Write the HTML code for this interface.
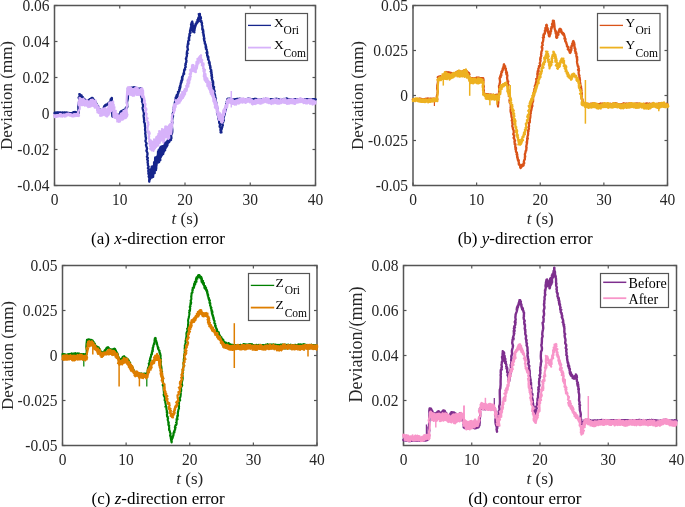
<!DOCTYPE html>
<html><head><meta charset="utf-8"><style>
html,body{margin:0;padding:0;background:#fff;overflow:hidden;}
svg{display:block;will-change:transform;}
</style></head><body>
<svg width="685" height="507" viewBox="0 0 685 507" font-family='"Liberation Serif", serif' fill="#262626"><rect width="685" height="507" fill="#fff"/><rect x="54.5" y="5.5" width="261.0" height="180.0" fill="none" stroke="#555555" stroke-width="1.5"/><line x1="54.5" y1="185.5" x2="57.5" y2="185.5" stroke="#555555" stroke-width="1.2"/><line x1="315.5" y1="185.5" x2="312.5" y2="185.5" stroke="#555555" stroke-width="1.2"/><line x1="54.5" y1="149.5" x2="57.5" y2="149.5" stroke="#555555" stroke-width="1.2"/><line x1="315.5" y1="149.5" x2="312.5" y2="149.5" stroke="#555555" stroke-width="1.2"/><line x1="54.5" y1="113.5" x2="57.5" y2="113.5" stroke="#555555" stroke-width="1.2"/><line x1="315.5" y1="113.5" x2="312.5" y2="113.5" stroke="#555555" stroke-width="1.2"/><line x1="54.5" y1="77.5" x2="57.5" y2="77.5" stroke="#555555" stroke-width="1.2"/><line x1="315.5" y1="77.5" x2="312.5" y2="77.5" stroke="#555555" stroke-width="1.2"/><line x1="54.5" y1="41.5" x2="57.5" y2="41.5" stroke="#555555" stroke-width="1.2"/><line x1="315.5" y1="41.5" x2="312.5" y2="41.5" stroke="#555555" stroke-width="1.2"/><line x1="54.5" y1="5.5" x2="57.5" y2="5.5" stroke="#555555" stroke-width="1.2"/><line x1="315.5" y1="5.5" x2="312.5" y2="5.5" stroke="#555555" stroke-width="1.2"/><line x1="54.5" y1="185.5" x2="54.5" y2="182.5" stroke="#555555" stroke-width="1.2"/><line x1="54.5" y1="5.5" x2="54.5" y2="8.5" stroke="#555555" stroke-width="1.2"/><line x1="119.75" y1="185.5" x2="119.75" y2="182.5" stroke="#555555" stroke-width="1.2"/><line x1="119.75" y1="5.5" x2="119.75" y2="8.5" stroke="#555555" stroke-width="1.2"/><line x1="185.0" y1="185.5" x2="185.0" y2="182.5" stroke="#555555" stroke-width="1.2"/><line x1="185.0" y1="5.5" x2="185.0" y2="8.5" stroke="#555555" stroke-width="1.2"/><line x1="250.25" y1="185.5" x2="250.25" y2="182.5" stroke="#555555" stroke-width="1.2"/><line x1="250.25" y1="5.5" x2="250.25" y2="8.5" stroke="#555555" stroke-width="1.2"/><line x1="315.5" y1="185.5" x2="315.5" y2="182.5" stroke="#555555" stroke-width="1.2"/><line x1="315.5" y1="5.5" x2="315.5" y2="8.5" stroke="#555555" stroke-width="1.2"/><rect x="413.0" y="5.5" width="254.5" height="180.0" fill="none" stroke="#555555" stroke-width="1.5"/><line x1="413.0" y1="185.5" x2="416.0" y2="185.5" stroke="#555555" stroke-width="1.2"/><line x1="667.5" y1="185.5" x2="664.5" y2="185.5" stroke="#555555" stroke-width="1.2"/><line x1="413.0" y1="140.5" x2="416.0" y2="140.5" stroke="#555555" stroke-width="1.2"/><line x1="667.5" y1="140.5" x2="664.5" y2="140.5" stroke="#555555" stroke-width="1.2"/><line x1="413.0" y1="95.5" x2="416.0" y2="95.5" stroke="#555555" stroke-width="1.2"/><line x1="667.5" y1="95.5" x2="664.5" y2="95.5" stroke="#555555" stroke-width="1.2"/><line x1="413.0" y1="50.49999999999997" x2="416.0" y2="50.49999999999997" stroke="#555555" stroke-width="1.2"/><line x1="667.5" y1="50.49999999999997" x2="664.5" y2="50.49999999999997" stroke="#555555" stroke-width="1.2"/><line x1="413.0" y1="5.5" x2="416.0" y2="5.5" stroke="#555555" stroke-width="1.2"/><line x1="667.5" y1="5.5" x2="664.5" y2="5.5" stroke="#555555" stroke-width="1.2"/><line x1="413.0" y1="185.5" x2="413.0" y2="182.5" stroke="#555555" stroke-width="1.2"/><line x1="413.0" y1="5.5" x2="413.0" y2="8.5" stroke="#555555" stroke-width="1.2"/><line x1="476.625" y1="185.5" x2="476.625" y2="182.5" stroke="#555555" stroke-width="1.2"/><line x1="476.625" y1="5.5" x2="476.625" y2="8.5" stroke="#555555" stroke-width="1.2"/><line x1="540.25" y1="185.5" x2="540.25" y2="182.5" stroke="#555555" stroke-width="1.2"/><line x1="540.25" y1="5.5" x2="540.25" y2="8.5" stroke="#555555" stroke-width="1.2"/><line x1="603.875" y1="185.5" x2="603.875" y2="182.5" stroke="#555555" stroke-width="1.2"/><line x1="603.875" y1="5.5" x2="603.875" y2="8.5" stroke="#555555" stroke-width="1.2"/><line x1="667.5" y1="185.5" x2="667.5" y2="182.5" stroke="#555555" stroke-width="1.2"/><line x1="667.5" y1="5.5" x2="667.5" y2="8.5" stroke="#555555" stroke-width="1.2"/><rect x="62.5" y="265.5" width="254.5" height="180.0" fill="none" stroke="#555555" stroke-width="1.5"/><line x1="62.5" y1="445.5" x2="65.5" y2="445.5" stroke="#555555" stroke-width="1.2"/><line x1="317.0" y1="445.5" x2="314.0" y2="445.5" stroke="#555555" stroke-width="1.2"/><line x1="62.5" y1="400.5" x2="65.5" y2="400.5" stroke="#555555" stroke-width="1.2"/><line x1="317.0" y1="400.5" x2="314.0" y2="400.5" stroke="#555555" stroke-width="1.2"/><line x1="62.5" y1="355.5" x2="65.5" y2="355.5" stroke="#555555" stroke-width="1.2"/><line x1="317.0" y1="355.5" x2="314.0" y2="355.5" stroke="#555555" stroke-width="1.2"/><line x1="62.5" y1="310.5" x2="65.5" y2="310.5" stroke="#555555" stroke-width="1.2"/><line x1="317.0" y1="310.5" x2="314.0" y2="310.5" stroke="#555555" stroke-width="1.2"/><line x1="62.5" y1="265.5" x2="65.5" y2="265.5" stroke="#555555" stroke-width="1.2"/><line x1="317.0" y1="265.5" x2="314.0" y2="265.5" stroke="#555555" stroke-width="1.2"/><line x1="62.5" y1="445.5" x2="62.5" y2="442.5" stroke="#555555" stroke-width="1.2"/><line x1="62.5" y1="265.5" x2="62.5" y2="268.5" stroke="#555555" stroke-width="1.2"/><line x1="126.125" y1="445.5" x2="126.125" y2="442.5" stroke="#555555" stroke-width="1.2"/><line x1="126.125" y1="265.5" x2="126.125" y2="268.5" stroke="#555555" stroke-width="1.2"/><line x1="189.75" y1="445.5" x2="189.75" y2="442.5" stroke="#555555" stroke-width="1.2"/><line x1="189.75" y1="265.5" x2="189.75" y2="268.5" stroke="#555555" stroke-width="1.2"/><line x1="253.375" y1="445.5" x2="253.375" y2="442.5" stroke="#555555" stroke-width="1.2"/><line x1="253.375" y1="265.5" x2="253.375" y2="268.5" stroke="#555555" stroke-width="1.2"/><line x1="317.0" y1="445.5" x2="317.0" y2="442.5" stroke="#555555" stroke-width="1.2"/><line x1="317.0" y1="265.5" x2="317.0" y2="268.5" stroke="#555555" stroke-width="1.2"/><rect x="403.5" y="265.5" width="273.0" height="180.0" fill="none" stroke="#555555" stroke-width="1.5"/><line x1="403.5" y1="400.5" x2="406.5" y2="400.5" stroke="#555555" stroke-width="1.2"/><line x1="676.5" y1="400.5" x2="673.5" y2="400.5" stroke="#555555" stroke-width="1.2"/><line x1="403.5" y1="355.5" x2="406.5" y2="355.5" stroke="#555555" stroke-width="1.2"/><line x1="676.5" y1="355.5" x2="673.5" y2="355.5" stroke="#555555" stroke-width="1.2"/><line x1="403.5" y1="310.5" x2="406.5" y2="310.5" stroke="#555555" stroke-width="1.2"/><line x1="676.5" y1="310.5" x2="673.5" y2="310.5" stroke="#555555" stroke-width="1.2"/><line x1="403.5" y1="265.5" x2="406.5" y2="265.5" stroke="#555555" stroke-width="1.2"/><line x1="676.5" y1="265.5" x2="673.5" y2="265.5" stroke="#555555" stroke-width="1.2"/><line x1="403.5" y1="445.5" x2="403.5" y2="442.5" stroke="#555555" stroke-width="1.2"/><line x1="403.5" y1="265.5" x2="403.5" y2="268.5" stroke="#555555" stroke-width="1.2"/><line x1="471.75" y1="445.5" x2="471.75" y2="442.5" stroke="#555555" stroke-width="1.2"/><line x1="471.75" y1="265.5" x2="471.75" y2="268.5" stroke="#555555" stroke-width="1.2"/><line x1="540.0" y1="445.5" x2="540.0" y2="442.5" stroke="#555555" stroke-width="1.2"/><line x1="540.0" y1="265.5" x2="540.0" y2="268.5" stroke="#555555" stroke-width="1.2"/><line x1="608.25" y1="445.5" x2="608.25" y2="442.5" stroke="#555555" stroke-width="1.2"/><line x1="608.25" y1="265.5" x2="608.25" y2="268.5" stroke="#555555" stroke-width="1.2"/><line x1="676.5" y1="445.5" x2="676.5" y2="442.5" stroke="#555555" stroke-width="1.2"/><line x1="676.5" y1="265.5" x2="676.5" y2="268.5" stroke="#555555" stroke-width="1.2"/><polyline points="54.00,112.98 54.85,112.80 55.20,112.67 54.41,113.08 55.04,112.56 55.01,113.11 55.17,112.68 55.10,112.57 55.50,112.81 55.36,112.69 55.71,112.68 55.40,112.71 56.06,113.04 55.81,112.91 56.61,113.12 56.21,112.58 56.72,112.93 56.55,113.05 56.93,112.98 56.97,112.65 57.35,112.98 57.22,112.74 57.00,112.45 57.30,112.89 57.56,112.50 57.81,112.81 57.70,112.60 58.16,112.67 57.90,112.66 57.66,112.63 58.46,112.36 58.48,112.91 58.18,112.55 59.12,112.61 58.80,112.77 58.62,112.82 59.46,112.61 59.09,112.65 59.31,112.47 58.89,112.88 59.83,112.79 59.88,112.86 59.78,112.82 59.81,112.68 60.38,112.39 59.84,112.71 60.25,112.69 60.23,112.62 60.64,112.74 60.60,112.80 60.49,112.47 60.97,112.58 61.31,113.01 61.46,112.99 61.61,112.69 60.97,112.96 61.03,112.58 61.39,113.04 61.89,112.67 61.46,112.83 62.04,112.73 61.91,112.75 62.22,113.09 62.37,112.86 62.40,112.69 62.33,112.94 63.17,112.76 62.60,113.00 63.33,113.06 62.66,112.71 63.49,112.78 63.60,112.79 63.56,113.09 64.12,112.81 63.79,113.15 64.04,112.79 64.10,112.88 64.28,112.83 64.07,112.66 64.77,113.19 64.88,112.78 65.09,112.76 64.69,113.01 64.41,112.70 64.56,113.06 65.61,113.01 64.94,112.85 65.87,113.02 65.53,112.91 65.50,112.71 65.95,112.60 65.59,112.73 66.19,112.53 66.15,112.65 66.65,112.67 65.92,113.02 66.35,112.60 66.93,113.09 66.49,112.71 67.24,112.93 66.87,113.10 67.34,113.09 67.76,112.87 67.63,112.75 67.20,112.69 67.37,113.21 67.88,113.15 67.77,113.23 67.82,112.96 68.26,113.31 68.67,113.40 68.46,112.94 68.07,112.96 69.02,112.97 69.11,113.44 69.02,113.20 68.91,113.50 68.88,113.40 69.05,113.13 69.47,113.64 69.49,113.69 69.94,113.32 69.29,113.67 69.50,113.58 70.42,113.26 69.90,113.22 70.20,113.79 70.08,113.27 70.78,113.34 71.07,113.25 71.25,113.40 70.70,113.70 71.01,113.29 71.31,113.17 70.80,113.10 71.21,113.63 71.49,113.37 71.22,113.16 72.26,113.47 71.52,113.46 72.15,112.96 72.21,113.37 72.45,113.15 72.45,112.84 72.28,112.81 72.44,112.62 72.74,113.11 73.06,112.86 72.93,112.98 72.99,112.54 73.64,112.50 73.22,112.80 73.58,112.41 73.76,112.52 73.31,112.28 73.49,112.24 73.61,112.39 74.30,112.07 74.58,112.18 74.78,112.28 74.54,112.05 74.24,112.43 74.47,112.51 75.40,112.40 74.86,112.43 75.18,112.01 75.09,112.51 75.06,112.51 75.08,112.53 76.07,112.20 76.20,112.52 76.17,112.58 75.72,112.52 75.83,112.40 76.46,112.62 75.99,112.38 76.85,112.85 76.71,112.65 76.75,112.88 76.76,112.66 76.57,112.63 77.09,112.92 76.86,112.92 77.06,112.85 77.31,112.76 77.57,113.23 77.91,113.02 77.43,112.97 78.05,113.19 78.11,113.30 78.53,113.36 78.42,109.88 78.28,106.81 78.74,103.55 79.22,100.62 79.09,98.96 78.65,97.55 79.60,96.54 79.63,95.04 79.31,94.18 79.98,94.23 79.95,94.20 79.97,94.58 80.40,94.81 80.20,95.02 80.01,94.70 80.45,94.88 80.06,95.35 80.85,95.44 80.78,95.38 81.12,95.41 81.50,95.48 81.27,96.07 81.68,95.89 81.03,96.44 81.86,96.46 81.85,96.53 82.20,96.53 81.78,96.98 81.96,97.02 81.98,96.77 82.69,96.89 82.02,97.53 82.44,97.46 82.45,97.31 83.03,97.53 82.60,97.54 82.56,97.95 83.27,98.21 83.00,98.49 83.46,98.31 83.63,98.47 83.85,98.61 84.10,99.10 83.97,99.37 84.40,99.25 84.24,99.58 84.08,99.52 84.73,99.41 84.80,99.46 85.14,99.77 85.27,99.95 84.93,99.63 84.86,99.95 85.03,99.96 84.80,100.03 85.37,100.04 85.45,100.01 85.86,100.35 85.95,100.24 85.63,100.22 85.83,100.06 86.56,100.47 86.31,100.67 86.39,100.82 86.46,100.78 87.16,100.78 86.47,100.57 86.96,100.82 86.55,100.71 87.10,100.78 87.66,100.85 87.66,101.00 87.80,101.24 87.92,101.05 87.95,101.19 87.83,101.09 88.19,100.99 88.46,101.08 88.57,100.93 88.53,100.82 88.32,100.44 89.05,100.56 88.46,100.36 88.92,100.44 88.60,100.12 89.43,100.05 89.16,99.90 88.95,99.95 90.01,99.76 89.59,99.78 89.92,99.68 89.64,99.29 89.83,99.60 90.52,99.02 90.18,99.19 90.68,99.09 90.72,98.79 91.01,99.01 90.93,98.65 91.00,98.53 91.36,98.39 91.02,98.71 91.78,98.22 91.79,98.41 91.97,97.90 91.51,98.15 92.08,97.93 91.64,98.03 91.74,97.82 92.14,97.92 92.55,98.09 92.21,98.11 92.22,98.27 92.92,98.23 93.08,98.57 93.17,98.69 92.89,99.17 93.10,99.00 92.93,99.42 93.01,99.43 93.97,99.86 93.24,99.82 94.15,100.30 94.07,100.64 94.42,100.46 94.41,100.51 94.24,100.68 94.34,101.10 94.32,101.09 94.68,101.66 94.55,101.70 94.80,101.97 95.50,102.08 94.77,102.51 95.70,102.58 95.35,102.49 96.02,102.84 96.10,102.93 95.50,103.34 95.49,103.63 96.26,103.37 96.11,103.53 96.31,103.78 96.88,104.42 96.16,104.15 96.27,104.85 96.47,104.73 96.51,104.85 97.35,105.40 97.58,105.66 97.25,105.88 97.95,106.10 97.35,106.34 98.17,106.24 97.71,106.80 98.05,107.05 97.67,107.25 98.15,107.40 98.74,107.56 98.65,107.95 98.86,108.38 98.99,108.64 99.34,108.61 99.41,108.80 99.47,109.48 98.84,109.25 99.34,109.96 99.98,109.95 99.65,110.00 99.38,110.49 100.08,110.71 99.52,111.25 99.72,111.11 99.84,111.35 100.26,110.96 100.31,111.44 100.92,111.15 101.11,111.61 100.80,111.37 101.06,111.39 100.96,111.49 101.71,111.82 100.98,111.74 101.45,111.83 101.84,112.07 101.95,112.02 102.27,111.87 101.79,112.08 102.00,111.35 101.85,111.23 102.45,110.79 102.82,110.27 102.45,110.30 102.61,109.75 103.14,109.43 103.04,109.19 103.55,108.65 103.09,108.41 103.87,107.92 103.93,107.83 104.12,107.77 104.20,107.37 104.20,107.10 104.05,106.50 104.64,106.65 104.48,106.65 104.26,106.52 104.67,106.52 104.62,106.08 104.81,106.32 104.55,105.73 105.09,105.94 104.84,105.97 105.51,105.58 105.01,105.26 105.30,105.47 105.42,105.11 105.81,105.34 105.48,104.92 106.18,105.30 106.52,104.81 106.15,104.63 106.62,105.05 106.93,104.63 107.03,104.73 106.71,104.83 106.96,104.62 107.34,104.69 107.48,104.48 107.04,104.56 107.66,103.99 107.55,104.24 107.57,103.98 108.09,104.13 107.46,103.85 108.00,103.91 107.97,103.41 107.80,103.61 108.22,103.16 108.79,103.51 108.71,103.44 108.85,103.09 108.96,102.94 109.50,102.99 109.30,102.62 109.10,102.43 109.51,102.41 110.02,102.30 109.81,101.94 110.03,102.29 109.79,101.90 110.49,101.65 110.34,101.81 110.73,101.66 110.31,101.33 110.85,100.79 110.92,100.43 110.64,100.19 110.54,99.87 110.97,99.51 110.85,99.01 111.66,98.85 111.21,98.75 111.31,98.70 111.91,98.11 111.73,97.93 111.92,101.09 112.06,104.17 112.42,107.44 111.96,110.03 112.20,113.68 112.35,116.25 113.18,116.51 113.08,116.45 112.57,116.70 113.60,116.57 113.26,116.53 113.80,116.42 113.09,116.80 113.53,116.56 113.35,116.64 113.64,116.41 114.28,116.56 114.40,116.81 113.83,116.72 114.53,116.57 114.50,116.54 114.23,116.93 114.35,116.92 115.27,116.67 115.01,116.58 115.51,116.73 115.03,117.10 115.77,116.82 115.21,116.87 115.46,117.02 115.26,116.87 116.03,117.19 116.47,117.16 116.17,116.77 116.51,116.88 116.11,117.13 116.71,116.78 116.26,116.86 116.82,116.73 117.34,116.96 117.12,116.90 117.05,116.66 117.46,116.72 117.10,116.69 117.48,116.72 117.75,116.68 118.15,116.55 117.93,116.83 117.84,116.41 118.29,116.76 118.66,116.79 118.39,116.45 118.15,116.42 118.40,116.27 118.81,116.20 118.96,116.52 118.75,116.23 119.22,115.66 119.20,115.79 118.93,114.98 119.65,114.88 119.38,114.47 120.27,114.55 120.01,114.07 119.56,113.90 119.80,113.52 120.56,113.20 119.96,113.19 120.77,112.57 120.49,112.32 120.34,112.16 120.56,111.76 121.48,111.73 120.92,111.62 121.07,111.39 121.25,111.23 121.40,111.42 121.82,111.27 121.91,111.24 121.83,111.19 122.17,111.02 122.24,110.87 122.19,110.83 122.56,110.99 122.10,110.73 122.35,110.65 122.73,110.43 122.68,110.57 123.08,110.36 123.08,110.43 123.17,110.16 123.47,110.44 123.89,110.33 123.86,110.38 123.61,109.92 123.58,110.26 123.69,110.35 123.89,110.27 124.65,110.20 124.81,109.84 124.90,109.68 124.61,109.76 124.90,109.54 125.09,109.58 125.15,109.84 125.63,109.30 125.44,109.79 125.49,109.26 125.51,109.36 125.78,109.10 126.24,108.68 126.04,108.47 126.03,108.05 126.39,107.83 125.86,107.60 126.08,107.46 126.42,107.49 127.18,107.14 126.97,107.31 127.27,107.04 127.38,106.50 127.26,106.28 126.99,102.32 127.88,98.54 127.98,94.24 127.89,92.26 128.14,90.65 127.93,88.08 127.92,88.28 128.19,88.55 128.51,88.48 128.06,88.37 129.02,88.47 128.90,88.16 128.72,88.35 129.48,88.48 129.53,88.07 129.59,88.28 129.60,88.14 129.34,88.09 129.79,88.60 129.72,88.48 129.88,88.28 130.23,88.44 130.08,88.08 130.33,88.27 130.73,88.48 130.39,87.99 130.17,87.95 130.45,87.90 131.06,88.29 130.81,88.28 131.61,87.87 131.72,88.24 131.29,87.72 131.76,88.06 131.68,88.20 131.28,87.85 132.38,88.07 132.19,88.10 131.89,87.73 132.71,87.96 132.08,88.04 132.54,87.79 132.95,87.67 133.00,87.95 133.09,87.79 133.07,87.74 133.43,87.48 133.42,87.38 133.47,87.53 133.51,87.68 133.40,87.87 134.24,87.29 133.69,87.47 134.13,87.54 134.37,87.89 134.32,87.50 134.41,87.60 134.20,87.60 134.55,87.61 135.11,87.52 134.57,87.65 135.38,87.80 135.29,87.97 135.13,87.98 135.17,87.67 135.32,87.84 135.32,87.96 135.55,87.81 136.22,87.90 135.74,88.15 136.54,88.14 136.35,88.28 136.12,88.23 136.13,88.42 136.23,88.57 136.68,88.60 137.02,88.61 137.09,88.33 136.92,88.35 137.09,88.58 137.92,88.79 137.89,88.65 137.89,88.60 137.84,88.71 138.26,88.59 138.02,88.68 138.49,88.76 138.42,88.95 138.19,89.07 138.89,88.66 139.00,88.82 138.94,89.20 139.29,88.69 138.81,89.00 139.20,88.73 139.72,88.67 139.76,89.00 139.99,88.79 139.91,88.61 139.32,88.66 139.64,88.55 139.95,88.90 140.31,88.70 140.46,88.53 140.87,88.74 140.93,88.60 140.97,88.84 140.59,88.48 141.28,88.25 141.13,88.23 140.74,88.39 141.67,91.25 141.92,94.45 141.22,95.88 141.30,96.96 141.82,98.02 142.10,99.56 142.15,100.33 141.96,101.75 142.77,102.89 142.80,104.49 143.05,105.18 143.11,106.66 142.55,107.74 142.81,109.43 143.16,110.16 143.62,111.99 143.90,112.90 143.88,114.40 143.56,115.58 143.76,117.01 143.97,118.30 144.02,119.56 144.26,120.55 143.95,121.76 144.78,123.39 144.92,124.67 144.95,126.44 145.30,127.68 145.01,129.37 145.13,130.43 145.59,131.84 145.18,133.49 145.57,135.08 145.55,136.56 146.04,138.05 145.81,139.40 145.44,141.07 145.89,142.13 146.59,143.61 145.93,145.02 146.45,146.56 147.07,148.31 146.81,149.76 146.39,150.70 147.27,152.49 147.55,153.70 147.28,155.29 146.90,156.75 147.89,157.90 147.16,159.37 147.93,160.79 147.54,162.19 147.94,163.61 147.89,165.29 148.69,166.77 147.91,168.14 148.89,169.24 148.22,170.96 148.58,172.11 148.37,173.69 149.22,174.83 148.64,176.57 149.39,177.79 149.27,179.36 149.17,180.82 149.23,181.71 149.35,181.08 149.55,179.15 150.45,176.89 150.58,176.90 149.96,178.40 149.88,179.41 150.03,179.43 150.68,172.18 151.02,169.49 151.20,169.96 151.04,169.17 150.93,170.70 151.15,173.43 151.56,172.16 151.21,169.79 151.46,174.96 151.72,177.60 151.44,172.22 151.65,166.76 152.34,173.61 152.24,177.33 152.28,174.25 152.49,166.32 153.00,173.86 153.16,176.85 153.00,171.78 153.06,170.78 153.29,172.94 153.29,175.12 153.80,169.79 153.62,172.37 154.04,170.46 153.62,170.67 154.09,166.19 154.08,162.14 153.98,173.44 154.58,166.83 154.71,173.14 154.52,168.56 154.91,165.52 155.18,163.96 155.28,158.62 154.97,168.61 155.13,157.85 155.71,165.62 155.26,169.25 155.30,157.50 155.96,170.17 156.13,157.30 156.18,168.96 156.66,157.95 156.01,164.51 156.45,165.18 156.44,162.13 156.62,157.84 156.79,160.91 156.52,165.49 157.51,155.75 157.32,161.28 157.07,161.32 157.16,157.77 158.06,154.15 158.08,162.11 158.03,151.61 157.95,155.59 157.61,160.38 158.25,155.99 158.34,162.57 158.55,154.80 158.37,158.14 158.48,157.42 158.64,150.05 158.94,150.84 159.45,156.09 159.45,159.09 159.09,162.00 159.18,153.73 159.59,150.02 159.33,155.07 160.30,160.10 159.45,148.97 160.31,148.69 159.77,158.45 160.36,147.70 159.97,151.57 160.29,147.45 160.50,149.64 160.58,153.67 160.67,149.73 160.82,157.21 161.16,153.13 161.24,150.37 161.14,146.63 161.85,153.47 161.39,148.60 161.43,155.94 162.34,154.49 162.42,147.33 161.76,147.22 162.18,148.47 162.41,151.41 162.76,153.26 162.42,146.26 162.46,152.30 163.28,154.07 162.88,146.75 163.14,146.88 162.88,146.66 163.17,146.51 163.55,147.22 163.88,151.74 164.21,149.19 163.90,146.96 164.43,145.54 164.64,150.74 163.96,148.23 164.77,143.70 164.63,150.07 165.16,150.10 164.72,148.58 164.83,146.11 165.07,145.49 164.85,142.60 165.42,143.55 165.69,148.26 165.56,143.17 165.36,146.18 165.96,142.46 166.12,143.32 166.46,142.79 166.15,143.48 166.74,144.72 166.82,146.59 166.17,145.07 166.76,142.21 167.08,146.20 166.83,141.96 167.11,145.56 167.58,144.87 167.48,144.22 167.32,143.48 168.05,140.96 167.50,140.47 168.31,142.62 167.72,140.89 167.93,143.04 168.09,141.32 168.80,139.95 167.99,142.11 168.24,139.90 169.12,140.72 168.59,139.83 169.00,140.28 169.15,142.10 169.28,141.96 169.74,140.30 169.47,140.64 169.48,140.29 169.32,139.91 170.14,139.09 169.71,138.75 169.99,138.72 170.12,138.27 170.56,139.79 170.10,140.40 170.33,139.63 170.84,138.66 171.06,139.91 170.54,140.17 171.13,138.25 170.83,137.40 171.46,138.17 171.10,135.37 171.91,133.61 172.30,131.97 172.32,129.82 172.05,127.52 171.77,124.98 172.49,122.10 171.99,121.37 172.43,117.97 173.07,116.01 172.67,113.73 173.45,111.89 173.26,110.98 173.19,110.00 173.10,110.59 173.67,109.16 173.72,108.81 173.95,108.24 173.75,107.21 174.05,106.68 174.53,106.29 174.23,105.41 174.89,105.39 174.77,103.93 174.91,103.30 174.81,102.37 175.13,102.47 175.35,102.31 175.18,101.17 175.37,99.75 175.68,99.87 175.66,98.65 175.93,97.83 175.76,98.67 176.11,98.23 175.66,97.44 176.06,97.82 176.27,96.73 176.90,97.40 177.04,96.76 176.69,95.94 176.56,95.43 176.51,96.37 177.08,95.77 177.69,95.95 177.09,94.45 177.28,95.38 177.99,93.95 177.51,94.26 177.75,93.87 178.00,93.44 178.19,92.74 178.29,93.53 178.11,93.00 177.96,91.81 178.19,92.67 178.85,91.53 178.94,91.73 179.26,91.02 179.41,90.73 179.42,89.89 179.22,89.41 179.14,89.35 179.94,88.82 179.41,87.71 179.79,88.49 180.38,87.14 179.77,87.16 179.91,86.40 180.41,86.13 180.05,85.66 180.34,85.34 180.68,84.73 180.47,84.29 180.97,82.63 181.09,83.38 180.92,82.30 181.31,81.87 181.76,81.89 181.29,80.84 182.24,79.91 181.62,80.10 181.74,79.92 182.53,78.96 181.89,78.01 182.07,77.48 182.36,77.47 182.19,76.88 182.75,76.71 182.73,76.59 182.87,75.89 182.86,75.65 183.27,74.80 183.49,74.27 183.40,73.89 184.16,73.81 183.98,72.94 183.79,72.67 184.06,71.99 184.12,71.33 184.08,70.90 184.19,69.97 184.37,69.94 185.16,69.68 184.71,69.13 184.85,68.85 185.24,67.50 185.18,67.38 185.75,67.01 185.25,65.26 185.85,64.36 185.45,63.73 186.31,62.22 186.14,62.13 186.50,60.77 185.85,58.70 186.30,58.36 186.33,57.49 186.97,55.87 186.70,54.08 186.95,53.12 187.53,53.31 186.81,52.30 187.34,50.50 187.62,49.91 187.99,49.68 187.33,46.70 187.46,47.60 187.55,46.81 187.69,45.02 188.02,43.07 188.52,44.00 188.08,41.98 188.25,41.31 188.70,40.22 189.26,40.10 189.00,38.29 188.74,38.76 188.86,37.46 189.20,38.09 189.46,35.17 190.00,35.62 189.45,35.36 189.38,35.09 189.54,33.79 189.82,33.40 190.58,32.63 190.00,31.85 190.13,30.18 191.15,30.30 190.94,29.09 190.56,28.75 190.90,27.28 191.09,27.56 191.36,25.86 191.01,24.74 191.10,24.11 191.66,24.53 191.91,23.69 192.28,21.52 191.61,22.80 192.51,22.77 192.71,23.70 192.64,25.55 192.89,27.27 192.28,27.20 193.05,27.72 193.08,28.97 193.46,29.25 193.38,29.77 193.02,31.55 193.13,30.60 193.60,31.34 193.32,29.72 194.36,32.41 193.97,30.39 193.72,30.51 194.42,29.72 194.52,30.57 194.41,28.66 194.65,29.25 194.98,27.38 194.44,26.74 195.37,26.61 194.72,25.79 195.66,24.85 195.54,24.62 195.52,24.31 195.37,26.21 195.87,24.39 195.95,24.84 195.56,24.12 195.92,24.41 196.21,24.23 196.90,23.07 197.00,22.97 196.69,23.13 196.46,22.35 196.86,23.24 196.72,22.69 197.32,22.25 197.46,22.65 197.60,21.51 197.52,21.74 197.48,21.58 197.45,19.86 198.32,21.57 197.81,20.53 198.47,19.91 198.11,18.48 198.93,16.69 198.91,18.35 198.92,16.24 198.86,16.79 199.42,14.08 199.34,14.48 198.76,14.03 198.84,14.02 199.92,13.91 199.65,15.41 199.89,14.30 199.97,15.98 200.39,16.59 200.20,16.36 200.31,16.97 200.03,17.75 200.09,16.52 200.66,16.88 201.01,18.30 200.50,18.67 200.57,21.13 201.29,20.61 201.00,21.83 201.43,21.58 201.84,22.58 202.04,23.36 201.85,23.58 201.84,24.88 202.30,25.93 202.38,26.18 202.38,26.64 202.29,28.88 202.35,29.65 203.03,29.50 203.03,31.34 203.31,30.79 203.36,31.77 202.84,32.46 203.44,33.12 203.39,34.94 203.68,34.44 203.91,36.21 203.57,35.62 204.08,37.36 204.41,38.33 204.33,38.72 203.80,38.80 204.35,40.00 204.15,40.80 204.79,41.45 204.97,42.16 204.92,42.19 204.77,42.37 204.83,43.70 205.42,44.05 205.80,45.04 205.59,45.47 205.92,46.10 206.24,47.03 205.55,47.00 206.16,47.86 205.87,48.99 206.40,49.11 206.76,49.67 206.84,50.02 206.90,50.66 207.25,52.11 206.46,52.84 207.47,53.06 207.15,53.78 207.10,54.31 207.35,54.94 207.10,55.73 207.33,55.75 208.30,56.56 208.30,56.73 207.61,56.92 208.12,58.27 208.51,57.82 208.05,59.52 208.44,59.67 208.29,59.43 208.65,60.00 209.01,60.93 209.45,61.93 208.90,62.82 209.74,63.06 209.59,63.10 209.75,64.71 209.56,64.88 210.21,65.86 209.81,65.50 210.12,65.64 210.55,67.44 210.14,67.01 210.28,67.78 210.31,68.59 211.19,69.83 211.02,71.01 211.43,71.02 210.69,71.63 211.57,72.40 211.21,73.84 211.66,73.93 211.94,75.11 211.36,75.78 211.63,76.03 212.24,77.43 211.66,78.24 212.23,79.56 212.09,79.75 212.24,80.10 213.06,81.37 212.62,81.65 212.43,82.45 213.31,82.82 212.69,84.92 213.23,84.42 213.15,85.48 213.22,87.02 214.06,86.82 213.96,88.16 213.43,88.96 213.55,90.13 214.13,89.81 214.72,91.39 214.04,90.96 214.16,91.69 214.23,93.66 214.47,93.86 214.68,93.83 215.07,95.04 215.19,96.76 215.07,97.14 215.40,97.50 215.95,98.65 215.21,99.24 215.63,99.88 215.84,100.96 216.30,102.74 216.53,103.19 215.89,104.45 216.09,105.03 216.48,105.50 216.26,106.17 217.06,106.92 217.39,108.85 217.18,108.41 217.26,109.52 217.03,110.87 217.48,111.13 217.97,111.79 217.27,113.67 218.22,114.27 218.10,113.93 217.82,115.27 218.34,116.48 218.84,117.21 218.69,118.17 218.22,118.78 218.76,118.77 218.78,119.77 219.13,120.95 219.11,121.75 219.16,122.65 219.49,123.48 219.68,123.39 219.87,123.77 220.12,125.23 219.86,125.27 219.63,126.76 220.60,127.77 220.59,128.35 220.41,129.57 220.97,129.73 220.49,130.73 221.11,131.37 220.60,132.49 221.29,132.31 221.46,132.40 221.24,131.42 221.24,131.36 221.14,129.83 221.87,128.91 221.59,128.92 221.67,128.31 222.27,127.21 222.21,126.95 222.36,126.27 222.85,125.41 222.71,124.60 222.31,124.22 222.44,122.69 223.07,122.23 223.34,121.75 223.66,120.56 223.88,120.01 223.89,119.35 223.19,118.86 223.69,117.99 223.66,117.67 223.72,116.70 224.21,115.86 223.96,115.61 224.15,115.13 224.72,114.58 224.61,113.99 224.91,113.29 224.84,112.61 224.82,111.87 225.60,111.16 225.63,110.39 225.09,110.18 225.89,109.39 225.68,108.83 225.47,108.22 226.17,107.91 225.90,106.89 226.55,106.55 226.09,105.86 226.47,105.15 226.75,104.88 226.20,103.90 226.56,103.57 226.59,103.12 227.35,102.62 226.69,101.59 226.91,101.36 227.31,100.39 227.14,99.83 227.83,99.49 227.36,99.07 227.90,98.63 227.76,99.05 227.79,98.97 228.67,99.17 228.31,99.20 228.87,98.70 228.53,98.93 229.01,98.94 228.86,99.13 228.70,98.87 229.64,98.76 228.87,99.32 229.90,99.11 230.02,99.12 229.90,98.87 229.42,99.31 230.37,98.94 230.17,98.97 230.39,99.39 230.10,99.32 230.07,99.38 230.54,99.12 230.21,99.32 230.67,98.95 231.34,99.01 231.14,99.20 231.54,99.20 231.70,99.51 231.54,99.01 231.97,99.44 231.65,99.32 231.31,99.10 231.71,99.02 231.96,99.45 231.95,99.35 232.72,99.62 232.31,99.21 232.45,99.12 232.91,99.21 232.99,99.27 233.14,99.10 232.84,99.48 233.54,99.57 233.50,99.66 233.51,99.39 233.37,99.60 233.97,99.68 234.06,99.58 234.24,99.20 234.24,99.44 234.10,99.57 234.66,99.63 233.95,99.79 234.83,99.75 234.94,99.56 234.71,99.42 235.36,99.24 235.07,99.70 235.51,99.58 235.38,99.31 235.51,99.64 235.31,99.79 235.96,99.60 236.25,99.42 235.58,99.43 235.95,99.27 236.60,99.75 236.47,99.68 236.57,99.43 237.01,99.47 236.57,99.33 237.11,99.51 236.59,99.50 236.83,99.41 236.94,99.17 236.93,98.99 237.73,99.37 238.01,99.00 237.97,99.20 237.39,98.92 237.53,99.36 238.22,98.87 238.10,98.86 237.92,99.30 238.84,99.30 238.67,99.36 238.34,99.26 239.18,99.09 238.61,99.26 238.96,99.23 239.48,99.03 239.14,99.12 239.87,99.23 239.11,99.21 239.76,98.74 239.40,98.79 239.48,99.27 239.87,98.93 240.63,99.34 240.27,99.27 240.90,98.89 240.70,98.98 240.70,99.34 241.25,99.43 241.15,99.15 240.99,99.02 240.96,99.40 241.57,99.26 241.86,99.20 241.28,99.20 241.42,99.52 241.67,99.69 242.11,99.31 242.19,99.53 241.74,99.37 242.33,99.52 242.15,99.50 242.30,99.92 243.06,99.66 243.09,100.08 243.20,99.59 243.36,99.59 242.91,99.72 242.96,99.83 243.76,99.99 243.86,100.00 243.46,99.71 243.64,100.12 244.01,100.07 243.79,99.71 244.59,100.17 243.83,99.96 244.88,99.60 244.76,100.05 245.10,99.71 245.00,99.57 244.81,99.91 244.75,99.96 245.62,100.02 245.14,99.61 245.28,99.84 245.76,99.68 245.94,99.85 245.67,99.41 246.24,99.25 245.79,99.66 246.04,99.40 245.85,99.24 246.89,99.38 246.82,99.09 246.73,99.41 246.74,99.41 246.51,99.24 247.15,98.92 247.17,99.30 247.31,99.33 247.73,98.98 247.97,99.26 247.41,99.09 247.87,98.86 247.74,98.68 247.82,99.12 248.00,99.02 248.15,98.71 248.22,98.82 248.99,98.82 248.69,98.98 248.61,98.80 248.78,99.13 248.96,98.76 249.63,99.09 249.31,99.20 249.83,98.83 249.65,98.77 249.51,99.36 249.62,99.11 249.55,99.08 250.27,99.23 249.70,98.96 250.17,99.06 250.66,99.20 250.10,99.28 250.64,99.01 251.13,99.12 251.25,99.50 250.78,99.44 250.98,99.57 250.86,99.21 251.90,99.36 251.73,99.55 251.63,99.39 252.32,99.71 252.03,99.37 251.77,99.47 251.78,99.49 252.23,99.66 252.73,99.57 253.02,99.31 252.68,99.76 252.96,99.20 252.66,99.55 252.85,99.59 252.78,99.26 253.58,99.46 253.25,99.49 253.13,99.23 253.45,99.14 253.36,99.13 253.46,99.23 253.58,99.27 253.79,99.17 254.52,99.02 254.73,98.95 254.71,99.30 254.92,99.19 254.73,98.99 254.45,98.85 255.19,99.08 255.54,99.40 255.74,98.85 255.36,99.05 255.17,98.91 255.74,99.09 255.99,99.33 256.04,98.94 255.82,99.33 255.96,99.03 255.97,99.45 256.31,99.27 256.57,99.34 257.06,99.06 256.35,99.28 256.62,99.12 256.74,99.21 257.31,99.44 257.08,99.31 257.33,99.50 257.94,99.61 258.14,99.62 258.18,99.40 258.31,99.50 257.86,99.66 258.56,99.49 257.98,99.65 258.09,99.74 258.34,99.46 258.41,99.92 258.37,100.00 258.46,99.71 259.19,99.94 259.52,100.02 259.25,100.11 259.56,99.80 259.27,99.88 259.59,99.85 259.41,100.13 260.16,100.04 260.15,100.15 259.83,100.02 259.88,100.11 260.07,99.94 260.77,99.70 260.89,99.78 260.42,99.66 260.96,99.72 261.44,99.97 261.65,99.69 261.01,99.77 261.63,99.71 261.20,99.83 261.76,99.93 261.61,99.31 261.51,99.78 262.26,99.43 262.42,99.29 262.10,99.54 262.03,99.64 262.84,99.23 262.42,99.45 263.18,99.30 262.52,99.14 262.78,99.31 262.95,99.39 263.44,99.07 263.50,99.52 264.07,99.50 263.78,99.36 263.41,99.11 263.64,99.20 264.01,99.21 264.28,99.20 264.76,99.19 264.07,99.19 264.82,99.39 264.65,99.08 264.72,99.20 265.45,99.27 265.50,98.90 265.57,99.48 265.50,99.17 265.33,99.18 265.28,99.01 265.49,99.21 265.94,99.07 266.29,99.13 265.81,99.02 265.92,99.24 266.33,99.50 266.16,99.05 266.39,99.45 266.42,99.23 267.09,99.07 266.70,99.27 267.09,99.15 267.66,99.54 266.85,99.67 267.44,99.42 267.51,99.46 267.80,99.70 268.30,99.41 267.47,99.47 268.55,99.54 267.91,99.56 267.87,99.68 268.09,99.69 268.26,99.69 268.46,99.27 269.03,99.49 268.53,99.49 269.42,99.76 268.75,99.41 269.80,99.43 269.13,99.76 270.06,99.31 269.91,99.39 270.16,99.74 270.07,99.67 269.82,99.67 269.92,99.73 270.61,99.26 270.72,99.78 270.18,99.56 270.39,99.50 270.75,99.51 271.01,99.27 271.30,99.66 271.65,99.27 271.20,99.75 271.15,99.78 271.93,99.43 271.61,99.24 271.55,99.20 272.30,99.41 271.68,99.57 272.47,99.67 272.01,99.37 272.90,99.63 272.42,99.32 273.18,99.38 272.36,99.21 272.93,99.28 272.63,99.74 273.24,99.64 273.80,99.68 273.21,99.57 273.10,99.67 273.63,99.71 274.22,99.26 273.85,99.39 274.01,99.26 274.23,99.21 274.10,99.30 274.12,99.03 274.80,99.48 274.36,99.54 275.23,99.53 275.42,99.16 275.44,99.52 275.59,99.25 274.97,98.99 275.66,98.96 275.29,99.44 276.10,98.93 275.47,99.36 275.74,98.84 275.60,98.98 276.55,98.89 276.30,98.83 276.68,99.22 276.23,98.98 276.58,99.05 276.63,99.06 277.44,99.09 276.82,98.81 277.22,99.33 276.92,99.31 276.97,99.45 277.34,99.35 278.02,99.33 278.30,99.37 278.32,99.09 277.78,99.36 277.81,99.15 278.17,99.60 278.09,99.31 278.65,99.62 279.01,99.31 279.14,99.55 278.90,99.70 279.49,99.54 278.82,99.48 279.53,99.93 279.58,100.02 279.53,100.11 279.89,99.59 279.74,99.75 279.80,99.87 280.19,100.00 280.61,99.77 280.58,99.97 280.09,100.00 280.32,100.02 280.89,100.03 280.54,100.28 281.09,100.32 281.18,100.01 281.38,99.96 281.44,100.09 281.68,100.49 281.67,100.26 281.69,100.07 281.84,99.94 281.97,100.47 282.50,100.32 281.85,100.19 282.36,100.41 282.03,100.04 282.94,100.18 282.41,100.03 282.54,100.09 282.71,99.83 283.25,99.88 282.89,99.85 283.07,99.60 283.94,99.71 283.96,99.74 283.25,99.35 283.58,99.56 284.20,99.38 284.48,99.18 284.32,99.31 283.91,99.03 284.01,99.36 284.41,99.29 285.18,99.04 284.66,99.33 284.77,99.00 285.55,98.80 285.44,99.08 285.06,98.92 285.22,99.01 286.04,99.16 285.44,99.17 286.21,98.75 286.03,98.85 285.81,98.99 285.81,98.84 286.82,98.58 286.60,99.00 286.40,98.71 287.22,99.15 287.27,99.00 287.32,98.88 286.82,99.11 286.74,99.25 287.34,98.89 287.33,99.33 287.82,98.87 287.35,99.24 287.74,99.30 288.42,99.18 288.58,99.47 288.11,99.43 287.99,99.27 288.49,99.13 288.68,99.23 288.73,99.30 288.82,99.75 288.78,99.80 289.31,99.36 289.40,99.58 289.29,99.69 289.20,99.59 289.31,99.99 290.12,99.69 290.34,99.93 289.76,99.82 289.67,99.98 290.18,100.04 290.75,99.88 290.80,99.79 290.61,99.98 290.48,100.02 291.06,99.56 290.89,99.95 291.03,99.46 290.80,99.56 291.46,99.51 291.78,99.62 291.71,99.51 291.51,99.51 292.10,99.42 292.15,99.47 292.16,99.70 292.41,99.66 292.63,99.29 292.79,99.52 292.16,99.25 292.54,99.55 292.66,99.73 292.82,99.39 292.82,99.44 293.00,99.67 293.84,99.63 293.80,99.26 293.14,99.59 293.62,99.62 294.16,99.24 293.51,99.13 293.62,99.61 294.30,99.41 294.68,99.28 294.01,99.53 294.97,99.41 294.36,99.28 294.37,99.41 294.98,99.30 295.19,99.22 295.20,99.60 295.05,99.45 295.45,99.14 295.74,99.31 295.69,99.24 296.14,99.50 296.37,99.25 296.53,99.33 296.62,99.74 295.94,99.83 296.58,99.51 296.77,99.51 296.44,99.85 297.23,99.53 296.57,99.55 296.90,99.82 296.80,99.73 297.67,99.73 297.35,99.67 297.63,99.87 297.41,99.70 298.19,99.83 297.79,99.42 297.76,99.81 297.87,99.94 298.32,99.57 298.89,99.50 298.50,99.71 298.98,99.77 299.01,99.73 298.92,99.80 298.74,99.55 299.11,99.77 299.14,99.94 299.43,99.82 299.50,99.44 299.91,99.71 299.59,99.53 300.08,99.41 300.51,99.72 300.07,99.59 300.50,99.77 300.05,99.72 300.51,99.77 300.31,99.68 300.39,99.27 300.57,99.31 301.16,99.78 301.74,99.30 301.54,99.53 301.34,99.67 302.08,99.77 301.59,99.52 302.20,99.53 301.59,99.59 302.27,99.30 302.51,99.39 302.07,99.67 302.66,99.36 303.09,99.42 302.57,99.64 302.98,99.83 303.28,99.75 302.66,99.63 303.73,99.47 302.89,99.75 303.10,99.48 303.77,99.55 303.81,99.96 304.29,99.70 304.39,99.49 303.85,99.80 303.92,99.87 304.33,99.77 304.93,99.47 304.48,99.52 304.51,99.79 304.67,99.45 305.30,99.62 305.54,99.71 305.57,99.46 305.85,99.95 305.09,99.53 305.56,99.80 305.34,99.71 305.76,99.89 305.50,99.88 306.09,99.46 305.95,99.49 306.42,99.84 306.51,99.80 306.76,99.69 306.94,99.29 307.08,99.64 306.54,99.47 307.59,99.66 306.79,99.18 307.61,99.39 307.81,99.39 307.71,99.64 307.89,99.47 307.57,99.32 307.75,99.63 308.14,99.58 308.53,99.52 308.71,99.60 308.83,99.27 308.76,99.60 309.23,99.19 308.75,99.56 309.31,99.26 308.99,99.48 309.73,99.64 309.70,99.51 309.30,99.46 309.82,99.59 309.59,99.65 310.07,99.69 310.34,99.59 310.46,99.42 310.72,99.69 309.93,99.53 310.19,99.32 310.50,99.27 311.24,99.54 311.33,99.24 311.30,99.53 310.97,99.70 311.49,99.63 311.80,99.41 311.01,99.74 311.51,99.72 311.31,99.78 311.88,99.71 311.99,99.37 312.05,99.69 312.63,99.46 312.09,99.68 312.40,99.48 312.32,99.28 312.41,99.22 312.63,99.40 312.59,99.57 313.58,99.27 312.93,99.45 312.89,99.60 313.14,99.28 313.59,99.33 313.74,99.63 314.33,99.61 313.60,99.09 313.92,99.54 314.40,99.33 314.74,99.31 314.26,99.07 314.38,99.10 314.28,99.66 314.59,99.40 314.66,99.53 315.14,99.54 314.83,99.69 315.79,99.44 315.50,99.60" fill="none" stroke="#16258c" stroke-width="2.3" stroke-linejoin="round" /><polyline points="54.29,115.85 55.61,116.52 54.84,117.04 54.41,115.95 54.05,115.07 54.76,116.03 56.03,115.85 55.50,116.17 54.55,115.54 54.90,115.73 56.75,116.13 55.24,116.48 56.59,116.94 56.94,116.57 56.83,116.61 57.34,115.69 55.82,117.00 57.06,116.51 56.81,115.83 57.72,115.86 57.66,115.84 57.89,115.48 57.17,116.64 58.22,115.87 57.47,116.17 57.27,115.02 57.08,116.03 57.41,116.45 57.62,116.41 58.54,116.47 58.29,115.44 58.55,115.73 57.92,114.95 59.49,115.35 57.90,115.57 59.33,115.98 58.38,116.14 58.24,115.77 58.80,115.55 60.13,114.59 59.54,114.32 59.11,115.96 60.51,114.54 60.31,115.00 59.72,114.15 60.47,114.46 61.16,114.27 60.83,114.16 60.01,114.17 59.94,115.93 61.13,114.56 59.96,115.03 60.30,116.38 60.81,114.31 61.73,115.61 61.05,114.54 61.40,114.38 62.10,116.03 62.26,116.36 62.29,116.30 61.45,115.47 61.76,115.91 62.15,114.71 61.63,116.44 62.29,115.82 61.91,115.69 62.27,116.69 62.71,115.93 63.12,114.65 62.24,114.93 62.57,114.70 63.65,114.84 64.47,115.75 64.61,116.68 63.64,115.13 64.06,115.16 64.60,115.97 63.64,116.14 64.30,115.48 63.45,114.54 63.72,115.40 64.11,116.06 64.11,114.65 64.31,114.91 64.93,115.50 65.41,115.00 66.06,114.74 65.83,116.34 65.52,115.13 64.73,115.41 65.80,115.00 65.06,114.43 65.73,115.74 66.97,115.07 65.83,115.22 66.12,115.99 66.87,113.83 66.24,113.96 67.10,115.54 66.78,113.69 66.97,114.52 67.30,114.03 66.82,113.71 68.25,114.33 68.01,113.65 67.77,113.89 67.68,114.31 67.67,115.09 67.24,113.68 68.83,113.59 69.17,114.82 67.42,114.93 69.05,114.86 68.62,115.01 68.66,114.22 68.41,115.21 68.96,114.63 69.73,115.59 69.92,115.57 68.84,114.20 69.02,114.66 69.98,114.56 69.92,115.67 69.07,115.49 71.00,114.51 69.96,114.10 69.42,113.96 71.35,115.83 69.76,115.33 70.09,114.60 71.11,115.46 70.92,114.99 71.08,114.32 71.64,116.20 71.28,114.36 70.89,115.76 71.42,116.18 71.43,115.79 72.32,116.46 71.16,115.56 71.06,115.29 72.89,115.65 72.27,114.75 72.18,115.43 73.37,115.94 72.57,115.93 72.41,116.50 73.19,116.02 73.70,116.05 73.37,114.87 73.58,115.25 73.64,116.49 73.43,114.35 74.39,115.87 74.38,115.72 74.76,114.30 74.21,115.84 74.89,116.20 74.88,114.40 73.77,115.84 74.67,115.76 75.23,114.52 74.97,114.37 74.38,114.99 74.93,115.25 76.06,114.43 74.26,114.12 76.05,115.00 76.01,115.36 75.97,114.96 75.28,114.61 74.93,114.96 76.51,114.02 76.63,114.22 76.06,115.56 76.95,115.31 75.77,115.73 76.39,114.19 76.34,114.87 76.99,113.88 76.73,116.00 76.89,115.08 77.99,114.89 77.67,114.62 77.58,115.04 76.78,116.02 77.36,115.86 78.47,115.50 77.79,115.56 77.31,116.01 78.03,115.60 79.08,115.42 78.76,116.06 78.09,112.99 78.21,111.53 79.79,108.87 79.64,106.05 78.85,105.41 78.40,103.09 78.71,102.06 79.08,100.05 80.47,103.58 80.03,100.24 79.53,104.04 79.48,97.82 80.49,98.59 79.97,100.07 79.85,103.35 80.78,103.53 81.28,100.50 81.52,100.12 80.89,104.62 81.91,102.89 81.64,103.34 82.14,104.35 82.35,103.52 81.77,100.05 81.38,102.97 81.12,100.91 81.61,105.22 82.81,101.59 83.07,99.41 81.34,98.98 82.12,100.69 83.30,105.02 82.53,103.84 82.26,102.19 82.69,104.41 83.31,100.25 82.80,99.23 82.48,105.13 82.82,99.18 83.38,100.01 83.35,100.01 83.27,99.99 83.59,102.77 84.58,100.97 83.46,98.62 84.16,104.63 83.69,104.09 85.24,102.20 85.21,100.90 84.59,102.91 84.71,105.68 85.29,102.03 85.85,101.01 85.48,102.98 86.39,102.64 86.23,105.64 85.50,102.22 84.89,102.74 86.92,100.23 86.92,100.47 87.01,103.89 85.91,100.41 85.44,104.71 86.25,100.84 85.97,101.35 85.98,104.18 87.22,105.88 87.85,101.09 87.14,102.22 86.58,103.94 86.55,103.76 88.39,102.40 87.72,105.46 88.55,104.88 87.91,102.37 87.29,102.32 87.62,102.17 87.75,101.84 88.70,103.67 89.39,106.57 88.73,105.84 88.17,107.22 89.61,101.95 88.53,105.51 88.83,103.80 89.22,104.21 90.10,103.98 89.75,107.00 89.33,104.29 90.86,106.38 90.42,102.17 90.46,105.60 90.37,100.38 89.79,101.54 90.82,104.26 91.14,104.45 90.74,104.89 91.46,99.75 91.71,105.49 90.25,103.61 90.52,100.40 91.52,103.58 92.47,100.00 92.48,105.85 91.40,101.78 92.59,99.67 91.63,103.25 92.34,104.62 92.16,100.99 92.36,103.42 91.82,103.05 92.25,103.48 92.26,105.16 93.04,100.88 93.14,101.43 92.62,105.58 93.73,104.54 93.36,104.77 93.29,102.37 93.23,102.64 93.80,100.62 93.91,100.76 93.72,103.80 94.44,100.88 93.80,106.27 94.80,104.56 94.97,106.76 94.15,102.54 94.46,106.72 95.73,100.62 94.74,102.20 94.75,103.29 95.05,106.55 95.33,104.57 94.66,107.73 95.01,105.99 96.09,102.91 95.13,104.80 96.95,106.68 96.24,107.38 97.21,108.81 96.10,104.22 97.48,110.55 97.16,105.16 97.06,110.39 97.05,109.37 96.55,106.21 97.58,105.21 97.62,106.04 97.37,108.13 97.41,112.55 97.51,109.24 97.32,107.63 98.63,110.13 99.02,107.24 97.36,111.60 98.18,112.05 97.70,110.93 98.66,111.12 98.91,113.22 99.34,112.89 98.05,109.78 98.38,111.75 98.89,109.67 99.61,112.56 100.39,113.48 99.74,110.03 100.09,110.13 99.16,112.66 100.32,112.02 101.01,113.01 99.93,112.16 100.59,115.82 101.07,110.36 101.52,111.97 101.36,113.69 100.90,115.33 100.06,115.72 101.81,111.51 101.60,109.24 101.81,115.71 100.66,114.73 101.85,112.54 101.60,111.78 101.21,114.06 102.20,109.08 102.79,115.10 101.85,113.11 101.47,114.58 103.09,110.20 102.45,114.43 101.99,114.48 102.03,112.38 102.40,109.95 102.96,108.42 102.83,111.65 102.50,112.62 103.58,111.72 104.48,110.94 103.63,109.10 103.65,111.28 104.17,114.75 104.03,111.68 105.18,111.13 104.70,113.74 104.71,109.10 104.35,108.80 105.19,107.95 105.18,115.38 104.53,112.20 105.08,111.18 104.81,111.02 105.90,109.29 106.17,115.58 104.71,112.74 106.45,109.91 106.00,115.97 106.40,112.31 106.57,109.28 106.97,110.36 106.73,111.26 106.59,112.17 107.55,111.20 106.61,114.17 107.70,111.59 107.33,114.10 106.38,116.36 107.52,112.49 108.33,110.89 107.31,116.54 108.18,112.60 107.50,113.47 107.60,114.63 108.36,106.89 107.97,112.50 109.25,110.56 108.22,113.91 108.67,114.89 108.95,108.86 109.58,112.99 109.25,111.48 108.12,108.19 108.39,108.60 109.01,113.93 109.88,109.88 110.21,104.84 108.83,106.31 109.60,109.20 109.81,112.59 109.08,103.11 110.16,102.21 109.40,109.68 110.38,105.15 111.50,111.24 110.96,110.76 110.26,107.20 110.27,107.39 111.73,103.77 111.65,106.47 110.88,105.14 111.60,105.36 112.27,102.32 111.07,110.14 112.46,101.95 111.41,106.94 111.57,105.29 112.39,108.08 111.67,104.13 112.42,102.84 111.96,102.21 113.13,101.39 113.54,109.74 113.56,107.41 112.53,103.50 112.24,109.95 113.92,104.88 112.86,106.88 114.29,109.61 114.50,107.04 114.01,110.58 113.24,112.92 113.48,117.28 115.01,116.16 115.30,113.38 113.80,110.30 113.78,114.03 114.81,116.92 114.45,117.02 115.79,110.87 114.96,112.56 115.43,112.09 114.78,115.00 115.18,111.79 114.94,117.89 116.00,113.66 116.49,117.03 116.71,117.26 116.98,113.62 115.50,112.82 116.94,113.56 117.36,116.77 117.54,120.45 116.47,117.87 117.35,120.54 117.12,115.05 116.18,113.91 117.71,118.56 117.90,120.29 117.99,115.21 118.00,121.37 117.36,117.93 118.15,115.14 117.25,121.54 118.94,120.67 118.96,117.57 118.00,116.38 119.28,119.30 117.83,119.23 118.92,121.98 118.36,121.10 118.21,118.01 119.03,116.86 119.60,118.21 119.08,120.95 119.85,121.46 119.04,117.32 120.11,121.45 120.29,114.91 119.89,117.14 119.63,119.78 120.39,116.09 119.61,120.59 121.01,119.98 121.02,115.04 121.24,118.22 120.58,117.49 120.55,117.13 121.02,116.67 120.80,113.90 121.25,115.61 122.08,117.21 121.83,114.74 121.30,115.25 122.89,113.57 122.76,119.80 121.53,113.63 121.96,113.00 121.50,115.52 122.99,115.40 122.12,118.68 123.46,111.79 122.62,114.80 122.66,112.85 122.77,113.68 123.41,113.30 123.13,118.04 123.60,114.62 124.30,118.10 123.24,119.21 123.61,117.59 124.20,115.53 123.92,115.40 123.42,110.97 125.30,118.19 123.84,114.04 124.79,117.18 125.19,113.85 124.48,110.98 125.64,116.58 125.17,117.93 126.20,117.68 126.34,113.45 124.82,110.27 125.09,115.83 126.41,113.06 125.50,114.33 125.27,115.12 127.11,113.00 126.05,112.71 127.02,116.47 127.49,114.53 126.97,115.61 126.95,114.50 126.63,109.45 126.25,109.37 127.13,105.54 126.57,100.99 126.99,93.02 127.31,89.42 128.14,94.34 127.34,90.50 127.84,87.21 128.12,94.42 129.11,92.09 128.12,87.19 128.06,90.08 129.09,89.82 129.24,87.89 129.29,89.17 129.68,88.23 129.90,90.17 129.52,94.47 129.21,87.12 129.91,94.60 129.68,92.95 130.67,94.41 130.16,91.89 129.12,87.96 130.68,88.81 130.90,93.86 129.55,94.22 130.12,87.57 130.91,87.54 131.66,94.70 131.31,88.33 131.43,92.79 130.71,90.81 132.17,94.56 131.58,93.28 131.17,88.00 131.22,89.65 132.20,89.51 131.34,93.16 131.12,94.93 132.41,95.38 131.93,92.98 133.24,93.37 131.88,89.60 132.24,94.16 132.85,88.85 132.42,89.49 132.29,90.26 133.37,94.43 132.95,93.14 134.42,94.09 132.71,95.83 132.92,90.44 134.19,91.71 133.71,92.74 134.37,95.49 134.10,95.72 133.57,92.96 134.79,92.08 134.87,89.69 134.67,88.88 134.83,92.56 134.38,88.97 135.43,90.69 134.65,91.11 134.99,90.34 135.68,88.75 135.28,91.33 136.58,87.64 135.11,87.96 136.58,89.87 136.65,94.87 136.93,89.16 135.60,87.79 136.63,88.39 136.88,92.14 137.26,94.90 136.23,93.30 137.84,94.60 136.29,93.96 137.30,93.08 136.92,91.71 138.12,93.56 137.24,93.55 136.93,93.30 136.95,92.89 137.22,87.65 139.10,92.72 138.55,91.30 139.07,92.25 139.15,95.27 137.78,90.32 138.32,94.73 139.62,93.71 138.40,89.14 139.83,91.15 140.25,94.53 139.64,90.05 139.27,94.75 139.09,92.55 139.65,94.68 140.20,91.81 140.64,90.52 140.00,91.63 140.60,93.72 141.14,93.61 140.33,94.39 141.37,93.10 141.09,88.52 140.70,92.19 140.60,88.99 141.91,93.90 141.78,95.73 142.05,94.88 141.90,89.27 142.15,94.73 142.17,90.08 141.76,90.92 142.38,93.54 142.43,88.85 141.69,88.21 143.23,94.12 143.06,90.38 142.65,90.57 141.95,92.45 143.02,93.69 142.24,96.99 142.17,94.10 142.83,94.33 144.30,98.40 143.51,95.79 143.66,98.01 144.71,100.65 143.75,97.15 144.36,99.90 144.83,100.53 144.24,99.66 143.79,102.73 144.81,101.38 144.79,102.04 144.20,102.77 145.52,104.10 145.30,105.61 145.00,106.45 145.52,108.16 144.59,108.06 145.76,107.88 146.12,110.53 146.45,109.00 146.15,110.23 145.21,111.00 146.19,113.34 146.75,113.74 146.30,114.55 146.65,114.68 146.25,115.33 146.53,117.65 147.33,118.27 147.67,118.47 146.23,119.20 147.85,121.75 148.32,122.58 147.46,122.72 148.48,124.47 148.37,124.52 147.49,127.88 147.43,125.81 147.67,129.10 147.55,131.34 148.20,132.31 148.29,133.57 149.09,131.52 149.75,133.36 148.51,136.64 149.22,136.36 148.78,138.72 149.41,138.92 149.61,140.14 149.40,139.92 150.74,140.21 149.09,141.43 150.53,141.15 149.29,143.55 150.15,142.22 149.91,145.94 151.13,147.16 150.62,140.35 151.01,145.14 150.28,148.91 150.02,149.00 150.65,149.11 151.88,141.41 151.69,150.54 151.29,148.74 151.95,143.70 151.29,149.13 151.42,145.02 152.73,144.01 151.17,141.58 152.82,143.33 152.89,147.09 153.28,148.35 151.67,147.36 152.57,142.76 152.50,142.97 153.97,144.53 153.47,150.96 153.08,145.51 153.28,141.89 153.56,142.39 153.43,148.77 154.38,147.51 153.73,149.38 154.78,142.48 153.67,144.90 154.98,146.56 154.13,149.41 154.00,142.00 154.06,142.16 155.02,148.31 154.06,139.27 155.94,140.47 155.74,141.92 154.64,140.54 154.53,147.83 155.56,143.09 156.14,141.23 155.21,146.50 155.85,140.54 156.26,142.27 155.81,145.33 156.17,147.07 156.23,136.95 155.88,142.39 156.83,146.26 156.33,142.07 156.44,137.45 157.38,143.29 156.21,143.69 157.66,144.75 157.45,143.49 158.45,145.52 157.52,142.05 158.38,141.39 158.46,143.01 158.24,138.10 158.32,136.96 158.36,133.82 159.24,143.19 159.29,139.76 157.70,135.66 158.49,140.36 159.13,137.97 159.78,142.90 159.35,136.53 159.68,140.76 159.37,139.91 158.60,143.07 159.03,142.56 160.16,133.24 159.63,137.15 159.18,131.11 159.39,133.78 159.73,140.34 160.29,135.31 161.21,140.21 160.14,138.95 160.95,131.19 161.40,134.60 161.46,132.16 160.77,134.23 161.84,131.38 161.55,136.21 160.64,141.09 161.37,136.58 162.49,131.88 161.78,131.76 161.36,134.54 161.22,132.55 162.59,135.31 163.38,142.70 163.52,132.57 162.01,129.07 163.21,135.34 162.04,136.19 163.08,133.33 163.74,132.93 162.52,138.14 163.86,133.93 163.92,138.61 164.20,141.30 164.52,132.65 164.17,135.79 164.61,135.45 164.14,137.07 164.19,138.16 165.31,137.43 163.90,134.29 164.16,139.74 163.95,129.54 164.79,132.54 164.45,138.31 165.78,131.83 165.19,126.62 166.03,128.40 164.90,130.55 165.16,127.77 165.10,136.35 165.47,126.61 166.58,126.59 166.31,137.00 165.45,130.75 165.98,136.25 167.60,133.77 167.13,129.20 166.94,132.02 167.41,131.47 166.19,133.09 166.73,137.39 167.34,130.46 168.02,133.94 167.40,126.92 167.70,134.17 168.48,128.57 168.30,138.99 167.45,132.65 168.83,131.74 168.27,129.27 168.14,131.10 168.24,133.46 169.45,137.83 168.03,128.77 169.65,124.52 168.39,130.26 169.84,124.68 170.24,126.90 169.78,128.99 169.96,128.72 169.31,125.75 169.03,125.44 171.01,131.26 170.91,123.81 169.60,127.40 170.10,124.09 170.52,124.74 169.98,129.22 170.94,134.14 170.38,132.48 171.42,131.86 170.52,132.27 171.19,133.99 172.24,124.56 172.32,125.75 170.81,123.64 171.90,125.21 172.22,125.24 172.59,121.45 171.49,121.33 172.04,120.49 171.78,118.93 172.13,116.07 171.78,116.90 172.67,114.50 172.25,114.94 173.75,113.12 174.17,112.19 173.38,111.06 173.08,110.72 174.20,109.22 174.44,111.09 173.26,109.82 174.90,110.10 173.68,109.13 174.99,108.45 174.67,109.30 173.61,108.43 173.69,105.00 174.78,105.97 175.57,103.25 175.52,105.38 175.71,107.02 175.59,105.35 175.98,103.61 175.17,104.47 175.00,104.06 176.67,102.49 176.73,100.69 176.53,102.13 175.30,100.22 176.52,100.72 176.58,104.24 176.33,102.11 177.13,101.92 176.52,103.89 176.64,102.73 176.18,100.29 177.42,101.06 177.22,101.55 177.36,102.92 177.69,102.39 177.37,103.74 178.36,100.80 178.54,99.88 177.38,99.94 178.32,101.08 177.87,99.63 178.46,103.41 178.41,101.70 178.27,100.70 179.49,98.46 178.56,101.24 179.19,99.60 179.43,97.59 179.70,102.58 178.70,99.40 179.75,99.60 180.48,100.28 179.05,97.67 180.04,101.39 180.31,100.73 180.43,100.61 180.63,99.43 180.99,100.51 180.45,100.44 180.15,95.95 180.98,97.17 180.93,98.29 180.94,99.66 181.31,94.13 180.87,97.59 180.91,97.89 181.53,98.62 182.00,98.72 181.31,97.28 183.01,97.99 182.32,93.73 183.05,93.62 183.24,97.39 182.32,96.68 181.79,95.75 182.91,92.63 182.51,96.01 182.14,91.75 182.92,93.33 183.68,96.37 183.94,96.04 184.08,94.83 184.19,91.95 184.09,93.76 183.82,93.08 184.65,94.82 184.89,90.97 183.42,92.69 185.19,93.88 184.41,91.66 184.06,90.52 184.67,91.78 185.24,92.21 185.59,89.41 184.99,90.61 185.52,88.88 185.99,91.41 185.25,91.96 185.90,90.18 184.82,89.05 186.72,90.70 186.89,89.03 186.34,86.41 186.58,88.10 186.87,87.39 186.13,86.01 186.52,86.69 187.70,86.22 187.07,86.27 187.13,83.61 187.61,86.69 187.52,87.31 188.20,83.52 188.53,86.48 188.07,81.10 187.38,80.87 188.72,83.92 187.74,82.41 187.84,81.34 187.77,79.63 189.35,83.09 189.31,78.27 189.19,81.06 188.93,77.79 189.40,80.58 188.24,80.84 189.00,76.95 190.36,77.02 190.18,79.80 190.19,77.59 189.20,78.30 190.87,76.62 189.92,73.55 190.86,74.30 189.55,74.44 190.70,73.54 189.59,74.08 190.22,75.16 191.03,70.50 191.12,73.54 190.08,70.05 191.18,73.00 191.41,68.86 191.36,68.86 190.99,71.69 192.10,69.73 192.03,68.68 192.33,67.19 191.91,67.68 192.73,70.97 192.89,66.63 192.41,67.24 191.90,66.27 192.45,69.14 193.40,65.10 192.76,64.92 192.13,65.26 193.17,69.54 192.61,68.29 192.57,67.24 192.59,69.71 194.63,70.42 193.41,67.28 193.02,67.44 194.15,69.06 194.19,71.19 194.21,68.18 193.55,68.36 195.28,69.65 195.69,68.48 195.86,72.21 194.62,71.32 194.42,71.67 195.91,70.08 195.91,69.69 196.22,67.59 195.29,67.00 196.58,68.58 195.43,65.95 195.49,68.50 195.49,66.31 196.82,68.60 197.36,65.34 196.14,67.23 197.06,63.05 196.28,65.19 196.45,61.86 197.36,65.68 197.52,64.03 198.01,61.76 198.23,62.26 197.86,62.48 198.59,63.33 198.64,62.26 197.51,60.53 197.74,59.49 197.78,62.07 197.43,58.75 199.24,60.59 197.81,58.90 199.32,60.13 198.70,58.17 198.95,57.69 199.85,58.68 200.05,56.85 199.17,57.81 198.85,58.55 200.32,56.86 200.35,57.86 200.04,56.13 199.37,56.96 200.60,57.48 200.32,55.76 199.28,58.34 201.14,55.71 200.91,55.14 200.13,56.76 200.33,56.08 201.20,57.99 201.22,60.50 201.19,57.92 200.74,61.92 200.84,61.31 201.61,59.93 201.73,62.81 201.93,60.29 202.37,60.08 201.70,62.83 201.88,63.57 202.46,63.37 201.80,65.20 203.24,66.36 203.49,63.21 203.49,63.98 203.65,64.32 203.17,68.13 203.69,67.89 202.98,68.33 204.25,69.72 204.29,69.09 203.59,68.73 203.46,71.23 204.54,72.57 203.88,69.60 204.24,74.54 204.95,69.67 204.40,71.23 205.12,76.82 203.75,76.41 204.07,73.50 204.40,79.56 205.53,74.07 205.66,79.01 206.13,77.31 204.55,78.05 204.62,80.11 205.89,81.57 205.33,78.95 205.71,81.03 205.23,79.02 206.92,80.05 206.98,79.83 206.60,79.72 205.98,82.10 207.35,78.81 207.69,81.90 207.34,82.09 206.57,81.61 207.88,83.03 207.12,78.82 207.97,80.76 206.87,78.06 208.29,85.46 207.21,81.42 207.31,78.28 207.30,86.08 207.61,86.06 207.83,85.96 209.05,85.41 208.12,84.10 208.25,84.20 208.81,88.64 208.65,85.45 209.94,84.53 209.92,88.82 210.37,89.65 209.10,81.61 210.32,82.56 210.35,83.30 209.30,83.99 210.81,85.44 209.53,85.02 209.79,90.15 210.35,88.55 210.51,90.15 209.91,86.21 210.23,92.21 211.06,87.34 210.75,93.99 210.83,88.83 212.11,90.43 211.50,91.92 211.21,90.02 212.26,91.64 212.40,95.94 212.77,90.43 211.68,91.58 211.35,93.44 213.17,94.21 213.34,91.26 212.03,94.11 211.84,95.61 213.30,94.30 213.38,94.42 213.53,94.69 213.30,98.64 212.73,96.95 213.42,94.50 214.21,96.83 212.82,95.42 213.87,97.58 214.16,101.15 213.18,97.81 213.38,101.39 214.52,102.71 214.28,104.01 214.80,101.07 215.35,98.84 215.15,102.92 214.46,99.46 214.68,100.44 216.01,102.56 215.40,103.60 215.23,103.64 215.88,101.34 215.06,104.94 214.82,107.42 215.99,108.85 216.03,108.90 216.12,103.76 216.38,104.82 216.78,103.55 216.66,110.27 217.01,107.08 217.72,107.83 216.78,112.43 216.53,112.03 217.50,113.48 217.57,106.13 217.71,109.70 217.23,107.85 217.81,115.24 218.14,111.95 217.19,108.96 217.75,111.82 218.27,112.76 217.87,109.73 218.92,116.55 217.65,115.30 217.86,115.94 218.30,112.23 218.62,119.63 218.25,113.84 219.75,115.15 219.14,114.79 218.75,112.97 220.22,113.19 219.63,119.88 219.60,117.66 219.39,118.81 220.52,116.19 221.19,116.37 219.33,117.53 221.19,117.86 220.47,115.75 221.48,118.75 221.28,115.05 221.39,115.78 221.37,121.86 220.78,115.89 222.15,119.05 220.98,119.00 222.08,121.11 221.98,122.66 222.63,121.52 221.07,118.45 222.38,121.45 222.95,121.22 221.93,116.54 222.63,120.12 223.46,119.27 222.28,114.46 222.36,114.31 223.87,115.60 223.15,114.17 224.21,114.87 223.26,115.81 223.09,112.06 224.67,111.81 223.18,112.32 223.26,110.40 224.08,113.13 224.65,112.62 224.54,110.01 225.43,111.80 224.04,110.41 225.15,108.97 224.45,111.78 225.85,111.49 224.30,108.67 224.75,111.22 225.16,111.17 225.40,108.16 225.34,105.52 225.72,105.24 226.10,105.00 226.85,106.82 226.37,107.88 226.06,107.36 226.63,107.05 227.27,106.74 227.45,105.55 227.64,101.92 226.91,103.86 226.67,102.23 226.88,103.40 226.97,100.38 228.40,100.72 227.98,100.01 228.67,102.73 228.26,102.18 228.72,101.66 228.06,102.71 228.33,103.29 227.88,100.74 228.53,101.73 228.50,100.30 229.42,100.79 227.95,99.44 229.02,101.19 228.94,99.02 228.56,99.46 228.34,102.42 229.40,99.81 230.12,102.63 229.70,101.22 229.88,102.57 229.81,102.45 230.89,99.41 230.32,99.82 230.29,101.94 229.55,100.51 229.71,100.86 230.57,101.32 230.52,99.17 230.47,100.91 230.65,103.25 230.25,99.23 231.17,99.20 231.33,99.05 231.07,103.19 231.75,102.21 231.68,99.80 231.80,99.11 231.29,99.54 231.92,101.21 231.61,100.00 233.35,100.49 232.17,103.67 232.65,99.40 232.29,103.41 232.77,103.94 232.21,100.68 233.25,100.80 233.07,100.88 233.42,102.92 232.73,100.03 233.03,103.67 234.18,101.57 233.97,104.31 234.29,103.31 234.13,103.60 234.39,100.97 233.74,102.89 234.47,102.78 234.66,101.85 234.54,101.83 234.57,104.71 234.06,102.39 235.80,101.58 235.67,102.57 235.81,104.48 236.28,104.65 235.94,101.24 236.08,100.40 236.38,104.44 236.20,104.36 235.65,103.84 235.48,101.55 236.99,100.83 237.10,100.68 237.37,101.39 235.89,104.58 237.26,102.74 236.10,102.17 237.59,102.29 236.63,102.34 236.48,102.38 237.23,100.63 237.43,101.97 238.68,100.88 237.26,100.09 237.70,102.99 238.88,103.44 238.58,101.73 238.93,101.08 238.81,103.73 239.52,100.89 239.32,99.14 238.39,103.42 238.27,101.90 240.07,100.72 238.69,99.24 238.75,99.49 240.47,99.74 239.71,101.45 240.13,102.30 239.61,103.02 240.87,100.93 241.03,99.87 240.22,100.15 239.67,100.20 240.97,99.95 240.81,102.20 240.98,98.54 241.18,101.24 240.18,99.42 240.69,100.64 242.03,102.00 241.96,98.50 241.42,100.27 242.41,100.30 242.70,98.62 241.80,102.42 242.66,102.69 242.26,101.36 242.47,101.52 241.91,101.87 242.10,100.20 243.10,98.27 242.29,101.07 243.39,102.04 243.23,101.83 243.50,99.73 243.38,99.53 243.46,102.11 244.21,102.35 243.47,100.52 243.75,99.68 244.60,98.81 243.22,99.55 243.89,99.06 244.55,99.96 243.87,99.99 244.58,100.62 244.45,100.79 245.78,100.94 245.35,100.07 245.49,100.39 245.79,100.22 245.73,102.94 244.54,101.80 245.95,101.50 246.23,99.06 246.65,102.09 245.30,100.19 245.09,99.20 247.15,100.55 246.36,99.92 246.98,98.79 246.14,99.80 247.08,101.89 247.25,100.76 247.36,98.72 247.31,100.71 247.09,99.55 247.23,98.47 247.57,100.21 247.79,100.27 248.68,100.52 248.11,98.73 248.51,101.41 247.58,98.78 248.44,101.23 248.95,99.48 247.96,100.05 248.00,100.18 249.63,101.47 248.97,101.39 249.84,98.54 249.73,102.14 248.35,101.50 249.29,99.66 248.87,101.01 249.55,102.36 250.46,101.68 249.21,99.57 249.19,101.13 249.14,98.65 250.88,102.18 250.26,100.42 250.06,101.34 250.34,100.34 251.09,100.06 250.04,101.48 251.44,99.46 251.79,101.30 251.37,102.46 251.54,100.40 251.94,101.45 252.54,100.54 252.66,103.80 251.21,101.27 252.48,101.62 251.10,102.63 253.12,100.72 251.46,102.20 253.00,102.42 251.80,104.02 251.92,103.16 252.91,102.87 252.30,100.06 253.49,101.92 252.75,104.56 253.70,101.31 253.64,102.15 254.08,103.98 253.42,102.05 254.02,103.26 253.92,103.13 253.54,103.43 254.00,103.78 253.42,101.98 254.58,103.83 254.23,102.91 254.77,100.25 254.21,102.29 254.01,103.66 255.90,103.80 256.10,100.30 255.03,104.11 256.08,101.74 256.21,99.98 255.95,99.71 255.73,99.82 256.02,102.82 255.60,101.18 255.77,99.90 255.80,100.41 255.84,99.91 255.78,101.21 256.29,102.63 256.95,102.84 257.42,102.53 257.44,100.84 257.90,99.33 258.17,102.44 256.77,100.70 256.94,102.45 257.36,103.09 256.97,103.00 258.56,100.36 258.53,99.36 258.33,100.81 257.81,99.81 258.90,103.03 257.74,99.52 258.09,99.49 258.88,100.30 259.84,100.44 259.07,99.38 259.78,101.91 259.59,101.23 259.02,99.75 258.62,103.00 260.54,101.57 259.21,103.33 259.89,103.68 260.70,99.71 261.17,101.57 261.01,99.71 259.53,100.59 261.13,99.89 261.16,103.36 260.68,102.19 260.71,100.57 260.36,99.50 262.03,100.29 260.89,103.35 260.74,103.53 260.80,102.18 262.67,101.77 262.20,102.50 262.62,102.13 262.86,101.34 262.63,102.37 262.91,100.10 261.58,103.36 262.96,100.99 263.32,102.62 262.77,100.33 263.90,102.25 262.11,99.33 262.28,102.68 263.06,99.08 264.29,98.69 262.73,98.72 263.49,100.84 264.56,101.94 264.84,98.54 263.82,98.71 263.55,99.47 264.94,98.67 264.14,99.75 264.36,102.31 263.98,98.86 263.95,99.79 264.69,101.15 264.96,101.20 266.19,98.31 265.50,101.46 265.75,98.63 266.00,100.43 266.04,98.24 266.44,102.33 265.35,100.99 266.45,100.85 267.02,99.09 265.46,99.28 267.27,100.16 266.10,101.23 267.49,99.86 266.73,102.37 266.51,100.33 267.86,101.22 267.85,99.72 267.72,100.50 267.73,101.61 268.52,99.10 267.13,98.57 268.18,98.92 268.91,100.57 267.26,99.30 267.83,98.63 268.05,102.38 268.05,101.09 269.05,100.07 268.82,98.83 268.46,103.22 269.25,101.19 268.47,100.33 268.22,102.96 269.29,100.17 268.55,99.46 270.19,103.22 270.62,101.68 270.31,103.09 270.42,101.02 269.78,100.96 269.21,100.28 270.89,103.10 270.29,103.33 270.79,102.71 270.61,100.74 271.48,100.01 270.05,102.77 271.50,102.76 272.18,99.78 271.31,104.07 270.47,101.21 272.04,103.02 270.85,100.47 272.43,101.32 272.15,100.93 271.45,102.58 271.51,102.06 272.29,103.06 272.33,103.47 272.47,101.16 273.28,101.31 271.87,100.63 272.27,102.20 272.77,99.89 272.68,101.33 272.95,103.32 273.02,103.30 274.27,99.12 272.78,100.87 274.41,101.85 274.33,100.83 273.64,103.52 275.19,101.79 275.01,100.26 274.82,99.34 275.09,101.34 275.13,101.27 275.57,99.36 275.34,101.30 275.10,102.37 275.66,102.85 274.52,100.05 276.27,102.22 275.23,100.44 276.62,102.02 275.00,101.76 275.93,101.24 276.38,99.89 276.05,101.59 275.58,101.81 276.17,103.22 277.36,100.61 277.70,101.76 277.33,102.73 277.36,103.58 277.21,99.46 277.28,101.41 278.31,103.73 278.12,102.56 277.49,99.29 277.19,101.44 276.90,103.55 278.95,103.19 277.15,100.90 277.42,101.34 278.39,103.74 278.90,100.24 278.70,101.74 279.65,100.35 279.62,103.40 279.85,103.16 279.64,100.42 278.63,101.18 279.36,102.60 279.52,100.45 279.76,101.12 280.25,102.75 279.56,100.51 280.87,100.22 279.55,103.65 280.26,100.79 280.63,99.58 279.89,102.02 280.94,100.31 279.97,103.26 281.58,102.19 281.95,102.23 280.48,99.94 281.14,103.18 281.41,101.83 280.52,101.29 280.77,98.89 280.87,102.51 281.11,100.20 282.31,101.37 282.58,102.09 281.60,101.90 283.28,100.40 283.12,100.30 282.22,100.79 281.84,102.49 283.37,101.19 282.09,102.03 282.72,101.03 282.32,101.25 283.33,100.36 283.03,99.45 283.74,101.59 283.63,99.99 284.05,101.10 284.84,101.38 283.37,102.76 284.37,100.51 283.88,98.91 284.27,99.18 283.76,99.94 285.23,101.67 284.17,99.53 285.43,100.02 285.51,99.12 284.75,102.99 285.53,99.74 284.87,102.62 285.45,99.07 284.98,100.70 284.98,102.60 285.51,102.00 285.86,99.53 285.93,100.90 286.28,102.04 285.87,100.62 287.30,101.98 286.22,103.16 286.54,102.43 286.11,102.31 286.94,102.92 288.00,102.88 288.03,100.06 286.93,103.89 288.34,102.53 288.05,99.73 287.81,100.97 287.78,100.37 287.65,103.69 287.50,101.47 287.76,101.28 288.31,101.22 288.84,102.00 287.76,102.41 289.84,101.80 289.27,103.51 288.76,102.69 288.70,99.65 289.14,103.78 289.07,101.66 289.70,99.52 290.34,99.76 289.09,102.00 289.08,100.34 289.69,100.05 290.03,101.03 291.24,99.48 291.47,101.07 290.95,100.03 290.52,103.11 290.38,102.55 290.32,102.34 291.95,102.97 290.75,100.35 291.01,102.30 291.28,101.76 291.85,103.27 291.78,102.98 292.46,101.61 292.47,102.88 292.37,100.96 291.63,102.34 292.59,99.51 292.94,100.15 292.98,99.04 291.77,99.18 292.55,99.77 293.18,99.59 293.33,103.00 294.02,99.96 293.17,103.55 293.70,103.52 292.67,99.13 294.68,99.88 294.64,100.05 294.84,102.56 293.59,102.18 293.29,102.85 294.05,100.84 294.32,102.88 293.87,99.96 294.53,100.20 293.86,101.78 295.18,103.85 295.33,100.61 294.52,104.00 294.87,99.75 296.31,102.09 294.82,101.92 296.62,102.62 295.26,102.50 296.22,102.12 295.75,102.38 296.10,101.94 295.65,102.78 297.34,102.63 296.13,101.28 296.38,100.47 296.90,102.13 296.91,100.05 296.55,100.26 297.62,100.83 296.84,101.16 296.87,99.19 297.88,101.77 297.36,100.02 297.06,102.00 298.02,101.66 298.24,100.10 298.18,99.35 297.73,100.35 299.30,100.55 298.64,102.42 299.16,102.22 298.31,100.68 298.79,99.73 299.28,98.85 299.58,100.58 300.18,98.39 299.59,101.23 300.04,99.54 300.61,99.08 299.85,98.95 300.93,99.41 300.30,99.11 301.06,98.37 300.76,102.27 300.05,98.39 300.43,98.58 299.88,101.92 300.60,98.38 300.42,100.24 301.72,100.04 301.03,100.12 301.75,101.32 302.20,100.06 302.06,101.51 301.11,100.66 302.36,101.49 302.18,100.96 302.51,100.69 302.17,99.40 303.19,102.47 301.51,101.44 301.73,100.44 303.05,102.53 303.06,101.89 303.06,99.10 302.52,102.31 302.49,102.10 303.27,99.92 303.23,98.99 303.67,101.17 304.32,102.96 304.66,100.03 304.60,101.55 303.94,99.43 304.25,100.60 303.50,103.18 303.72,100.46 304.62,102.60 304.90,101.55 305.01,100.09 305.63,102.02 305.09,100.25 304.40,101.47 304.77,102.90 305.00,102.63 306.52,102.79 305.25,99.64 305.38,102.69 305.78,100.42 306.82,102.50 305.61,102.22 305.47,101.48 306.96,102.25 305.68,100.15 307.32,102.31 305.91,103.50 307.49,103.30 306.22,100.12 306.33,103.06 307.07,101.17 306.78,101.75 308.08,101.64 306.88,100.91 307.51,101.87 307.59,103.35 308.12,99.88 307.39,100.82 307.96,101.82 307.77,103.31 308.65,99.57 309.62,102.48 309.70,102.26 309.51,101.33 309.11,100.95 308.32,102.62 309.35,102.35 309.44,102.58 309.99,99.27 309.96,99.24 309.94,103.25 310.46,101.02 310.93,100.19 311.05,99.40 311.15,99.49 310.57,101.30 311.09,100.79 310.05,103.88 310.16,101.94 310.12,103.08 310.56,101.07 310.66,102.98 311.98,103.72 312.43,100.21 312.10,103.74 311.35,103.10 311.50,100.89 312.60,104.39 311.60,100.65 312.22,102.93 311.64,101.10 312.14,101.13 312.23,101.17 313.30,102.81 312.53,102.65 312.14,100.77 312.53,104.58 312.95,102.90 313.72,100.44 312.58,102.68 314.46,102.99 313.65,101.66 314.32,104.35 313.94,103.88 313.77,103.53 313.83,100.63 313.90,100.97 313.66,104.11 314.20,103.20 315.74,101.51 315.16,102.32 314.13,103.36 314.33,101.08 315.61,103.41 315.50,103.29 315.50,101.30" fill="none" stroke="#d7b2fa" stroke-width="2.1" stroke-linejoin="round" /><line x1="231.3" y1="91" x2="231.3" y2="107.5" stroke="#d7b2fa" stroke-width="1.5"/><polyline points="412.98,99.51 412.78,99.41 413.62,99.42 413.62,99.37 413.06,99.48 413.72,99.55 413.28,99.30 413.85,99.66 414.38,99.59 414.55,99.61 414.55,99.44 414.81,99.48 414.10,99.76 414.34,99.33 414.69,99.85 414.68,99.66 414.89,99.60 415.21,99.52 415.66,99.67 415.81,99.73 415.99,99.84 415.29,99.73 416.22,99.84 415.95,99.86 415.71,99.74 416.20,99.81 415.82,99.47 416.87,99.79 416.80,99.32 416.28,99.49 417.02,99.40 416.42,99.73 416.55,99.55 416.96,99.58 417.74,99.65 417.88,99.39 417.08,99.25 417.16,99.39 417.66,99.12 417.54,99.33 418.37,98.96 418.59,99.09 418.13,99.41 418.40,99.12 418.60,99.20 418.75,99.12 418.76,99.32 419.10,98.99 418.81,98.86 419.15,99.28 418.77,99.01 419.46,98.92 419.62,98.67 419.19,99.03 419.72,99.02 419.73,99.05 420.25,99.07 419.69,98.66 420.72,99.06 420.34,98.82 420.33,99.03 420.45,98.91 420.85,98.93 420.76,98.91 420.54,99.22 421.37,99.12 420.98,98.99 421.12,99.31 421.44,98.97 421.24,99.30 421.59,99.11 421.82,99.44 421.68,99.48 422.28,99.20 422.21,99.55 422.01,99.18 422.20,99.39 422.97,99.58 422.54,99.22 423.03,99.61 422.86,99.63 422.93,99.24 423.03,99.64 423.30,99.38 423.42,99.43 423.29,99.73 424.20,99.18 424.37,99.70 424.46,99.43 423.86,99.71 424.60,99.59 424.41,99.52 424.35,99.28 424.21,99.22 424.55,99.41 424.43,99.52 425.21,99.55 425.53,99.54 425.34,99.49 425.63,98.93 425.31,98.99 425.66,99.26 426.20,99.07 425.73,99.16 426.38,98.92 426.42,99.02 425.96,98.92 426.71,99.00 426.81,98.75 426.95,99.18 426.27,99.09 427.25,98.95 426.79,98.59 427.17,98.70 427.24,98.78 426.89,98.98 427.14,98.53 427.21,98.57 428.12,99.07 427.89,98.53 427.83,98.67 428.29,98.69 428.13,98.83 428.22,98.60 428.57,98.57 428.52,98.93 428.45,98.56 429.00,98.74 428.90,99.00 429.26,99.02 429.14,98.81 429.60,98.86 429.71,98.83 429.39,98.87 429.96,98.92 429.82,98.66 430.40,98.88 430.02,99.20 430.56,99.19 430.36,98.82 430.83,98.74 431.03,99.07 430.94,99.16 430.96,99.13 431.11,98.75 430.79,98.70 430.81,99.16 430.99,98.75 431.20,99.23 431.99,98.71 432.11,98.77 432.23,99.10 432.10,99.26 431.68,99.17 432.28,99.15 432.00,99.11 432.95,99.13 432.47,98.72 433.10,99.02 432.58,98.82 433.14,98.83 433.04,99.13 433.17,98.90 433.31,98.90 433.52,98.74 433.56,99.28 433.43,99.15 434.15,99.13 434.04,99.13 434.29,99.03 433.92,99.29 434.65,98.83 434.54,99.34 434.87,99.08 434.54,98.94 434.98,98.97 434.76,99.06 435.60,99.31 435.48,99.10 435.75,99.20 435.29,99.33 435.17,99.13 435.66,99.31 435.76,99.15 436.30,99.27 436.64,99.18 436.37,99.41 436.73,99.42 436.58,99.65 436.87,99.46 436.68,99.70 437.36,99.64 436.75,96.70 437.37,93.78 437.73,91.27 437.14,88.59 437.28,85.40 437.85,82.61 438.17,80.21 438.27,77.05 437.95,77.06 437.74,77.28 438.61,76.86 438.26,76.95 438.70,77.08 438.48,76.69 438.76,76.91 438.99,76.72 438.92,77.12 438.77,76.82 439.44,76.61 439.79,76.46 439.12,76.88 439.52,76.85 440.03,76.69 440.08,76.35 440.33,76.59 440.41,76.39 440.45,76.84 440.02,76.62 440.38,76.63 440.84,76.80 440.46,76.75 441.04,76.84 441.42,76.61 440.78,76.94 440.93,77.16 441.63,76.85 441.59,77.07 441.62,77.16 441.47,77.03 442.13,76.95 442.09,77.43 442.03,77.50 442.18,77.29 441.96,77.74 442.30,77.61 442.53,77.85 442.70,77.68 443.20,77.57 443.40,77.23 442.95,76.86 442.91,76.63 443.65,76.81 443.24,76.23 443.92,76.15 444.05,76.17 443.57,75.81 443.74,75.48 444.24,75.33 444.05,74.92 443.96,75.04 444.94,74.83 444.56,74.69 444.88,74.23 445.40,74.05 444.85,73.85 445.16,73.72 445.53,73.33 445.70,72.74 445.54,72.89 445.64,72.57 445.83,72.13 445.93,72.07 446.00,72.46 446.64,72.44 445.94,72.66 446.55,72.62 446.41,72.19 446.26,72.32 447.23,72.52 447.30,72.41 446.69,72.65 447.28,72.76 447.52,72.82 447.28,72.72 447.99,72.77 447.62,72.82 447.80,72.77 447.48,72.39 447.76,72.39 448.18,72.45 448.35,72.79 448.59,72.64 448.53,72.59 448.59,72.88 449.21,72.56 448.81,72.91 449.10,72.72 448.92,72.88 449.03,72.55 449.09,73.05 449.26,72.89 449.37,72.77 449.49,72.92 449.56,72.72 450.06,72.84 449.72,72.81 450.23,73.08 450.00,73.27 450.47,73.13 451.17,72.94 450.42,73.10 450.62,73.30 450.92,73.43 450.76,73.17 451.10,73.58 451.42,73.65 451.38,73.78 451.47,73.41 451.96,73.78 451.55,73.54 452.55,73.77 451.71,73.75 451.93,73.45 452.00,73.56 452.74,73.52 452.41,74.05 452.82,74.12 453.38,74.04 452.62,74.15 453.32,73.79 452.93,74.19 453.82,73.82 453.48,73.73 453.90,73.88 453.52,74.25 454.20,74.16 454.15,74.23 454.09,74.30 454.08,74.02 454.45,74.25 454.27,73.97 454.83,74.12 454.74,74.00 454.63,73.74 454.62,73.76 455.48,73.50 454.95,73.52 455.82,73.15 455.98,73.28 455.67,73.32 456.08,73.23 455.85,72.79 456.00,72.54 455.83,72.97 455.96,72.65 456.62,72.26 456.15,72.27 456.87,72.13 456.36,72.30 457.44,72.01 457.16,71.92 457.51,71.96 457.64,71.99 457.16,71.86 457.18,71.57 457.34,71.88 458.32,71.31 458.37,71.34 458.07,71.18 458.55,71.18 458.49,71.33 458.85,71.33 458.70,70.99 458.34,71.12 458.95,71.41 458.68,71.46 459.07,71.35 458.81,71.52 459.34,71.34 459.53,71.22 459.53,71.67 459.84,71.65 459.71,71.43 459.82,71.93 459.69,71.62 459.90,71.52 460.59,71.97 460.97,71.96 461.04,71.82 460.66,71.79 461.27,72.05 460.97,72.06 461.02,71.97 461.66,72.11 461.80,71.69 461.09,71.63 461.41,71.96 461.88,71.85 462.12,71.56 461.93,71.71 462.36,71.76 462.04,72.01 462.17,71.63 462.08,71.83 462.89,71.58 463.23,71.81 463.25,71.89 462.66,71.43 463.09,71.31 463.29,71.36 463.73,71.18 463.46,71.05 463.93,71.34 463.49,70.92 463.39,71.16 464.03,70.69 463.79,70.87 463.95,70.52 464.34,70.90 464.79,70.97 464.16,70.92 464.26,70.40 464.71,70.51 465.05,70.24 464.94,70.22 465.55,70.27 465.14,70.34 465.43,70.08 465.80,70.55 466.06,70.84 465.51,70.57 466.29,70.99 466.46,70.97 466.04,71.11 465.90,71.00 466.90,71.41 466.60,71.68 467.19,71.66 466.99,71.86 467.03,71.73 466.82,71.70 467.76,72.12 467.30,72.15 467.47,72.14 467.59,72.52 467.42,72.71 467.91,72.43 468.37,72.59 468.58,72.94 467.80,72.91 468.45,72.98 468.30,73.03 469.06,73.26 468.94,72.99 468.91,73.24 469.50,74.56 468.88,75.41 469.00,76.57 469.79,77.25 469.37,78.21 470.17,78.60 469.74,78.22 469.61,78.20 470.58,78.18 469.96,78.08 469.93,78.16 470.72,78.36 470.73,78.56 470.23,78.55 471.31,78.24 470.75,78.12 470.87,78.38 470.78,78.43 471.81,78.25 471.88,78.21 472.10,78.24 471.88,78.56 471.41,78.25 471.66,78.63 472.43,78.30 471.78,78.72 472.39,78.79 472.09,78.45 473.09,78.46 472.36,78.41 472.48,78.33 473.40,78.46 472.80,78.30 473.73,78.82 473.10,78.84 473.93,78.46 473.81,78.53 473.25,78.42 474.11,78.43 474.05,78.68 474.15,78.47 474.27,78.44 474.06,78.66 474.92,78.49 474.29,78.62 475.07,78.67 474.63,78.16 474.54,78.15 475.02,78.59 474.85,78.50 475.73,77.95 475.98,78.38 475.64,78.29 475.33,78.30 475.80,78.13 476.09,77.86 476.12,77.94 476.06,77.94 476.46,77.90 476.92,78.24 476.95,78.15 477.22,77.78 476.49,77.75 477.22,77.87 477.26,77.75 477.71,77.71 477.34,77.80 477.86,77.84 477.64,78.11 477.86,77.78 477.79,77.56 478.27,78.03 478.47,77.57 478.72,77.77 478.08,77.78 478.88,77.90 478.98,77.85 478.60,78.04 478.87,77.82 478.87,77.91 479.49,78.09 478.89,78.08 479.24,77.89 479.13,78.16 479.44,77.87 479.27,78.03 480.29,78.21 480.23,78.24 480.46,78.45 480.19,78.53 479.99,78.43 480.37,78.57 481.01,78.35 480.44,78.26 480.97,78.61 480.52,78.18 480.63,78.36 480.93,78.66 481.26,78.34 481.43,78.49 481.78,78.56 481.34,78.45 482.06,78.77 481.94,78.23 482.62,78.62 481.76,78.20 482.30,78.43 482.83,78.66 482.54,78.31 483.13,78.43 482.77,78.18 483.14,78.09 483.56,80.06 483.32,82.37 483.11,84.12 483.86,86.35 483.41,88.40 483.91,90.68 483.58,92.41 484.40,94.28 484.16,94.16 484.10,94.43 484.78,94.50 484.74,94.53 484.18,94.12 484.56,94.24 485.25,94.08 485.32,94.08 484.74,94.51 485.15,94.49 485.06,94.06 485.50,93.95 485.98,94.16 485.31,94.43 485.76,94.18 485.75,94.05 486.32,94.12 485.86,94.17 486.32,94.12 486.25,94.34 486.34,94.44 486.86,94.44 487.13,94.16 487.04,94.32 487.25,94.46 486.81,94.39 487.73,94.62 487.58,94.47 488.02,94.36 487.47,94.64 488.36,94.74 488.50,94.48 487.80,94.59 488.09,94.75 488.46,94.78 488.53,94.43 488.60,94.90 489.11,94.73 488.87,94.69 489.32,94.79 488.72,94.57 489.30,94.92 489.77,94.66 489.54,95.02 489.96,95.09 489.54,94.95 490.05,94.52 489.85,94.96 490.19,94.81 490.45,94.68 490.26,94.87 490.55,94.61 490.85,94.74 490.64,94.65 490.78,94.67 490.61,94.90 491.11,94.60 491.26,94.69 490.98,94.68 491.92,94.91 491.64,95.11 491.32,94.84 491.69,94.78 491.62,95.19 492.10,95.21 492.01,94.91 492.06,95.25 492.51,95.03 492.35,94.82 493.04,95.31 493.28,95.18 493.20,94.82 492.85,95.23 493.72,95.08 493.64,95.02 493.67,94.95 493.63,95.03 494.12,95.11 493.88,95.36 493.93,95.34 493.88,95.43 494.34,95.29 493.92,95.21 494.64,95.09 494.88,95.13 495.20,95.32 495.10,95.53 494.54,95.25 495.37,95.36 494.95,95.58 495.86,95.12 495.48,95.46 495.27,95.45 495.92,95.32 495.54,95.34 496.12,95.05 495.76,95.47 495.83,94.92 496.27,95.37 496.99,95.14 496.39,95.20 496.25,95.22 497.07,94.94 496.53,94.84 496.95,95.01 496.85,95.24 497.26,95.10 497.45,95.06 497.48,97.93 497.75,100.61 497.80,103.91 498.02,106.52 498.04,104.37 498.40,102.60 498.28,100.56 498.14,98.16 498.44,96.30 498.64,94.39 499.10,92.46 499.36,90.36 499.18,88.23 498.95,86.07 499.51,84.33 500.07,81.89 499.89,80.16 499.53,78.05 499.70,78.03 500.66,77.16 500.29,76.52 500.16,76.44 500.46,76.53 500.64,75.08 501.01,74.63 501.33,75.40 501.23,73.81 501.16,73.79 501.12,73.38 501.57,72.68 502.04,72.17 502.16,71.66 501.41,71.58 501.99,72.32 502.10,71.99 501.80,71.34 502.36,71.05 501.99,71.25 502.79,69.08 502.66,70.42 502.93,69.60 502.97,68.58 502.66,68.61 503.50,67.63 503.36,67.14 503.38,66.74 503.89,67.13 503.76,67.34 503.75,65.42 503.78,64.72 504.28,65.36 503.98,64.26 504.10,64.43 504.31,65.69 504.74,66.90 504.73,66.26 505.16,66.11 504.91,67.97 504.95,68.36 505.03,67.79 505.53,68.19 505.78,69.52 505.94,68.88 505.68,70.07 505.86,70.56 505.95,70.39 506.39,71.73 505.99,72.71 506.73,73.10 507.03,73.19 506.95,72.48 506.42,74.45 507.37,74.92 507.41,75.40 507.11,77.71 507.02,77.27 507.35,79.73 507.50,79.79 507.44,82.10 508.26,81.37 507.82,83.06 507.84,85.47 508.57,84.78 508.03,86.19 508.17,88.67 508.40,89.70 508.40,89.60 508.87,91.17 508.95,91.98 509.40,92.87 509.45,95.24 508.89,96.10 509.15,96.06 510.04,96.96 510.11,99.55 509.44,99.95 509.50,100.78 509.84,102.82 510.65,102.68 510.75,103.68 510.62,105.07 510.98,105.84 510.55,107.59 510.92,109.27 510.58,109.63 510.61,111.45 511.05,113.21 511.16,112.97 511.28,114.02 511.49,116.04 511.50,116.79 512.12,118.26 512.23,119.32 511.71,120.58 512.56,121.12 512.22,122.90 512.81,124.14 512.45,125.02 512.23,126.17 512.82,127.70 512.92,128.77 513.31,129.89 513.70,130.49 513.71,131.53 513.77,132.83 513.18,134.18 514.06,135.50 514.23,136.87 513.53,137.90 513.71,137.47 514.18,138.99 514.65,139.73 514.66,141.02 514.66,141.54 515.12,140.73 514.45,141.53 514.77,143.78 514.64,144.23 515.45,144.10 515.37,144.54 515.20,147.12 515.86,147.43 516.01,148.04 515.38,148.98 516.03,148.75 515.84,151.08 515.87,151.09 516.32,152.38 516.67,152.51 516.85,152.51 517.11,154.60 516.61,154.33 517.40,154.86 517.02,155.88 517.45,156.52 517.21,156.59 517.78,157.95 517.20,157.48 517.99,159.20 517.79,159.00 517.94,160.18 517.73,159.15 518.36,159.87 518.83,160.34 518.47,161.35 518.74,161.82 518.76,162.17 518.88,162.42 518.71,163.47 518.94,163.82 518.84,164.38 519.34,164.08 519.22,164.97 519.28,164.50 519.85,165.54 519.57,164.85 520.48,165.68 520.21,166.63 520.43,166.74 520.57,168.22 520.47,166.43 520.20,167.24 520.60,167.68 521.03,166.53 521.03,166.96 521.17,167.35 520.85,166.17 521.27,166.44 521.38,166.27 521.20,165.07 521.38,165.24 521.99,166.50 522.25,165.14 521.72,165.81 522.02,165.92 522.06,166.30 522.29,164.76 522.99,165.80 522.44,165.13 523.12,164.72 523.47,163.87 523.60,165.34 523.41,164.95 523.19,165.40 523.17,163.96 523.97,163.61 524.04,163.35 524.30,163.06 524.24,162.91 523.72,162.19 524.17,160.15 524.60,159.59 524.80,159.60 524.88,158.81 524.82,156.77 525.25,156.66 524.91,155.01 524.91,154.60 524.81,154.24 525.42,152.87 525.63,151.05 526.15,150.71 525.90,150.62 526.32,149.68 526.39,147.35 526.68,147.77 526.21,146.71 526.60,144.68 526.83,143.77 527.02,143.57 526.63,142.21 527.11,142.38 527.13,140.41 527.34,139.59 527.11,138.74 527.84,138.65 527.36,137.20 527.93,135.05 527.98,135.30 528.18,133.06 527.95,132.67 528.16,131.79 528.58,130.89 528.07,130.55 529.03,128.71 528.79,127.88 528.37,127.26 529.09,126.13 528.90,124.70 528.84,123.76 529.10,122.57 529.77,122.37 529.85,120.45 529.74,119.26 530.20,117.81 530.23,118.01 530.42,115.64 530.29,114.49 529.91,114.43 530.86,113.29 530.41,112.69 530.58,112.39 530.75,111.88 531.45,109.56 530.86,108.87 530.84,109.59 531.71,108.45 531.33,107.86 531.93,107.51 531.86,106.46 531.77,105.26 532.46,105.90 531.81,103.23 532.53,102.98 532.03,102.24 532.16,102.67 532.57,102.39 533.06,101.53 533.15,99.45 532.71,99.16 533.32,97.72 533.05,98.04 533.07,97.88 533.08,96.40 534.01,95.50 533.40,95.10 534.02,93.87 534.39,93.25 534.49,92.09 534.57,92.49 533.94,91.24 534.63,90.16 534.24,89.15 535.13,89.95 535.21,89.39 535.38,88.08 535.18,87.67 534.77,86.42 535.12,85.05 535.12,85.10 535.70,85.43 536.14,84.28 536.26,82.57 535.77,83.35 536.43,81.01 536.55,81.86 536.48,80.23 536.23,78.97 536.87,78.91 537.18,77.59 537.34,76.81 537.32,76.56 537.58,77.07 537.45,75.71 537.71,74.70 537.88,73.68 537.19,73.99 537.57,74.03 537.63,71.63 537.78,70.89 538.61,71.59 538.60,70.78 538.59,70.50 538.25,68.96 538.68,68.03 539.01,67.66 538.98,67.41 539.16,67.39 538.92,66.12 539.01,66.70 539.90,66.18 540.03,65.12 540.14,65.08 540.08,63.97 539.65,63.34 540.17,62.07 540.37,61.02 540.64,60.97 540.11,59.82 540.73,58.65 540.23,58.17 541.33,55.68 541.19,55.12 541.01,54.60 541.31,53.33 541.40,53.46 541.30,52.11 541.73,50.98 542.14,50.08 542.35,47.79 541.77,47.89 541.74,46.64 542.61,45.21 542.77,45.21 542.14,43.15 542.65,42.63 542.58,42.34 543.00,41.44 543.33,39.60 543.26,38.22 542.84,37.51 543.45,37.54 543.43,37.26 543.97,37.35 543.32,35.26 543.86,36.33 543.75,34.09 543.88,34.74 544.51,33.56 544.62,32.99 544.88,33.65 544.85,32.49 544.99,31.33 545.07,31.49 545.36,30.65 545.45,29.56 544.90,30.59 545.98,28.62 545.94,27.76 545.32,28.24 545.39,27.82 545.81,27.74 546.54,27.37 546.17,25.28 546.66,24.79 546.10,25.17 547.01,25.71 546.60,26.47 546.96,27.37 547.48,27.79 547.14,28.14 547.03,29.67 547.75,28.79 547.94,29.56 547.55,31.06 547.40,30.56 547.87,32.13 547.73,31.55 548.56,31.79 548.36,32.08 548.46,33.55 548.46,33.78 549.01,33.64 548.88,35.53 549.36,34.72 548.74,35.09 549.53,36.42 548.94,35.86 549.11,36.22 550.07,34.49 549.96,34.94 550.18,33.06 549.47,33.25 550.52,33.58 550.17,31.65 550.17,32.91 550.74,31.27 551.09,31.10 551.08,31.48 550.54,30.74 551.05,30.25 551.16,29.40 550.92,28.60 551.22,29.37 551.95,27.32 551.78,27.69 551.38,26.90 552.19,26.44 552.39,25.88 552.51,25.50 552.18,24.80 552.01,24.25 552.35,24.59 552.33,24.17 552.56,23.27 552.45,23.99 553.35,22.57 552.88,22.42 552.86,22.81 552.89,20.63 553.86,20.77 553.41,21.11 553.33,22.81 554.04,21.90 554.04,22.70 554.24,23.47 554.21,25.53 554.51,25.03 554.07,26.53 554.52,26.25 554.54,27.43 554.65,28.38 554.87,29.51 554.73,28.79 554.99,29.24 555.32,31.40 555.99,31.16 555.92,32.85 555.61,32.04 555.67,33.22 555.75,33.55 556.41,33.98 556.24,35.36 556.53,35.75 556.07,36.83 556.64,37.81 557.26,37.47 556.78,37.90 557.00,36.03 557.06,36.46 557.39,35.38 557.71,35.31 557.37,35.47 557.65,35.68 557.61,33.82 557.89,33.39 558.53,34.73 557.88,33.85 558.05,32.66 558.62,32.57 558.60,31.51 558.90,31.97 558.76,32.42 558.77,31.63 559.26,30.98 559.27,29.83 559.07,30.39 559.84,29.54 559.33,29.40 559.79,28.93 559.75,28.81 559.74,28.87 560.25,29.45 560.37,28.83 560.88,29.48 560.16,30.95 560.50,30.67 561.15,29.70 561.19,31.50 561.50,31.15 561.33,31.19 561.63,31.57 561.20,32.17 561.57,31.05 561.50,32.00 562.12,32.72 561.94,32.54 561.72,32.73 561.78,33.13 562.40,33.48 562.09,32.39 562.49,33.19 562.25,33.54 562.70,34.06 563.14,33.34 562.97,33.82 563.12,33.34 563.03,32.96 563.02,34.70 563.88,33.62 563.69,34.59 564.00,35.41 564.18,35.27 564.39,35.03 564.30,36.05 564.55,36.43 564.53,36.97 564.89,37.26 564.39,38.57 565.26,38.93 564.63,38.30 565.53,40.09 565.48,38.90 565.09,40.90 565.25,41.02 565.59,41.44 565.34,41.22 566.04,42.00 565.52,41.69 565.86,41.71 566.47,43.94 566.61,44.16 566.37,43.06 566.97,45.11 567.06,45.62 567.13,45.48 566.93,46.31 566.94,44.85 567.03,45.11 567.16,46.57 567.11,46.19 567.66,46.71 568.22,47.48 567.66,46.74 568.46,47.05 568.32,48.46 567.79,49.12 568.25,49.59 568.45,49.34 568.48,49.87 568.56,49.23 568.89,50.41 568.92,49.56 569.07,50.68 569.67,51.02 569.76,51.40 569.95,51.02 569.74,52.58 569.43,51.03 570.34,52.79 570.11,53.01 569.84,52.18 570.85,51.82 570.59,50.57 570.76,51.40 570.47,49.93 571.29,50.23 570.89,50.06 571.43,49.33 571.50,48.13 571.07,47.70 571.72,46.47 571.17,47.52 571.57,45.69 572.11,45.53 572.09,45.05 571.98,45.33 572.20,45.49 572.55,44.36 572.20,43.71 572.89,44.37 572.76,43.12 572.69,42.82 573.06,41.30 572.75,42.52 573.15,42.25 573.67,41.85 573.24,41.01 574.14,42.86 573.87,43.31 574.20,43.40 574.38,44.57 574.50,44.12 574.38,46.06 574.12,44.78 574.49,46.67 574.83,47.81 574.47,47.97 575.16,48.22 575.48,49.60 575.21,48.88 574.93,50.90 575.15,49.67 575.42,51.58 576.05,52.11 575.39,52.89 576.28,53.22 576.48,53.82 576.36,54.62 576.42,55.28 576.29,54.32 576.46,56.87 577.12,56.84 577.17,58.17 577.01,58.63 576.82,58.74 577.29,59.79 576.95,61.42 577.10,62.53 577.15,62.92 577.39,63.99 577.74,65.82 577.94,66.49 578.46,66.38 578.27,67.18 578.87,68.81 578.05,69.84 579.08,70.25 578.62,71.96 578.64,71.42 578.68,73.59 578.89,74.78 579.44,75.30 579.39,75.33 579.27,77.03 579.75,77.77 579.53,79.56 579.88,78.94 579.99,80.73 579.83,82.51 580.22,82.85 580.33,83.38 580.38,85.05 581.12,86.85 580.48,88.40 581.33,88.37 580.60,88.95 581.60,90.08 581.20,92.13 581.77,92.49 581.70,95.45 581.71,96.45 581.45,96.42 581.54,97.57 581.57,98.87 582.54,99.38 582.59,102.16 582.35,102.34 582.82,102.84 582.67,102.48 583.13,103.08 582.42,102.81 583.42,103.02 583.29,102.70 583.07,102.72 583.03,103.75 583.64,103.53 583.94,103.51 583.59,104.44 584.19,104.37 584.16,104.15 584.43,104.18 584.09,104.48 584.66,104.48 584.97,104.23 584.76,104.05 584.94,104.56 585.13,103.98 585.12,103.94 585.41,104.57 585.83,105.30 585.88,104.35 585.60,104.80 586.08,104.09 585.63,104.37 585.71,104.48 585.89,104.43 586.09,104.80 586.78,105.14 586.35,105.41 586.83,104.99 586.62,105.04 587.11,104.18 586.83,104.90 586.67,104.91 587.62,105.08 586.96,105.37 587.76,104.91 587.71,104.02 587.44,104.09 587.63,103.82 588.06,105.13 588.57,105.04 588.57,103.99 588.50,105.18 588.15,104.27 588.47,104.43 588.90,104.14 588.61,104.73 588.98,103.98 589.27,104.83 589.62,104.71 589.29,104.88 589.64,104.85 589.27,104.19 589.94,104.24 589.66,104.82 589.55,104.47 590.05,104.54 590.59,104.79 590.82,103.63 590.94,103.80 590.32,105.08 590.37,103.95 591.11,104.92 591.28,104.99 591.38,103.99 591.06,103.96 591.55,104.05 591.54,103.86 591.90,104.24 591.65,104.06 591.81,104.18 591.58,104.44 591.64,103.54 592.58,103.90 592.49,104.18 592.80,104.71 592.32,103.67 592.46,104.06 592.43,104.15 593.20,103.82 592.75,103.60 592.92,104.39 593.47,104.65 593.51,104.64 593.36,104.01 594.18,103.34 593.43,103.62 594.01,104.78 594.52,104.24 593.99,104.51 594.51,103.83 594.20,104.50 594.61,103.84 595.03,103.57 594.50,104.57 595.07,104.49 595.03,103.74 595.18,104.91 595.09,104.85 595.65,105.33 595.11,104.66 595.23,104.38 595.53,104.56 595.78,104.28 595.89,104.16 595.86,104.77 596.80,104.90 596.93,105.19 596.76,104.24 597.16,104.48 597.08,104.91 596.61,105.38 597.41,104.31 597.16,105.47 596.88,104.21 597.67,105.46 597.78,104.78 597.24,105.47 598.33,105.37 598.36,105.56 598.21,104.86 598.52,104.32 598.26,105.17 598.16,104.18 599.02,104.71 599.09,104.80 598.61,104.31 598.77,104.36 598.97,105.22 599.41,104.43 599.73,104.60 599.81,104.96 599.50,104.49 600.22,104.50 599.92,105.25 599.55,104.49 600.21,105.04 599.90,104.30 600.56,104.36 600.24,104.01 600.60,104.37 600.29,103.53 601.06,104.10 600.50,104.09 600.80,103.85 600.96,104.67 601.14,105.01 601.00,103.72 601.62,104.21 601.90,104.67 601.41,104.29 601.73,104.91 601.78,103.81 602.38,104.38 602.11,103.96 602.57,103.48 602.22,104.62 602.98,103.89 602.49,104.66 603.20,105.12 602.93,104.71 603.17,105.13 603.84,104.63 603.16,104.97 603.31,103.87 604.12,103.87 603.83,104.57 603.98,104.32 604.33,104.45 604.60,104.44 604.72,105.15 604.15,105.01 604.95,104.50 604.80,104.42 605.18,104.20 604.84,104.41 604.70,105.19 605.16,103.90 604.97,104.61 605.75,104.53 606.03,105.32 605.31,105.18 605.80,104.50 606.26,103.95 606.39,104.35 606.00,104.98 606.31,104.44 605.99,104.20 606.33,104.56 607.02,104.28 606.77,105.05 607.25,103.90 606.71,104.27 607.64,105.04 607.40,104.24 607.50,105.24 607.26,104.37 608.12,103.85 607.54,105.10 607.67,104.82 607.98,104.98 608.27,104.89 608.43,103.91 608.03,104.82 608.38,103.83 609.21,104.92 609.22,104.48 608.76,104.90 609.45,104.48 609.24,104.54 609.01,104.92 609.50,104.51 609.80,104.68 609.71,104.21 609.46,104.51 610.44,105.04 610.02,104.67 610.19,104.37 610.13,104.37 610.35,105.30 610.77,104.12 610.59,103.78 611.18,104.66 610.53,104.24 610.62,105.30 611.24,104.41 611.21,105.31 611.27,104.10 611.25,104.30 611.75,105.12 611.63,104.84 612.40,104.71 612.56,103.99 612.45,104.06 612.32,105.08 612.38,105.04 613.03,104.22 612.29,104.46 612.89,103.71 612.54,103.98 612.93,104.71 613.10,104.83 613.28,103.64 613.89,104.64 613.36,104.20 613.50,104.11 613.37,103.82 614.42,103.25 613.85,104.43 613.77,104.17 614.47,104.49 614.41,104.31 614.92,103.84 614.31,103.65 615.28,103.32 614.55,103.58 614.74,104.04 615.51,103.83 615.28,103.53 615.85,104.66 615.15,104.58 615.79,104.77 616.35,103.48 616.47,103.46 615.69,103.35 616.34,104.09 616.68,104.31 616.71,103.58 617.06,103.97 616.92,104.50 617.27,103.76 616.69,104.06 617.39,104.32 617.21,104.21 617.11,104.71 617.39,103.98 617.79,104.99 617.89,104.23 618.06,105.28 617.53,104.28 618.32,105.61 618.48,104.52 618.49,105.05 618.65,104.73 618.49,104.81 618.97,104.75 618.65,105.63 618.74,104.40 618.97,105.51 619.58,104.34 618.93,105.03 619.49,105.54 619.95,105.71 620.12,105.67 620.17,104.96 620.14,105.14 620.24,104.68 620.60,104.44 620.43,104.59 620.81,105.63 620.54,105.63 621.22,104.35 621.23,104.70 620.93,104.84 621.16,105.02 621.32,105.36 621.39,104.35 621.84,104.20 621.48,104.29 621.58,104.92 622.15,105.37 621.92,104.43 622.12,105.04 622.07,104.85 622.45,104.70 622.34,105.20 622.33,105.01 622.47,104.16 622.46,105.16 622.95,104.10 623.27,104.76 623.13,103.79 623.00,104.73 623.81,103.75 623.19,103.54 624.07,103.83 623.79,104.08 624.38,104.37 623.81,103.57 624.38,104.14 624.30,103.70 624.05,104.40 624.17,104.02 624.25,104.95 624.98,103.75 625.06,103.86 625.60,104.04 625.09,104.41 625.34,103.79 625.70,104.75 625.63,104.64 625.64,105.01 626.32,104.40 625.96,104.79 626.38,104.80 626.14,104.00 626.24,104.75 626.52,104.10 626.37,103.66 626.49,105.12 626.37,104.83 627.00,104.03 627.56,104.04 627.04,105.07 627.78,103.75 627.51,104.80 627.12,103.62 627.92,104.62 627.70,104.26 627.86,103.95 628.23,104.18 628.08,104.17 628.52,103.86 628.17,105.00 628.76,104.73 628.37,103.87 628.51,104.83 628.58,103.69 628.99,104.80 629.02,103.50 629.34,104.34 629.84,103.75 629.39,104.64 629.49,104.04 629.97,103.58 630.15,104.00 629.93,104.91 630.10,104.05 629.91,104.37 630.30,104.25 630.95,103.82 630.73,104.78 631.09,103.81 631.37,104.32 630.85,104.77 631.33,104.96 631.66,104.35 631.13,104.33 631.73,103.90 631.40,104.29 632.14,103.95 632.35,104.34 632.43,105.34 632.68,104.29 632.71,104.94 632.31,105.41 633.01,104.57 632.34,104.45 632.92,104.05 633.44,104.48 633.01,104.01 633.35,105.13 633.51,105.32 633.96,105.38 633.72,105.35 633.77,104.60 633.62,104.29 633.93,104.75 633.70,104.52 634.07,105.45 634.21,104.62 634.77,104.71 634.72,105.30 634.61,105.26 634.70,104.49 634.62,105.24 635.38,104.02 634.81,104.01 635.33,104.19 635.22,104.29 635.40,104.08 635.75,103.77 635.56,103.83 636.38,104.92 636.14,104.01 635.76,103.53 636.81,104.18 636.45,103.46 636.13,104.59 636.50,104.24 637.19,104.50 637.27,104.69 637.27,103.42 637.04,104.17 637.34,103.60 637.40,103.96 637.35,104.82 637.39,104.68 637.81,104.43 637.97,103.98 637.84,103.58 637.93,104.05 638.56,104.78 638.69,104.46 638.13,103.75 639.12,103.66 639.34,104.35 638.88,104.13 639.46,104.69 639.22,104.38 639.10,104.30 639.90,105.23 639.26,104.52 639.71,105.25 639.78,105.10 640.24,104.07 640.55,104.15 640.08,104.29 640.09,104.06 640.08,105.12 640.18,104.29 640.76,104.16 641.12,104.52 641.00,105.27 641.59,105.69 641.52,104.71 641.05,105.34 641.03,105.49 642.02,105.32 641.94,105.28 641.78,105.29 641.87,104.41 642.43,104.72 642.71,105.62 642.76,104.73 642.01,105.63 642.21,105.04 642.69,104.27 642.55,105.24 642.98,104.61 642.74,104.94 642.76,104.31 643.86,104.52 643.75,104.28 643.98,104.99 643.30,105.20 644.20,104.42 644.35,104.89 644.46,103.88 644.53,104.43 644.22,104.71 644.02,104.59 644.99,105.22 644.89,104.73 644.81,104.85 645.14,104.04 645.49,105.21 644.91,104.89 645.15,104.09 645.89,104.48 645.70,104.56 645.42,104.23 646.35,103.96 646.15,104.98 645.84,104.62 645.77,103.55 646.07,103.53 646.57,105.06 646.21,103.84 646.26,103.51 646.70,103.69 646.72,103.72 646.75,104.47 647.52,103.68 647.50,103.90 647.69,103.90 647.39,103.46 647.54,104.82 647.58,104.45 647.92,103.59 647.65,104.15 648.17,104.25 648.63,103.97 648.40,104.81 648.89,103.86 648.76,104.58 648.71,104.34 649.07,104.51 648.92,104.71 649.61,103.43 649.67,104.25 649.77,104.50 649.98,103.88 649.65,104.28 649.47,103.55 649.81,103.65 650.24,103.81 650.31,104.81 649.88,104.34 650.53,104.39 650.47,104.52 650.76,104.32 650.80,104.54 651.36,104.62 651.12,104.16 651.26,104.46 651.80,104.90 651.68,104.17 652.02,103.56 651.27,104.41 652.22,103.46 652.11,104.73 651.86,104.16 652.65,104.32 651.91,104.59 652.08,103.95 652.97,105.04 652.68,105.18 652.43,104.25 652.84,104.19 652.96,104.45 653.60,105.03 653.69,104.52 653.26,104.42 653.21,105.27 654.24,104.15 653.78,104.82 654.39,105.34 654.43,104.73 654.63,104.38 654.26,104.86 654.06,104.25 654.24,104.87 655.24,105.32 655.12,104.75 655.11,105.23 655.11,105.55 654.91,105.63 655.40,105.40 655.23,104.62 655.76,105.81 655.75,105.08 656.00,105.63 656.43,104.61 656.40,105.59 656.42,105.34 656.85,104.69 656.16,105.29 656.55,105.41 657.13,104.17 656.79,104.40 657.02,104.15 657.44,104.82 657.63,105.44 657.27,104.94 657.23,105.33 657.69,104.29 657.81,104.33 657.62,103.88 657.93,103.69 658.44,104.00 657.94,103.99 658.07,104.69 658.53,104.85 658.82,103.71 658.55,105.04 658.92,104.31 659.48,104.92 659.00,103.48 659.17,104.66 659.44,104.17 659.04,103.36 659.52,104.77 659.81,104.05 660.26,104.54 660.13,103.47 660.17,103.35 660.23,104.66 660.73,103.96 660.91,104.50 660.43,104.27 660.74,104.53 660.50,103.45 661.14,105.00 661.38,103.55 660.80,104.73 661.05,105.13 661.71,104.38 661.47,104.38 661.88,104.39 662.25,105.18 662.30,105.26 661.98,104.47 662.67,105.19 662.66,104.23 662.05,104.33 663.02,104.55 663.06,104.67 663.17,105.17 663.41,104.32 663.13,103.99 663.13,104.00 663.69,105.29 663.56,105.47 663.29,104.71 664.16,104.66 664.23,104.43 664.30,104.37 664.59,104.18 663.83,104.06 664.65,104.78 664.40,104.99 664.33,104.99 664.54,104.36 664.42,104.19 665.04,104.16 664.96,104.78 665.08,104.77 664.89,105.07 665.90,105.00 665.76,104.68 665.39,105.32 665.88,103.89 666.04,104.88 666.06,104.49 666.63,104.44 666.53,103.81 666.84,103.84 666.92,104.11 666.88,104.20 667.33,104.50 667.01,104.43 666.88,104.48 667.09,105.18 667.08,103.92 667.50,104.50" fill="none" stroke="#d95319" stroke-width="2.3" stroke-linejoin="round" /><line x1="434.4" y1="99" x2="434.4" y2="106" stroke="#d95319" stroke-width="1.2"/><polyline points="412.21,99.09 413.98,99.20 413.86,101.02 412.76,100.92 413.75,99.43 414.33,100.67 412.92,101.10 414.22,100.26 413.36,99.94 413.30,99.83 414.98,101.20 413.98,100.02 414.65,101.09 415.32,101.00 414.58,99.86 414.74,100.12 414.61,98.80 414.21,100.75 415.51,98.44 415.45,99.14 415.19,99.71 415.02,101.28 415.16,99.52 415.43,100.18 416.50,99.35 416.25,99.25 415.46,101.01 415.84,98.48 416.73,100.60 416.29,99.02 416.67,98.85 417.27,98.46 417.91,101.03 418.05,100.56 416.83,98.42 417.93,101.28 418.39,99.62 418.27,100.27 417.14,99.30 417.15,99.77 418.93,99.60 417.15,99.47 417.59,98.63 418.11,100.86 417.70,99.40 418.48,101.49 417.87,99.19 418.22,98.75 418.31,100.63 419.11,98.74 420.25,99.39 419.44,99.02 419.33,101.00 419.59,101.66 419.58,99.44 419.72,98.84 420.79,99.49 420.13,101.25 419.77,98.87 419.80,99.52 421.25,99.50 419.74,99.24 420.89,101.62 420.69,101.82 421.32,101.56 421.62,101.25 420.44,100.37 422.13,99.53 422.36,101.61 421.95,99.93 422.04,101.33 421.94,101.39 422.38,100.92 422.98,99.77 421.41,101.84 423.31,101.90 421.60,101.00 421.89,101.70 423.09,101.92 422.22,99.21 423.15,100.95 423.99,101.29 422.27,99.72 422.41,101.84 422.74,101.71 424.20,101.53 423.86,101.74 423.29,101.76 423.67,101.15 424.68,101.82 424.31,100.57 423.46,99.25 424.49,100.97 424.85,101.79 424.49,99.62 424.93,101.52 425.69,99.27 424.31,101.73 425.03,100.89 425.01,101.63 425.49,99.99 424.83,102.19 426.01,99.65 425.91,101.97 426.73,100.63 425.27,101.67 425.66,101.99 427.06,100.26 427.11,100.63 427.39,99.87 426.06,99.91 426.57,100.87 427.82,101.01 426.15,101.52 427.35,100.33 427.82,100.85 426.67,100.84 428.34,100.12 428.30,100.45 428.14,102.34 428.23,101.40 428.97,100.30 429.09,100.75 429.13,100.26 428.74,101.69 427.92,100.64 428.49,101.61 428.16,101.27 428.30,99.51 428.50,101.67 429.01,101.93 429.09,100.93 428.70,101.04 430.51,100.36 430.08,99.67 429.49,100.08 429.06,99.14 430.80,101.89 430.88,101.42 429.71,101.85 430.51,100.71 431.52,100.65 431.71,101.18 431.20,99.22 431.51,100.86 431.81,100.66 432.12,99.68 431.59,99.96 431.93,101.41 431.11,99.62 432.02,99.64 432.69,101.62 431.82,99.81 431.71,101.04 431.30,99.80 432.48,99.09 432.75,100.60 433.55,99.59 432.08,100.35 433.84,98.67 433.86,101.42 432.77,100.25 432.79,98.71 434.25,99.09 434.08,101.10 433.12,98.86 434.67,99.31 434.48,98.90 434.12,100.45 433.67,101.29 433.59,99.99 433.46,98.71 433.77,99.38 435.63,98.62 435.55,99.31 435.36,100.56 435.93,100.43 435.59,101.12 435.66,100.18 435.50,100.68 434.83,100.03 435.62,101.08 435.11,98.76 435.41,101.20 436.39,99.77 435.81,101.20 436.12,99.79 437.15,98.73 437.44,98.72 435.96,99.13 437.42,101.24 437.01,99.40 437.49,95.08 437.85,89.20 437.76,86.36 438.37,81.05 438.32,79.53 437.93,80.60 438.12,78.60 437.62,80.57 438.93,79.77 437.34,79.53 437.90,79.49 438.84,79.95 439.44,78.39 438.45,79.09 439.68,79.51 439.79,79.69 439.55,79.08 439.33,78.95 439.11,80.05 439.96,77.43 439.75,78.65 439.29,78.95 439.06,77.71 440.86,79.55 439.40,79.28 440.95,80.23 439.42,78.66 440.79,79.81 439.71,79.05 439.87,79.45 440.21,78.41 441.83,77.83 441.81,79.22 441.08,77.32 440.49,78.44 442.50,77.52 442.40,78.87 442.18,76.77 442.33,78.85 441.40,77.15 442.95,75.06 441.85,79.29 442.24,78.37 443.23,77.65 442.92,76.00 442.82,75.54 442.45,74.23 443.88,75.47 443.69,74.51 444.27,74.13 442.61,74.46 444.42,74.61 444.46,77.20 443.03,76.12 443.84,75.08 443.38,79.02 444.86,74.30 445.24,73.38 444.56,74.47 445.36,76.79 445.37,72.83 445.24,73.44 445.46,72.30 444.46,73.28 444.82,72.16 446.27,74.18 445.15,76.15 444.89,78.95 446.59,73.14 446.17,78.66 445.04,78.92 446.46,78.41 446.86,76.70 445.70,72.55 446.39,72.88 446.64,75.98 447.17,74.69 447.32,78.26 446.24,72.46 446.53,73.86 446.57,76.49 447.00,76.92 447.85,75.09 446.94,79.30 448.65,75.10 446.87,74.19 448.59,74.09 448.94,77.94 447.27,76.34 448.75,75.04 447.72,75.68 448.50,75.60 448.59,75.49 447.88,74.02 449.41,78.45 448.30,75.99 449.31,75.17 449.29,79.20 449.50,79.72 449.80,74.45 449.90,77.23 448.87,77.99 450.55,76.09 449.16,74.17 449.77,74.44 449.96,75.96 449.80,77.12 450.93,75.34 451.62,76.46 450.35,78.65 451.03,75.17 450.82,76.28 450.60,77.95 450.57,75.77 451.65,77.87 450.87,78.31 451.91,76.81 452.48,73.46 451.13,77.44 452.66,77.66 452.30,75.99 451.46,74.36 453.20,75.28 452.54,74.06 453.10,74.35 453.62,77.16 452.80,74.32 453.16,73.16 453.91,76.47 453.22,73.43 453.32,73.46 453.17,76.47 454.64,76.17 453.25,76.02 454.82,76.35 453.12,76.62 453.81,72.71 454.20,74.66 454.76,72.90 454.86,75.17 454.82,74.48 453.98,75.19 454.25,74.07 455.62,72.59 454.90,73.50 455.52,73.24 455.76,72.47 456.51,72.20 456.26,72.54 455.70,74.31 455.69,73.14 456.15,75.28 455.72,74.19 455.69,74.60 456.78,73.87 456.76,74.16 456.11,74.27 457.22,76.24 457.89,75.03 456.77,73.57 456.86,72.75 456.98,72.69 457.44,72.15 457.34,72.56 457.36,74.58 458.45,75.68 458.64,72.62 457.29,71.69 457.29,76.39 459.08,70.56 458.79,70.46 458.05,73.70 459.66,71.89 458.34,72.83 459.44,73.17 458.28,72.30 458.42,75.39 458.36,70.93 459.35,76.72 459.72,75.19 459.42,76.69 460.22,72.85 459.71,70.71 460.26,75.45 461.11,73.80 460.82,73.46 459.66,73.22 460.03,73.20 460.31,70.93 460.78,71.56 461.51,75.46 460.75,76.40 462.02,75.05 462.20,73.30 462.34,71.42 462.58,76.45 462.17,76.14 462.31,73.58 462.15,76.48 462.97,74.81 461.92,72.61 463.13,70.98 462.85,74.91 461.99,72.24 463.50,73.77 462.72,72.87 463.69,73.23 463.86,71.14 463.65,70.28 463.31,75.47 463.06,75.28 463.34,70.96 464.18,71.79 464.20,73.90 464.55,76.87 465.06,75.51 464.73,76.51 464.39,72.17 465.07,75.21 465.11,76.30 464.26,74.54 464.25,74.17 464.35,74.36 466.04,69.44 464.86,76.13 466.01,69.60 464.81,75.38 466.30,75.84 465.30,74.02 465.01,70.08 466.45,73.20 465.58,74.84 465.38,76.17 465.73,74.88 465.90,70.43 466.07,76.47 466.73,70.80 467.03,73.41 467.43,75.20 466.82,77.76 466.50,75.86 466.58,73.25 467.19,77.69 468.40,76.73 467.18,74.59 467.87,73.79 467.16,74.87 468.43,78.10 468.96,78.34 469.05,77.47 468.38,77.60 469.49,78.57 468.06,74.65 468.81,75.42 469.08,79.53 468.88,79.70 468.77,78.52 468.94,79.15 469.32,76.43 470.41,79.26 470.63,78.14 469.22,80.93 470.90,81.00 470.53,82.17 470.36,79.45 470.63,81.02 471.29,78.76 469.79,80.85 469.94,79.76 470.09,80.80 470.58,81.17 471.69,82.82 471.90,79.22 470.94,81.41 470.54,83.23 471.85,80.34 471.76,78.99 471.59,83.01 471.41,82.00 473.08,83.47 472.81,78.90 471.47,79.82 472.99,79.11 472.71,80.51 472.12,78.60 472.93,79.90 472.93,82.43 473.98,79.65 473.79,81.66 473.37,82.28 472.75,79.21 474.15,81.42 474.62,82.78 473.88,80.54 473.20,83.11 474.25,79.80 474.50,81.06 474.42,78.58 474.30,78.67 474.30,78.69 474.58,81.20 474.85,78.64 474.64,81.46 475.03,79.24 474.36,81.62 474.52,81.51 474.92,82.74 474.73,82.39 475.30,80.56 476.45,82.16 475.14,78.54 476.00,81.95 475.98,79.97 476.56,79.96 475.79,80.11 477.64,80.60 477.22,82.28 476.80,83.20 477.62,80.06 477.70,78.64 477.54,78.92 477.96,80.99 477.88,78.49 476.74,82.79 477.35,82.01 478.87,82.37 477.85,78.23 479.13,81.03 477.35,83.43 478.23,79.03 479.12,82.78 479.51,81.40 479.55,82.88 478.44,81.85 479.47,82.41 478.51,83.49 478.97,78.42 479.19,79.72 479.76,78.62 479.20,80.66 479.94,78.83 480.64,78.80 480.84,79.77 479.95,78.90 480.34,82.54 481.18,80.66 481.25,79.05 480.24,80.98 480.35,80.03 480.80,81.58 481.34,80.90 481.57,82.78 481.63,79.58 482.24,81.77 481.61,80.01 481.34,82.05 482.04,79.60 482.62,79.82 481.49,79.63 482.37,81.06 483.18,83.15 482.32,79.92 482.56,81.17 482.48,80.77 483.58,82.26 483.44,83.41 482.59,85.42 482.62,87.16 483.34,85.20 483.00,87.22 482.92,90.50 483.50,91.50 483.06,94.62 483.97,93.84 483.86,93.08 484.02,94.03 484.55,95.07 484.45,95.07 484.67,96.04 485.15,94.19 485.67,95.84 485.19,94.74 485.49,95.61 485.65,98.31 486.34,97.03 486.59,95.24 485.99,96.36 484.91,94.76 486.07,94.92 486.69,95.36 486.56,94.93 486.74,98.82 487.13,98.96 485.69,98.64 486.33,96.86 487.32,96.50 486.39,98.05 486.25,95.15 487.88,98.13 486.64,94.79 488.47,95.05 487.76,94.73 487.08,98.94 487.54,97.95 487.93,97.76 488.91,95.22 489.21,97.06 489.29,97.58 487.61,97.90 489.60,94.54 489.33,97.99 488.59,98.90 489.29,98.22 489.20,94.88 489.36,99.41 488.51,98.68 489.51,96.75 490.32,97.49 489.88,97.15 490.22,97.30 489.79,97.62 490.85,96.09 490.68,96.45 491.35,96.01 490.34,95.72 491.38,96.51 490.28,98.39 491.37,95.84 490.37,96.89 491.57,95.16 491.87,97.99 491.34,94.94 491.65,95.28 491.09,95.71 491.09,97.43 491.22,98.63 492.52,95.88 491.73,95.85 492.39,98.55 493.13,98.68 491.69,99.46 492.55,96.49 493.50,95.93 493.75,96.49 492.91,94.80 493.72,97.70 494.07,96.95 493.11,95.98 492.90,95.44 494.11,96.97 493.75,95.45 494.86,96.71 494.64,97.03 494.94,95.70 493.58,94.62 494.46,97.81 494.77,97.27 494.97,96.36 494.95,96.63 494.52,98.30 495.68,98.57 494.28,99.78 494.61,96.88 495.35,95.57 494.78,98.77 496.34,98.89 496.29,99.81 496.34,95.90 495.58,97.83 495.82,98.99 497.05,99.28 495.68,97.01 495.85,99.22 497.41,95.64 496.31,96.28 497.36,97.11 496.67,96.12 496.68,95.49 497.57,99.05 498.21,98.31 497.10,95.38 497.39,98.55 497.24,100.35 498.38,100.29 498.93,98.84 497.84,97.59 498.77,97.62 498.68,99.64 498.88,99.50 497.93,99.44 498.86,99.72 498.18,97.11 498.49,98.56 499.27,97.29 498.76,96.50 499.13,94.74 499.06,97.48 498.97,93.56 500.32,94.15 500.61,91.00 499.33,89.07 500.81,88.39 500.83,87.26 500.10,86.75 501.25,86.15 501.61,87.26 501.00,88.53 501.13,87.39 502.07,87.75 500.61,86.14 501.76,89.14 501.45,87.52 501.08,85.01 501.30,87.86 501.86,86.97 501.13,85.29 502.56,84.80 502.29,85.29 502.91,86.29 502.37,84.81 502.97,86.56 503.05,85.55 503.65,86.34 502.22,85.44 503.48,84.20 503.16,85.58 502.84,85.48 503.29,84.54 504.59,85.32 502.98,83.95 504.64,84.05 503.15,85.54 504.12,83.69 504.43,85.00 505.37,83.66 505.35,84.32 505.64,84.39 505.37,83.93 505.29,83.34 505.96,84.34 505.54,84.12 505.15,82.93 506.35,82.55 506.17,83.15 504.90,83.03 505.53,82.87 506.33,84.63 506.11,83.48 506.27,85.26 506.07,85.19 507.01,84.87 506.96,84.70 507.73,86.78 507.09,86.38 507.58,88.00 507.17,88.09 507.91,86.58 507.81,86.89 508.13,87.81 507.66,89.13 507.37,89.11 508.01,90.87 507.27,91.34 507.51,89.47 509.25,90.81 508.45,90.87 508.15,93.33 508.09,92.42 508.96,92.36 508.35,94.24 509.05,94.79 508.67,95.69 510.06,95.03 509.95,96.78 509.73,96.43 510.05,97.07 509.79,99.11 510.35,98.36 509.81,99.00 510.84,98.31 511.02,100.12 511.22,100.22 510.05,101.97 509.80,102.43 511.40,102.61 510.55,103.35 510.46,102.92 511.41,104.88 511.33,105.11 512.36,104.74 512.09,106.58 512.51,106.38 511.50,106.07 512.34,107.81 512.55,108.29 511.48,107.89 513.11,109.40 512.14,109.31 512.00,110.78 512.91,109.74 513.40,111.14 513.87,110.59 513.13,111.94 513.01,111.94 514.27,113.85 512.76,113.70 514.48,116.12 513.79,115.83 513.81,117.50 513.88,117.06 513.69,117.20 513.39,118.21 514.95,119.14 513.77,120.89 515.38,120.26 514.40,122.49 515.57,121.16 515.33,122.17 514.65,124.50 515.41,123.57 515.41,123.72 515.39,125.70 515.98,126.84 516.41,127.13 515.26,126.70 515.38,127.69 516.85,129.92 516.06,130.54 517.27,131.06 517.22,131.48 515.68,131.89 516.30,131.59 517.03,132.75 516.55,134.39 516.46,135.17 516.92,135.30 517.65,135.35 517.69,134.64 517.18,136.86 518.00,136.01 517.27,137.07 518.18,137.64 517.93,138.85 517.73,138.55 518.22,140.46 519.18,139.95 518.36,141.51 518.87,143.22 518.88,141.70 519.74,142.59 518.32,144.53 519.65,143.46 519.05,144.25 518.83,144.05 519.81,143.84 520.03,144.88 519.01,143.78 520.18,143.43 519.81,143.67 520.73,144.22 521.39,143.47 519.82,143.90 520.75,143.57 519.85,142.62 521.53,141.04 522.03,141.64 521.27,142.96 521.51,141.85 522.06,141.53 521.24,142.51 521.48,140.84 521.14,139.77 522.43,139.85 522.26,139.66 522.01,141.55 521.82,141.42 521.73,139.56 522.39,138.85 523.01,140.28 521.96,138.41 522.61,137.59 522.08,138.38 523.54,136.79 522.42,136.69 522.61,137.76 522.69,137.16 523.65,137.03 523.26,135.24 523.79,136.07 523.73,134.97 523.83,133.56 524.82,133.34 525.01,134.40 524.27,132.61 524.64,133.88 523.94,132.52 524.85,132.62 525.04,130.76 524.92,130.31 525.22,130.32 524.81,129.85 525.66,130.73 525.98,129.14 525.44,128.02 525.94,128.28 525.99,129.20 526.43,127.20 525.99,127.33 526.20,126.27 525.75,123.73 526.51,123.00 526.98,122.63 526.88,123.15 526.71,122.31 527.88,120.08 526.79,120.22 528.25,118.88 528.32,117.28 528.49,116.60 527.11,116.86 527.78,115.36 528.69,115.38 527.68,115.17 528.91,113.65 529.11,111.80 528.80,111.10 528.81,110.93 528.15,111.00 529.93,108.62 529.92,108.73 528.89,106.84 529.93,106.90 528.65,105.86 530.16,105.35 528.93,106.15 530.70,104.54 530.23,105.09 530.11,103.27 530.25,103.58 529.56,103.43 530.38,103.90 530.86,101.94 530.00,101.93 529.91,102.25 531.14,102.77 532.00,100.72 530.28,101.19 530.48,101.20 531.64,99.69 532.53,100.33 531.11,100.38 531.08,99.33 531.85,99.38 531.26,98.89 532.12,98.13 532.69,96.60 532.99,98.69 531.82,98.30 532.92,97.10 533.48,96.27 532.17,95.82 533.83,96.05 533.51,95.03 534.33,94.11 532.53,95.93 534.48,94.72 532.91,94.05 533.88,94.28 533.12,92.94 534.76,92.26 534.32,92.54 534.14,92.62 534.96,92.56 534.92,90.27 534.78,89.93 535.55,91.91 535.89,89.93 535.56,89.24 534.36,90.43 535.48,88.76 534.86,90.33 536.45,88.59 536.46,87.50 536.51,88.64 536.25,87.25 535.73,86.40 535.53,87.79 535.60,86.75 536.84,87.10 537.45,84.98 537.10,86.02 537.59,84.19 536.84,85.47 537.74,83.51 537.90,83.55 537.19,84.16 537.14,83.47 538.47,83.28 537.61,83.09 538.91,83.08 538.21,81.42 538.32,82.91 537.72,80.87 538.62,81.74 537.81,79.76 538.83,79.95 538.44,79.89 539.16,78.97 538.85,79.97 539.62,78.70 539.90,78.04 539.00,76.68 538.83,77.76 539.96,75.95 540.15,76.88 539.62,77.21 540.82,76.94 539.83,76.64 540.91,73.90 539.59,73.81 540.99,74.77 539.94,74.21 540.34,73.89 541.33,72.90 540.82,72.10 541.53,72.92 540.45,72.49 540.85,71.92 541.90,70.32 542.00,71.10 541.92,69.94 541.40,69.77 541.96,68.74 542.09,67.57 541.37,68.61 543.35,67.21 541.86,68.21 543.57,67.74 542.29,66.54 542.28,65.64 542.31,65.38 542.53,64.50 543.07,64.77 544.15,64.74 544.09,62.47 543.29,63.51 543.00,63.28 544.39,61.50 545.02,62.30 544.72,61.20 545.26,61.76 544.40,59.68 544.68,60.38 545.59,58.12 544.21,58.47 544.08,57.87 544.43,58.93 546.19,56.10 545.65,56.44 545.21,56.15 546.12,57.14 546.44,55.16 546.64,55.84 545.89,54.48 546.09,55.27 546.53,53.42 546.46,53.84 547.53,51.77 546.84,51.59 545.90,51.52 546.75,51.84 546.25,51.93 546.99,53.72 546.94,53.09 548.16,54.10 548.33,56.48 547.66,56.97 548.09,55.78 548.80,56.34 548.25,56.89 547.41,58.48 548.30,59.33 548.56,59.79 547.82,60.56 549.09,59.65 548.66,59.87 548.26,62.02 549.51,61.76 548.86,61.79 550.08,63.13 550.20,63.68 548.85,64.10 549.63,65.72 550.02,64.27 549.02,65.59 549.40,65.77 549.91,66.54 549.49,68.50 549.58,66.24 550.36,65.88 550.16,65.15 551.58,64.55 551.10,65.51 550.67,64.08 550.34,64.48 551.48,62.74 552.42,62.18 550.92,61.82 552.00,59.98 551.71,59.17 552.00,60.58 552.14,60.57 551.51,58.29 552.30,58.01 552.75,58.13 552.66,57.96 552.05,56.23 552.62,56.51 553.42,55.21 552.60,54.86 552.66,54.62 554.48,54.69 553.58,54.33 553.87,52.13 553.32,52.64 553.68,51.76 553.26,51.67 553.93,53.16 554.44,53.32 554.96,54.71 555.49,54.98 554.05,55.84 555.63,56.50 554.56,55.32 555.90,57.42 555.79,56.19 555.27,58.89 555.00,57.81 556.33,58.44 555.27,60.38 556.51,60.95 556.79,60.29 555.25,61.80 555.93,61.84 556.63,61.91 557.40,63.10 556.76,63.76 555.76,65.52 557.68,64.59 557.68,66.06 557.71,65.13 556.88,66.22 557.43,67.05 557.83,68.91 557.08,68.30 557.51,68.09 558.10,68.21 557.79,66.27 558.43,67.32 557.67,65.94 557.57,67.05 559.07,66.25 557.69,65.19 559.40,66.94 559.38,66.05 558.97,66.05 560.06,66.08 559.73,65.31 558.75,63.37 560.09,64.42 560.43,62.83 558.86,64.86 560.32,64.13 560.16,62.78 560.01,62.23 560.11,63.86 560.06,62.55 560.54,62.80 560.72,61.78 561.65,62.16 560.29,61.08 560.54,60.68 560.40,61.20 561.19,60.05 561.19,59.36 561.10,61.43 562.02,60.39 562.72,60.45 561.32,59.74 561.33,60.08 561.28,59.07 561.86,58.28 563.20,59.62 563.46,58.56 562.25,59.51 562.41,59.09 562.67,59.33 563.13,61.52 564.12,60.61 563.55,62.63 563.21,61.36 564.06,61.19 564.08,62.99 563.77,63.41 563.69,63.33 563.23,63.13 564.34,64.28 564.20,65.47 563.61,66.02 564.58,65.06 565.46,65.69 565.18,65.99 565.92,67.10 565.74,65.56 565.65,66.64 564.54,68.07 566.26,66.48 566.25,68.09 565.79,67.41 565.05,68.90 565.50,69.49 565.42,69.79 566.38,70.33 566.65,70.82 565.50,71.31 566.42,69.87 566.73,71.04 566.55,71.91 566.57,71.44 567.13,71.83 566.66,73.63 567.76,73.61 567.69,72.92 568.32,73.81 567.89,72.52 567.44,73.79 567.55,75.18 568.65,74.90 567.53,75.60 567.79,75.27 567.53,76.01 569.38,75.27 568.30,74.55 568.30,76.43 568.59,77.46 568.94,76.46 568.45,76.97 569.46,77.13 568.94,76.23 569.59,76.26 569.79,76.99 570.05,78.18 570.15,77.44 570.24,78.75 569.26,77.31 570.58,78.26 571.00,78.44 571.07,79.83 570.96,77.55 571.69,79.30 571.16,77.10 571.17,77.36 572.02,77.58 570.76,76.61 572.14,78.01 572.63,76.68 572.26,77.40 572.36,75.66 571.21,76.80 571.70,75.60 571.90,77.57 571.94,76.30 572.50,75.72 571.79,74.49 572.17,75.71 571.99,75.17 572.58,75.31 573.70,75.44 574.09,76.09 573.74,75.03 573.59,75.82 573.41,74.39 572.99,73.82 574.17,74.79 573.57,75.23 573.79,73.52 573.67,73.91 574.23,75.00 574.28,73.68 573.84,75.18 575.66,75.59 575.48,75.71 574.22,74.55 575.82,76.60 574.84,75.29 575.81,75.73 576.37,75.94 575.37,77.50 576.54,77.19 575.41,76.63 577.13,77.74 576.21,76.85 575.76,76.69 577.39,78.97 576.22,77.77 577.04,77.55 577.47,78.58 577.00,78.51 576.33,79.98 577.94,78.77 578.28,80.70 576.92,80.83 577.28,79.41 577.93,79.20 577.10,80.04 577.56,81.23 578.05,80.45 579.03,81.39 578.20,82.28 579.11,82.19 578.50,81.73 578.59,80.40 578.49,83.72 579.70,84.51 580.02,84.84 580.04,84.93 579.97,85.93 578.72,85.40 578.95,87.93 578.91,87.77 580.65,90.01 580.99,90.90 579.95,90.52 580.27,90.73 580.92,91.62 581.45,92.22 579.97,93.74 580.21,93.97 581.42,95.50 581.72,95.60 581.42,95.87 580.97,96.45 581.84,98.73 582.18,99.08 581.92,99.75 582.29,99.79 582.18,101.28 581.59,102.35 582.47,104.02 581.45,103.90 583.10,102.87 582.14,103.84 581.90,104.91 582.33,103.64 582.82,105.39 582.34,104.64 582.46,103.90 584.04,104.30 583.60,104.55 583.85,105.02 584.12,102.60 584.18,105.11 585.02,104.42 584.81,103.64 584.24,104.43 583.61,104.00 584.71,105.18 585.59,105.62 584.73,106.60 584.14,103.79 585.30,105.73 586.14,105.91 584.67,103.75 584.77,103.20 584.98,106.84 585.83,104.23 586.11,102.92 584.99,105.74 586.13,103.44 586.16,107.20 585.58,103.77 585.88,103.75 587.05,103.34 586.90,106.58 587.15,103.66 586.69,105.07 586.89,106.38 586.33,103.51 588.17,107.90 588.16,106.70 587.25,106.52 587.57,106.17 587.13,104.25 587.98,107.67 587.60,106.75 587.37,104.87 589.20,105.85 588.70,107.88 588.56,107.59 588.93,107.07 588.16,106.06 588.57,106.28 589.71,107.54 588.99,107.16 588.38,104.68 588.88,104.56 588.60,105.74 588.83,104.08 590.17,105.98 590.71,107.30 590.09,103.86 590.22,106.03 589.70,104.13 590.66,107.32 590.61,104.82 590.78,107.40 590.62,104.45 591.71,107.75 591.18,106.33 591.82,104.05 591.88,104.55 592.10,105.79 591.44,105.07 591.97,104.43 591.91,105.92 592.83,104.19 591.69,104.32 592.26,103.63 592.89,103.50 593.22,103.74 592.52,105.87 593.46,107.03 592.68,104.01 592.18,103.67 593.70,107.17 594.03,104.48 593.59,105.62 594.22,107.14 594.03,103.05 593.30,103.14 594.54,103.72 594.85,103.57 593.28,103.35 593.96,106.64 594.29,104.86 594.13,107.14 594.87,106.77 595.42,105.30 595.06,107.12 595.83,103.89 596.02,104.26 595.98,105.82 595.76,106.28 595.53,107.07 596.30,105.32 596.69,103.58 596.02,104.92 595.04,103.53 595.15,104.39 595.27,106.62 596.45,106.81 595.75,106.10 596.55,104.03 596.74,104.11 597.21,107.57 597.82,104.30 596.33,106.17 597.86,108.55 597.17,107.88 596.59,108.24 597.54,107.58 598.06,107.93 598.06,107.95 598.93,105.09 598.75,105.10 599.03,106.34 598.46,106.44 599.01,108.21 598.67,107.90 598.61,107.53 598.34,108.68 598.28,106.37 598.20,105.20 598.44,106.21 598.45,106.51 598.54,108.47 598.73,105.44 599.63,107.16 598.96,108.14 599.89,106.04 599.94,106.65 600.81,108.59 599.50,108.09 600.82,105.05 601.04,104.64 601.22,105.43 600.82,105.51 600.06,106.19 601.44,105.92 602.21,104.51 601.77,104.55 601.32,106.98 600.85,105.37 601.92,104.59 601.35,105.64 601.03,107.06 601.21,105.37 601.29,104.25 602.64,105.92 602.94,105.12 602.62,107.28 603.31,104.81 603.77,103.72 603.15,106.84 602.19,104.49 603.55,107.03 603.20,106.02 603.70,106.57 603.74,105.79 603.39,106.34 604.48,103.11 603.50,103.18 604.91,107.13 604.16,104.69 603.59,103.60 605.03,106.57 605.09,106.77 604.07,104.11 605.42,104.95 604.17,104.85 605.85,107.11 605.95,105.68 604.81,103.60 605.93,104.91 605.55,103.79 606.48,105.33 605.42,103.47 605.21,104.64 605.46,106.35 606.16,105.66 605.77,104.01 607.39,103.24 606.13,106.36 606.34,107.07 607.05,104.37 607.27,103.08 607.90,104.67 607.87,103.10 607.42,104.46 606.56,103.42 608.31,107.46 606.74,105.53 607.23,104.80 608.82,107.56 608.91,104.29 607.64,106.32 609.10,105.34 608.35,103.57 608.49,106.83 608.39,104.79 608.17,107.85 609.52,106.27 608.39,105.48 608.39,105.06 609.22,103.40 608.71,107.43 610.56,106.95 610.37,105.64 609.08,106.09 610.73,105.55 609.78,105.60 610.51,104.16 611.17,107.55 609.61,105.58 611.06,105.03 609.86,106.22 611.56,105.46 611.79,104.24 611.59,106.97 611.13,107.47 611.99,104.09 610.62,105.10 610.82,106.97 612.70,107.59 611.47,104.48 612.05,107.58 611.49,106.61 611.77,106.04 611.96,106.11 612.28,104.44 612.51,105.15 613.39,105.24 613.22,103.27 612.35,104.67 612.55,103.60 613.95,106.81 614.19,106.24 613.52,106.23 614.18,106.95 614.50,103.12 614.05,104.86 614.34,106.16 613.62,105.40 614.26,103.30 614.49,105.08 614.72,104.94 614.18,106.73 614.37,104.13 615.12,105.19 614.07,107.08 615.41,106.48 616.22,107.15 616.35,103.74 615.02,105.20 615.12,104.89 615.18,106.57 614.94,103.62 616.80,107.14 615.16,105.75 615.43,104.77 615.63,106.84 617.03,104.60 616.02,105.18 617.62,107.17 617.07,105.19 616.71,103.78 617.43,103.70 617.57,107.56 616.40,106.50 617.23,106.54 618.03,105.22 618.48,104.50 618.22,104.32 617.92,106.38 617.27,105.44 618.01,105.84 617.40,104.44 618.66,105.46 619.34,105.22 619.19,106.24 618.68,106.66 618.59,107.13 618.76,104.74 618.48,106.83 619.86,104.36 619.01,105.96 620.39,107.80 619.64,104.42 620.47,107.42 619.65,104.32 619.18,106.14 619.77,107.98 619.92,105.48 620.84,105.40 620.66,107.55 621.69,104.97 621.02,104.98 621.07,107.92 621.64,105.87 620.39,107.69 621.11,104.92 620.95,108.37 622.21,105.65 620.83,106.90 622.54,104.30 621.18,104.70 621.26,104.76 621.43,107.36 622.64,108.13 622.09,107.75 621.68,108.02 621.82,106.46 623.37,108.44 623.61,106.57 623.34,106.80 622.57,105.38 622.96,106.63 622.93,104.49 624.10,104.75 623.49,107.86 623.69,104.33 624.34,103.94 625.00,105.14 625.17,105.29 623.79,105.47 624.72,105.55 623.69,105.54 624.25,104.46 625.70,105.25 625.31,106.85 624.36,105.87 625.31,106.21 624.58,107.67 625.74,107.30 625.72,105.36 626.35,107.13 626.62,108.00 625.51,106.18 626.00,104.91 625.78,107.08 626.61,103.88 625.87,107.15 626.18,107.14 626.80,104.38 626.26,106.99 627.66,104.96 626.84,106.19 627.31,107.56 628.24,103.92 627.01,106.88 627.39,104.70 628.30,107.74 628.57,104.24 627.46,107.28 627.48,104.84 627.55,106.48 628.00,107.35 628.15,105.46 629.55,106.73 629.37,104.87 629.77,107.61 629.86,103.94 628.29,106.09 629.02,104.24 629.72,103.10 629.17,104.00 629.93,103.74 630.08,105.10 629.75,104.40 629.83,106.53 630.23,105.46 630.16,103.60 630.56,105.18 630.20,104.96 631.53,106.24 629.86,104.27 630.64,105.36 631.48,107.03 630.45,106.75 630.26,106.64 630.42,105.08 630.55,103.91 632.48,106.08 631.81,104.20 631.59,103.01 631.50,106.34 631.32,103.13 631.86,107.15 631.86,104.04 632.80,104.49 631.88,102.99 632.53,106.01 633.06,106.36 633.32,105.01 632.26,106.47 633.91,106.66 633.06,106.15 633.36,106.17 633.30,103.90 632.80,103.88 633.62,103.35 633.96,105.12 634.25,103.76 633.76,107.35 635.24,105.65 634.40,104.18 634.56,103.25 635.51,107.38 635.51,104.85 635.47,107.84 635.24,104.35 634.38,105.04 636.16,107.54 636.48,105.62 635.66,103.82 636.50,104.10 635.92,104.18 636.38,106.69 636.74,107.90 637.12,105.25 635.62,106.93 636.13,104.59 635.92,107.45 636.07,107.00 637.85,107.87 636.83,107.53 637.20,106.01 636.97,104.53 637.36,104.12 636.78,105.53 638.34,103.94 638.36,107.53 637.46,105.89 637.12,104.72 638.29,106.16 638.80,104.97 638.75,106.84 638.16,103.74 638.76,107.17 638.97,105.78 639.60,106.33 638.31,107.45 639.49,105.02 638.67,104.15 639.04,107.66 638.53,104.04 638.63,104.93 639.90,105.51 640.12,105.96 639.08,104.92 640.06,105.22 640.67,106.73 639.58,104.30 641.42,107.40 639.80,103.11 640.03,104.66 640.03,104.42 640.08,103.38 641.62,105.50 641.54,107.52 641.34,105.70 642.12,107.19 641.76,106.34 641.28,105.11 641.87,104.46 642.00,107.62 642.67,106.87 642.31,106.26 641.59,104.69 641.88,103.67 642.02,104.64 643.43,103.45 642.39,105.77 643.45,104.14 643.30,106.62 644.06,103.95 642.84,107.28 644.00,107.16 643.88,104.64 643.92,106.70 643.84,104.69 644.00,106.64 644.38,104.68 644.30,105.33 644.55,107.10 644.99,107.08 645.46,105.70 643.84,108.52 644.99,105.61 645.82,106.84 645.08,105.95 644.95,108.75 645.81,104.93 645.22,104.59 645.16,105.75 646.66,105.46 645.43,105.99 646.72,108.53 645.46,105.35 646.58,107.17 646.88,106.78 646.13,106.14 646.05,106.44 646.69,106.77 647.53,106.75 646.42,107.56 647.53,107.88 647.34,107.55 646.53,107.43 646.72,107.19 648.13,106.49 648.31,104.92 647.77,106.04 648.55,108.96 647.40,105.75 649.01,108.14 648.22,108.81 647.52,104.33 649.18,106.85 649.03,107.25 649.42,106.32 649.76,108.37 648.86,106.57 650.16,108.43 649.03,107.34 649.78,107.89 649.20,106.38 650.17,106.55 649.99,105.03 650.82,107.89 649.56,103.97 650.25,106.31 649.82,107.30 650.28,105.28 650.65,105.14 651.46,104.79 651.03,106.29 650.52,104.90 651.08,106.12 650.32,104.85 651.53,103.88 651.68,105.23 651.27,107.20 652.74,106.84 650.89,106.91 652.68,107.07 651.52,106.91 652.13,106.63 652.44,105.37 652.64,105.04 652.88,105.38 653.25,106.51 652.37,104.14 652.10,104.97 652.47,104.54 653.21,102.83 654.12,103.30 653.13,104.92 652.92,105.86 654.57,106.61 654.76,106.45 653.20,104.53 653.31,104.01 655.18,106.88 654.31,104.66 654.57,104.18 653.71,106.18 654.67,105.29 655.39,106.73 654.94,105.10 655.45,105.54 654.28,106.50 654.41,103.74 656.30,104.66 656.53,103.57 655.55,103.71 656.85,104.88 655.33,107.24 656.06,104.89 657.11,104.32 655.56,105.38 656.79,105.87 656.33,104.78 656.16,105.69 656.72,104.98 657.85,106.30 656.83,107.05 658.09,104.69 657.00,105.47 657.14,107.97 658.15,106.15 656.89,105.63 657.55,104.02 657.74,107.24 658.39,108.05 657.37,107.93 659.15,106.63 657.69,104.48 659.46,108.18 659.73,104.99 657.88,104.45 659.83,105.39 659.38,107.69 658.51,107.47 660.24,107.08 659.29,103.53 658.73,105.79 659.97,106.29 660.17,107.02 660.29,105.43 660.52,103.93 661.02,103.68 659.42,103.33 659.94,105.95 661.11,107.12 660.80,104.42 660.27,104.19 660.40,104.22 660.31,103.41 661.47,106.35 660.72,103.74 662.30,104.54 661.78,104.32 661.46,102.89 662.68,106.79 661.26,102.97 661.52,106.39 661.97,103.96 661.70,106.63 662.97,106.22 661.94,104.42 663.42,105.23 662.39,103.23 662.68,102.73 663.18,106.86 663.91,104.25 663.99,102.39 662.71,105.85 662.72,103.08 664.25,103.17 664.46,106.93 664.46,105.15 664.78,106.03 664.07,103.83 663.49,104.79 664.29,103.47 663.95,104.73 664.64,105.76 665.29,105.57 665.79,104.08 665.08,107.40 664.82,105.33 665.01,107.10 664.74,104.90 666.14,105.97 665.47,103.80 666.31,104.80 666.92,105.50 665.40,106.95 666.74,104.49 665.62,105.51 667.31,106.81 667.51,105.90 667.60,107.17 666.35,106.61 666.88,105.84 668.02,106.16 667.86,104.60 668.34,106.49 667.50,105.70" fill="none" stroke="#edb120" stroke-width="2.1" stroke-linejoin="round" /><line x1="443.3" y1="79" x2="443.3" y2="85.6" stroke="#edb120" stroke-width="1.5"/><line x1="469.7" y1="78" x2="469.7" y2="95.8" stroke="#edb120" stroke-width="1.5"/><line x1="489.9" y1="97" x2="489.9" y2="105.3" stroke="#edb120" stroke-width="1.5"/><line x1="497" y1="97" x2="497" y2="104.7" stroke="#edb120" stroke-width="1.5"/><line x1="510.2" y1="85" x2="510.2" y2="99" stroke="#edb120" stroke-width="1.5"/><line x1="585.4" y1="80" x2="585.4" y2="123.7" stroke="#edb120" stroke-width="1.5"/><line x1="658.8" y1="105" x2="658.8" y2="111.3" stroke="#edb120" stroke-width="1.5"/><polyline points="62.25,355.66 62.70,355.94 62.47,354.04 63.29,355.02 62.66,356.78 62.76,356.91 62.88,356.29 63.75,354.09 63.22,354.86 64.00,357.67 64.21,355.20 64.05,356.12 64.44,354.94 64.59,356.72 64.05,357.47 64.04,355.58 64.07,354.83 64.73,355.41 64.93,354.36 64.68,355.59 64.98,357.34 65.11,355.55 64.81,356.96 64.90,357.95 65.84,357.15 65.91,354.52 65.83,355.78 65.42,354.50 66.46,355.12 66.38,355.17 66.69,357.80 66.23,355.68 66.78,356.32 66.87,354.80 67.11,357.27 67.32,354.51 66.84,354.68 67.54,356.52 67.67,355.51 67.19,356.22 67.18,355.36 67.27,354.47 68.25,356.63 67.42,354.69 68.03,357.62 67.86,355.49 68.58,356.12 68.30,355.58 68.92,354.10 68.62,353.97 68.38,356.83 69.32,356.40 69.29,356.00 69.06,354.07 69.59,354.19 69.33,354.68 69.85,357.18 69.58,357.06 69.98,355.28 69.67,355.22 69.65,354.92 70.61,354.80 70.38,356.88 70.21,355.20 70.27,353.71 70.99,356.19 71.04,354.67 71.07,356.15 71.26,355.74 71.33,354.66 71.24,354.36 71.57,356.12 71.95,354.41 71.71,355.69 71.80,353.40 72.05,354.26 72.32,355.03 72.42,355.70 72.39,354.63 72.70,356.04 72.84,354.65 72.81,356.53 73.21,356.92 72.90,355.27 73.34,354.01 73.10,356.79 73.47,355.90 73.05,356.04 73.58,356.22 73.55,355.80 74.02,355.64 74.10,355.68 73.66,353.48 74.28,354.96 74.44,354.15 73.92,355.62 74.23,355.03 74.26,353.51 74.43,354.44 74.41,353.97 74.88,354.93 75.22,355.43 75.65,354.07 75.28,353.19 75.41,354.17 75.96,353.56 75.29,354.47 75.47,355.31 75.84,355.05 76.58,355.16 76.17,356.00 76.52,355.96 76.14,354.35 76.69,355.16 77.22,356.45 76.73,355.19 76.50,356.21 77.19,353.38 76.89,355.21 77.77,355.27 77.43,354.36 77.42,353.84 77.63,356.54 78.29,356.51 77.76,355.22 78.12,356.63 78.07,354.62 78.37,356.70 78.48,354.21 78.75,353.66 78.54,354.85 79.20,356.10 79.03,353.38 79.56,354.35 79.00,356.23 79.03,354.42 79.29,357.06 79.60,355.73 79.85,355.90 79.49,356.30 79.80,356.40 79.96,355.63 80.28,354.82 80.24,355.46 80.59,356.51 80.38,353.99 81.17,355.53 80.92,357.12 81.28,354.01 81.20,355.52 81.38,356.55 81.79,355.76 81.39,355.43 81.32,357.12 82.08,355.14 82.21,354.32 81.93,356.59 82.41,355.12 81.89,357.37 82.42,355.81 82.33,355.88 82.71,354.64 82.32,357.00 83.19,354.90 83.16,356.91 83.35,354.14 83.75,357.56 82.92,356.55 83.22,357.04 84.08,356.24 83.39,356.37 84.30,354.92 84.11,354.44 83.79,355.19 83.80,355.72 84.26,354.25 84.07,354.14 84.88,355.34 84.40,355.96 84.70,354.88 85.00,355.17 85.01,355.74 85.46,354.06 85.52,354.21 85.93,354.74 85.76,354.75 85.82,354.33 86.15,354.29 85.66,354.54 86.02,354.24 85.95,354.60 86.56,354.50 86.69,350.54 86.27,346.96 86.51,343.68 86.88,340.26 87.33,339.91 87.39,339.71 86.94,339.70 87.61,340.21 87.17,339.75 87.85,340.17 87.46,340.05 87.80,339.90 87.91,339.63 88.06,339.82 87.98,339.65 88.62,339.87 88.54,339.81 88.75,339.79 88.94,339.59 88.90,339.62 88.66,339.29 88.80,339.41 89.36,339.88 89.01,339.85 90.03,339.72 89.70,339.85 89.50,339.80 89.68,339.66 90.04,339.83 89.93,340.17 90.19,339.82 90.32,339.80 90.65,339.88 91.22,339.79 91.36,340.03 91.22,340.25 91.62,340.16 91.47,339.98 91.61,340.12 91.22,340.42 91.21,340.14 91.39,340.20 92.42,340.35 91.88,340.37 91.98,340.48 92.55,340.82 92.20,340.66 93.02,341.15 92.64,341.32 92.35,341.71 93.25,341.36 92.64,341.76 93.71,342.05 93.20,342.23 93.05,342.18 93.60,342.87 93.29,343.11 93.41,342.91 93.55,343.21 94.03,343.35 93.80,343.60 94.85,343.66 94.51,343.96 94.66,344.32 94.57,344.35 94.93,344.59 95.11,345.31 94.86,345.49 95.31,345.21 95.47,345.72 95.65,345.75 96.07,346.06 95.73,345.90 95.64,346.31 95.85,345.98 96.44,346.05 96.11,346.58 96.01,346.25 96.14,346.41 96.76,346.60 96.37,346.57 96.48,346.93 96.85,346.70 96.79,346.88 97.13,346.99 97.50,347.26 97.73,347.42 97.78,347.40 98.15,347.28 98.41,347.48 98.29,347.59 98.53,347.38 97.97,347.52 98.14,347.39 98.78,347.58 98.29,347.81 98.91,348.31 98.53,348.09 98.97,348.37 99.69,349.03 99.10,349.10 99.36,349.22 99.14,349.39 100.08,349.77 99.48,350.09 99.68,350.20 100.08,350.55 100.56,350.92 100.21,350.67 100.48,351.40 100.59,351.36 101.21,351.80 101.37,351.92 100.64,352.21 101.08,352.59 101.77,352.39 101.49,352.64 101.93,353.17 101.39,353.38 101.50,353.57 101.78,353.64 101.79,353.65 101.93,353.30 102.64,353.58 102.55,353.39 102.20,353.02 102.67,353.17 102.48,352.58 103.15,352.51 102.76,352.88 103.01,352.70 103.68,352.52 103.74,352.36 103.08,352.09 103.78,352.05 103.71,351.73 103.47,351.68 103.95,351.54 104.40,351.50 104.80,351.32 104.87,351.42 104.74,351.21 105.00,350.97 104.92,350.71 104.97,350.75 104.66,350.36 105.06,350.08 105.59,350.22 105.26,350.14 105.36,350.10 105.28,349.81 106.00,349.67 106.36,349.62 106.43,349.30 106.32,349.16 106.36,348.68 106.20,348.92 106.64,348.80 106.22,348.29 106.52,348.13 107.37,348.12 107.21,348.12 106.83,347.64 107.40,347.67 107.35,347.53 107.31,347.48 107.50,347.22 108.25,347.51 108.12,347.33 107.84,347.79 108.31,347.47 108.75,348.04 108.41,348.08 108.65,348.01 108.55,348.41 108.99,348.15 108.70,348.67 108.75,348.23 109.37,348.66 109.08,348.55 109.67,348.92 109.88,349.09 109.76,348.84 110.36,349.42 110.38,349.23 110.59,349.55 110.48,349.41 110.39,349.90 110.24,349.57 110.26,349.72 110.92,349.83 111.18,349.79 111.37,350.15 111.39,350.17 111.76,350.22 111.90,350.01 111.16,349.68 111.39,349.62 111.77,349.78 112.18,349.93 111.97,349.54 112.07,349.78 112.42,349.48 112.63,349.59 113.04,349.62 112.27,349.85 113.05,349.69 112.57,349.37 112.93,349.43 113.63,349.54 113.12,349.28 113.66,349.30 113.66,349.43 113.55,349.08 113.86,349.37 113.89,348.84 114.26,348.91 113.99,348.77 114.32,348.74 114.51,349.24 115.03,348.84 114.58,348.88 114.36,349.54 114.85,349.74 114.86,349.52 115.12,350.01 114.92,350.28 115.97,350.34 115.60,350.72 115.53,350.74 116.07,351.51 115.56,351.49 116.41,351.67 116.36,351.95 116.54,352.49 116.06,352.58 116.92,352.48 117.15,352.97 117.32,353.48 117.53,353.47 117.55,353.96 117.57,353.86 117.89,354.29 117.26,354.90 117.44,354.82 117.59,355.11 117.55,355.70 118.02,355.88 118.07,356.29 118.71,357.26 117.97,357.31 119.05,358.15 118.35,358.48 119.27,358.72 118.51,359.60 119.04,359.60 119.49,360.11 119.64,360.62 119.52,360.93 119.83,361.30 119.36,360.64 119.75,360.84 119.98,360.54 120.59,360.53 120.32,360.19 120.42,360.06 120.13,360.20 120.83,359.91 121.02,359.48 120.88,359.58 121.29,359.54 121.13,359.06 121.14,358.91 120.90,358.94 121.45,358.77 122.05,358.83 121.78,358.52 122.31,358.58 122.49,358.57 121.79,358.04 121.83,358.28 122.61,357.85 122.39,357.76 122.42,357.86 123.08,357.50 122.73,357.12 123.07,357.20 123.08,356.90 122.84,356.69 123.02,356.73 123.26,356.99 123.91,356.45 123.51,356.61 124.00,356.55 124.13,356.17 123.89,356.20 124.19,356.70 124.06,356.83 124.06,356.50 124.69,356.98 124.30,356.66 124.88,357.27 124.55,357.42 124.76,357.37 125.38,357.57 125.11,357.63 125.13,357.95 125.83,357.53 125.34,357.66 126.05,358.00 126.25,358.37 126.30,357.98 125.90,358.55 126.17,358.60 126.03,358.43 126.68,358.80 126.75,358.99 126.63,358.63 127.49,358.79 126.75,358.84 126.87,359.02 127.54,359.15 127.22,359.37 127.66,359.14 127.75,359.55 128.34,359.70 127.82,359.66 128.21,360.09 128.36,360.55 128.35,360.63 128.89,360.92 128.29,360.84 128.66,361.04 128.70,361.63 129.20,361.70 128.80,362.11 129.15,362.22 129.57,362.05 129.64,362.72 130.16,362.47 129.95,362.90 129.70,363.34 129.89,363.38 129.75,363.44 130.23,364.05 130.00,364.39 130.25,364.29 130.98,364.93 130.83,365.16 130.86,364.94 130.60,365.27 130.99,365.74 131.33,365.73 131.89,366.49 131.18,366.48 131.31,366.93 131.41,367.05 132.00,367.59 131.85,367.52 132.68,367.85 132.04,368.04 132.88,368.36 132.72,368.54 132.54,369.13 132.87,369.33 132.52,369.20 133.06,369.94 133.64,369.91 133.35,370.25 133.72,370.34 133.57,370.58 133.83,371.14 133.56,371.02 134.21,371.61 134.60,371.51 133.90,371.78 134.31,372.00 134.84,372.56 134.81,372.53 134.82,372.74 134.72,373.06 135.21,373.18 135.38,373.46 135.34,373.82 135.36,374.23 135.92,374.60 135.46,374.21 135.39,374.53 135.80,374.22 135.64,374.51 136.39,374.28 135.77,374.29 136.20,374.38 136.68,374.29 136.99,373.99 136.61,374.11 136.91,374.11 137.14,374.06 136.82,374.08 136.79,373.86 137.68,374.01 137.08,374.01 137.65,373.80 137.50,373.53 138.28,374.02 138.38,373.56 138.06,373.79 138.03,373.77 137.94,373.54 138.64,373.76 138.69,373.80 138.62,373.60 138.82,373.78 139.33,373.69 139.38,373.60 139.09,373.36 139.10,373.83 139.09,373.36 139.31,373.78 139.77,373.59 139.94,373.80 139.61,373.63 140.48,373.79 140.68,373.68 140.69,373.66 140.72,373.80 141.11,373.35 140.55,373.98 140.82,373.47 140.98,373.53 140.95,373.56 141.29,373.54 141.72,373.75 141.28,373.84 142.14,374.20 141.59,374.07 141.95,373.91 141.65,373.93 142.52,373.97 142.74,374.13 142.77,374.13 143.05,374.25 142.67,374.20 143.04,374.12 143.22,374.25 142.83,373.98 143.01,373.91 143.66,374.11 143.55,373.81 143.51,374.18 143.88,373.73 143.54,373.88 143.53,373.82 144.08,373.72 143.78,373.69 144.86,373.94 144.36,374.11 144.24,374.15 144.29,373.68 145.01,373.62 145.02,374.04 145.12,374.07 145.40,374.14 145.09,373.91 145.49,373.85 145.40,374.10 146.12,373.79 145.96,373.63 146.22,373.69 145.77,373.89 146.21,373.94 146.78,373.67 146.36,373.93 146.30,373.85 146.38,373.74 147.34,373.80 146.59,373.78 147.14,373.69 146.95,373.64 147.38,372.81 147.74,371.92 147.48,371.31 147.63,370.44 147.75,370.52 147.93,368.95 147.80,369.17 148.06,367.75 148.44,367.46 148.97,365.96 148.92,365.54 149.24,364.99 148.73,363.63 148.89,363.48 149.26,363.82 149.39,362.54 149.58,362.82 149.80,361.66 149.67,361.40 149.53,360.57 150.40,360.06 150.02,359.32 150.37,359.27 150.35,358.05 150.08,358.41 150.92,356.88 150.36,357.62 151.05,355.76 151.20,355.55 151.13,354.62 151.14,354.29 151.44,354.61 151.90,354.33 152.04,353.43 151.79,352.19 152.07,351.90 152.46,351.04 152.48,350.93 152.77,351.30 152.81,349.87 152.21,350.30 152.94,349.36 152.62,348.36 152.88,347.38 153.00,348.06 153.34,346.45 153.47,346.22 153.27,345.73 153.93,344.54 153.48,345.03 153.94,344.26 154.39,343.76 153.93,343.69 154.36,342.49 154.81,341.70 154.50,341.02 154.66,340.88 154.48,340.02 155.18,341.04 154.97,339.31 154.77,338.52 155.76,338.28 155.15,337.97 155.14,338.04 155.90,340.00 156.13,340.34 155.68,340.58 155.82,340.06 155.86,340.35 156.30,341.85 156.24,341.17 156.92,342.97 156.93,343.22 156.89,343.96 157.03,343.55 156.63,343.83 157.18,344.23 156.93,344.44 157.35,345.08 157.60,346.64 157.98,346.87 157.69,346.90 157.82,347.00 158.48,347.83 158.05,348.52 157.88,347.94 158.23,349.07 158.43,348.58 158.46,349.37 158.96,350.50 159.23,350.33 159.55,350.64 159.34,350.93 159.61,352.30 159.87,352.39 159.82,353.05 159.44,352.61 159.92,353.66 160.24,353.51 160.10,354.35 160.59,355.07 160.43,355.16 160.66,356.09 160.41,357.06 160.86,358.75 160.52,360.46 161.07,361.59 160.74,362.63 160.79,365.25 161.19,366.01 161.29,366.71 161.55,368.36 161.36,371.01 162.10,371.57 161.56,373.46 161.95,374.28 162.23,376.79 162.40,377.23 162.20,379.04 162.90,380.78 162.84,381.93 163.39,383.85 162.60,385.04 163.35,386.32 163.50,387.48 163.56,388.98 163.74,390.82 163.91,392.75 164.03,393.26 164.06,393.35 163.64,394.82 163.93,395.89 164.35,396.31 164.72,397.52 165.01,397.95 164.77,398.75 164.65,400.46 165.41,400.85 165.35,400.67 165.24,402.40 165.68,403.44 165.44,403.24 165.77,404.80 166.00,406.17 165.39,406.78 166.36,406.95 166.33,408.60 166.47,408.43 166.49,409.56 166.82,410.54 167.05,411.48 166.69,411.94 166.89,413.01 167.41,412.86 167.07,414.11 166.89,414.48 167.10,416.72 167.76,416.53 167.74,417.27 168.10,418.62 167.66,419.21 167.82,419.61 167.70,419.94 168.02,420.93 168.78,422.68 168.21,422.77 168.72,423.44 168.33,424.50 168.61,425.33 169.25,425.50 169.03,426.21 169.26,428.04 169.16,428.99 169.02,429.88 169.52,430.58 169.49,429.94 170.07,432.30 170.29,432.68 169.91,432.30 170.64,433.82 170.01,435.32 170.54,436.23 170.20,435.93 170.76,436.91 170.68,437.74 170.97,439.32 171.40,439.08 171.17,439.77 171.11,440.32 171.62,442.54 171.80,441.30 171.78,441.06 171.53,440.09 171.63,439.07 171.65,439.19 172.10,439.13 172.21,437.94 172.23,437.86 172.63,437.95 172.36,436.20 172.98,437.02 173.24,435.57 173.55,434.68 173.45,435.60 173.34,433.69 173.63,434.44 173.40,432.94 173.82,432.21 173.87,431.90 174.45,432.54 174.46,431.39 174.75,430.32 174.42,431.00 174.36,430.53 174.51,430.19 175.15,429.61 175.17,429.14 174.85,427.27 175.61,427.72 174.86,427.27 175.30,426.26 175.31,425.50 175.58,425.57 175.75,424.70 176.06,425.32 176.52,424.54 176.60,422.92 176.04,422.56 176.73,423.13 176.58,422.47 176.65,421.75 176.57,420.01 176.52,418.98 177.55,419.43 177.14,417.57 177.64,416.57 177.15,416.02 178.04,415.76 177.69,413.53 178.00,412.91 177.79,412.24 178.22,411.26 178.23,410.69 178.34,410.08 178.43,409.60 179.05,408.46 178.83,407.28 179.08,406.65 178.91,404.79 178.64,403.82 179.08,403.76 178.90,402.15 179.67,400.86 179.56,400.48 180.16,400.07 179.60,399.18 179.69,398.71 180.28,397.13 180.65,395.72 180.60,395.30 180.84,393.60 180.76,392.90 180.59,392.67 180.72,390.97 181.17,391.16 181.20,389.40 181.03,388.75 181.00,386.87 181.62,386.72 181.77,386.40 182.26,385.25 181.82,383.73 181.90,382.14 182.23,381.05 182.74,378.48 182.67,377.58 182.63,376.07 182.29,374.57 183.04,372.31 182.56,371.12 183.31,370.33 183.08,368.71 183.58,366.16 183.62,364.76 183.35,364.00 183.80,361.36 183.93,361.10 183.70,359.89 184.03,357.96 184.03,356.20 184.40,354.12 184.89,353.21 184.61,351.69 184.87,350.25 184.64,348.35 184.89,347.28 184.80,345.31 185.44,344.88 185.37,344.41 185.33,343.73 185.88,342.04 185.68,341.63 185.41,341.02 186.36,339.51 185.83,339.11 186.29,338.05 186.21,337.31 186.65,335.92 186.47,335.49 186.39,333.57 186.46,333.09 186.66,332.39 187.59,330.37 187.52,329.90 187.13,328.69 188.00,327.76 188.05,326.51 187.95,326.64 188.12,324.68 188.11,324.72 188.25,322.65 188.36,322.85 188.10,320.57 188.07,320.36 188.52,318.37 188.77,317.80 188.96,316.52 188.84,316.47 189.18,315.30 189.35,314.62 189.46,313.36 189.12,312.65 190.02,310.50 189.28,310.64 190.01,309.73 190.23,308.66 189.76,306.89 190.49,306.51 190.17,305.04 190.96,303.88 190.36,303.04 191.25,302.89 190.60,300.60 190.91,300.50 191.33,299.11 191.37,297.81 191.12,296.72 191.45,296.29 191.29,295.88 191.54,294.95 191.51,293.06 192.51,292.48 192.50,292.02 192.50,292.62 192.36,290.61 192.32,290.03 192.37,289.83 192.86,290.05 192.72,288.67 192.71,287.78 192.81,287.95 193.12,287.64 193.27,287.77 194.07,287.65 193.48,287.50 193.85,287.16 193.96,286.69 193.88,285.41 194.12,285.65 194.58,285.64 194.03,284.02 194.54,283.20 194.83,283.11 194.84,281.69 195.45,283.87 195.31,282.91 195.75,282.29 195.34,282.46 195.94,281.21 195.72,281.11 195.91,280.12 196.32,280.40 196.50,281.67 195.67,281.25 196.09,278.35 196.43,280.34 196.10,278.36 196.25,278.07 196.99,277.49 196.54,277.36 196.63,278.37 197.28,278.75 197.48,278.61 197.14,277.90 197.38,276.71 198.04,276.47 198.05,276.44 197.46,276.86 198.08,275.50 197.86,277.00 198.13,275.33 198.30,275.77 198.61,276.90 198.47,275.00 198.41,275.48 198.44,275.04 199.37,275.60 199.23,276.40 199.32,275.22 199.06,275.84 199.51,275.97 199.59,275.21 199.91,277.14 199.64,275.91 200.08,276.93 200.13,276.16 200.41,276.64 200.29,278.19 200.60,277.38 200.41,277.94 201.22,276.86 201.11,276.88 201.04,277.55 200.91,278.45 201.76,277.95 201.07,277.86 201.42,280.28 201.95,278.96 201.51,281.64 201.82,281.13 202.15,282.31 202.34,282.31 202.24,280.32 202.08,282.35 203.04,280.80 202.83,283.60 203.00,281.32 203.21,284.34 202.99,283.78 203.60,283.79 202.87,283.66 203.88,282.90 203.99,284.77 203.28,283.43 203.73,285.19 203.66,284.82 204.33,285.90 204.10,286.04 204.20,285.65 204.25,285.84 205.01,286.10 204.31,287.23 205.12,287.14 205.32,286.54 204.62,288.28 205.06,287.73 205.36,287.59 205.56,288.76 205.31,289.06 205.58,289.09 206.12,288.00 205.67,289.11 206.06,290.03 206.68,289.83 206.36,289.41 206.23,290.11 207.04,290.36 206.47,290.93 206.94,291.36 207.12,291.25 207.36,291.72 207.52,292.20 207.00,292.50 207.08,293.02 208.07,294.44 207.44,294.11 208.18,295.38 207.76,294.74 207.71,295.64 208.10,295.62 207.97,295.94 208.25,297.22 209.04,298.21 208.47,298.26 208.66,298.87 208.87,299.51 209.33,299.68 209.45,300.15 208.98,300.02 209.91,300.52 209.36,300.44 209.64,301.33 209.50,302.84 209.47,302.22 210.30,303.21 210.35,303.99 210.19,304.69 210.00,305.12 210.82,306.59 210.41,305.82 210.84,307.51 211.21,308.05 211.41,307.68 210.85,308.36 211.65,309.82 211.35,309.70 211.39,310.98 212.21,311.11 212.29,311.19 212.47,312.99 211.79,312.55 211.89,313.45 212.42,314.82 212.47,315.28 213.06,315.33 212.45,315.15 212.94,316.75 213.47,317.06 213.21,317.48 213.26,317.88 213.18,317.46 213.50,319.03 213.74,318.04 213.85,320.02 213.81,319.67 214.09,320.34 214.50,320.56 214.51,321.64 214.57,321.84 214.47,321.45 214.30,322.01 214.46,323.56 215.18,323.81 214.50,323.61 215.25,323.70 215.08,325.01 215.01,325.29 215.76,325.85 215.66,326.50 215.23,326.63 215.76,326.59 215.55,326.74 216.28,328.61 216.41,328.43 216.48,329.36 216.37,329.10 217.05,330.42 217.04,329.38 216.70,330.42 216.75,330.77 217.16,331.11 216.79,331.10 217.81,331.86 217.27,331.88 217.22,332.07 217.58,332.03 217.65,332.14 217.92,331.74 217.78,332.24 217.86,332.62 218.84,332.35 218.88,332.63 218.23,333.44 218.75,333.68 218.91,333.30 218.79,333.44 219.46,334.79 219.15,334.15 219.18,335.60 219.24,334.49 219.46,335.91 220.18,335.80 219.57,335.95 219.82,335.95 220.24,336.16 220.44,337.18 220.69,336.66 220.19,336.88 220.40,337.31 220.64,336.74 220.41,337.35 221.46,337.32 221.00,337.74 221.45,337.83 221.29,338.08 221.28,338.39 221.56,338.74 221.61,338.96 221.58,339.04 222.00,338.99 221.76,338.43 222.53,339.34 222.73,340.10 222.98,340.29 222.29,339.51 223.06,339.62 222.71,339.90 223.42,340.02 222.88,340.34 223.47,341.16 223.47,340.47 223.57,341.46 223.94,341.64 224.13,342.33 223.44,341.74 223.55,342.17 224.13,342.63 224.61,343.00 224.59,343.17 224.75,342.59 224.37,343.17 224.75,343.64 224.60,343.11 225.00,343.73 225.49,343.64 225.36,343.27 225.14,343.21 225.95,343.95 225.18,342.41 225.35,343.38 225.74,343.36 226.30,342.96 226.57,343.77 226.16,342.91 226.67,343.96 226.21,343.55 226.72,343.49 226.93,345.01 227.23,344.76 227.03,343.72 227.37,344.86 226.96,343.74 227.19,344.72 227.28,343.45 227.80,344.72 227.86,345.53 228.28,344.25 228.11,343.26 227.98,345.94 227.89,343.40 228.63,343.06 228.85,344.36 228.18,345.83 228.54,344.16 228.43,344.09 228.86,344.13 229.18,344.90 228.88,346.88 229.80,343.94 229.56,344.58 230.05,344.74 229.85,347.19 229.77,344.12 230.09,346.56 230.05,345.02 230.18,344.26 230.29,347.40 230.19,346.01 230.57,347.03 231.05,345.77 230.48,345.46 231.26,346.88 231.00,344.56 231.28,347.94 231.03,346.06 231.61,345.62 231.81,348.16 231.68,348.41 231.74,344.85 231.58,346.06 232.56,344.95 231.91,348.23 232.88,345.00 232.33,345.36 232.36,345.61 232.74,344.85 232.47,347.84 232.66,346.71 233.56,347.90 233.31,348.25 233.62,345.32 233.80,345.03 234.05,345.95 234.02,345.88 233.64,346.72 233.96,346.69 234.20,345.34 234.48,346.84 234.52,346.06 234.55,345.48 234.94,345.64 234.57,345.43 234.70,344.94 234.76,346.81 235.55,345.12 235.00,345.87 235.75,346.22 235.93,347.60 235.49,346.79 235.34,346.61 236.25,347.33 236.36,348.27 236.46,347.19 236.34,345.77 236.84,345.26 236.21,346.67 236.78,348.56 237.13,345.49 237.03,347.15 236.85,348.17 237.23,345.79 237.48,345.50 237.11,346.61 237.20,345.22 238.07,347.04 238.13,347.94 238.21,347.04 237.90,346.11 237.92,348.42 238.35,347.32 238.48,345.05 238.92,348.04 239.06,346.54 239.19,345.03 239.22,347.61 239.12,346.68 238.88,348.20 239.54,345.63 239.14,348.40 239.54,347.08 240.00,346.13 240.07,346.01 239.56,346.51 239.68,348.70 239.69,345.24 239.81,346.21 240.85,345.41 240.75,345.78 240.18,345.59 240.41,344.73 240.87,348.48 240.58,345.63 240.98,347.16 241.22,345.28 241.25,347.36 241.23,346.72 241.21,346.67 242.22,348.08 241.89,346.65 242.29,345.90 242.37,346.58 242.19,346.00 242.09,347.07 242.28,345.51 243.03,344.93 243.03,345.32 243.34,344.23 243.28,345.88 243.27,344.40 243.08,347.19 243.30,344.29 243.80,346.97 243.49,344.13 243.58,347.52 244.28,344.19 243.99,347.11 244.42,346.61 243.98,347.16 244.84,346.74 244.56,346.97 245.15,345.39 245.10,347.80 245.31,345.85 245.05,347.34 245.28,344.38 245.13,344.40 245.42,346.15 245.86,346.47 245.48,347.70 245.62,347.74 246.17,345.33 246.05,347.86 246.49,347.16 246.41,345.25 245.94,347.76 246.92,344.52 246.59,346.30 246.74,347.22 246.77,344.62 247.19,347.11 246.68,346.06 246.87,348.07 247.71,345.21 247.73,347.85 247.92,345.63 247.87,346.77 247.97,347.24 247.80,346.25 247.78,347.20 248.43,344.46 248.80,344.26 248.51,344.83 248.65,345.09 248.49,346.51 249.39,346.20 248.77,344.61 248.78,344.78 249.76,344.04 248.96,347.83 249.63,347.30 250.05,344.78 249.94,344.41 250.12,346.62 249.70,344.87 249.97,346.44 250.54,346.33 250.65,344.04 250.45,347.82 250.50,346.21 250.52,347.43 250.93,344.32 251.12,345.70 251.60,344.75 251.19,346.09 250.96,346.95 251.88,347.67 251.63,345.03 252.09,344.19 252.02,347.95 252.02,348.00 252.52,347.59 252.26,347.85 251.96,346.21 252.14,348.02 252.78,346.58 252.65,344.99 252.44,345.53 252.93,345.97 253.38,347.28 253.67,348.24 253.54,345.51 253.84,347.29 253.51,345.12 253.62,347.05 253.84,348.29 253.62,347.49 254.65,348.28 254.14,348.58 254.91,348.08 254.13,345.20 255.17,347.45 255.14,344.93 254.90,347.47 255.06,345.41 254.88,346.84 255.54,348.46 255.55,345.52 255.99,347.25 256.07,348.78 255.73,345.07 256.18,345.46 256.38,345.17 256.32,347.29 256.67,348.59 256.56,347.72 256.57,346.97 256.38,344.88 256.72,347.49 257.28,346.52 257.28,346.24 257.51,347.89 257.41,345.59 257.52,346.50 257.25,344.95 257.97,345.57 257.69,347.70 257.87,346.97 257.82,346.68 258.64,345.89 257.93,348.04 258.80,344.96 258.70,346.25 258.79,346.87 258.46,348.08 258.69,347.89 258.85,344.75 259.49,346.50 259.78,346.77 259.31,345.20 259.65,346.75 259.69,347.24 260.09,344.87 259.51,347.65 259.57,347.74 260.31,347.23 259.90,345.70 260.56,345.55 260.87,346.67 260.81,345.24 260.35,345.78 260.55,345.33 260.60,345.23 261.05,348.51 261.23,347.65 261.19,346.67 261.27,348.42 261.97,348.49 261.41,348.11 262.09,348.60 262.13,346.98 262.64,346.44 262.76,348.58 262.47,345.22 262.25,347.45 262.94,348.20 262.61,345.11 263.32,347.33 262.84,348.59 263.27,347.92 263.05,346.01 262.97,344.96 263.18,346.23 263.51,345.30 263.52,345.00 264.41,345.45 264.18,346.09 264.65,346.53 264.74,347.64 264.68,347.79 264.40,347.78 264.52,346.68 264.58,347.92 264.68,348.19 265.31,345.52 264.90,346.42 265.69,344.62 265.45,344.91 265.55,347.41 265.35,345.95 265.92,347.77 265.83,346.68 265.95,346.85 266.05,344.71 266.68,347.03 266.60,346.04 266.72,347.72 266.44,347.89 267.07,347.48 267.03,346.28 266.58,344.68 267.58,344.15 267.42,345.63 267.82,345.82 267.44,347.02 267.41,346.65 267.48,347.89 267.98,347.79 268.55,344.76 268.37,344.99 267.95,345.26 268.83,347.41 268.74,347.84 268.35,346.87 268.65,348.32 268.47,346.91 269.09,345.64 269.11,346.30 268.84,345.95 269.30,347.03 269.44,344.91 269.94,347.16 269.44,346.15 270.05,347.01 270.54,346.45 270.22,345.99 269.95,344.65 270.13,345.31 270.18,345.23 270.78,348.20 270.88,346.48 271.31,345.65 271.00,347.45 270.70,344.58 271.55,344.62 271.40,344.59 271.44,346.53 272.14,345.63 272.08,348.24 272.40,346.55 271.80,347.19 271.84,344.93 272.21,344.76 272.16,346.76 272.41,344.64 273.08,346.12 273.15,347.84 273.27,345.30 273.16,345.37 272.93,346.38 273.09,346.39 273.18,347.41 273.26,347.34 273.64,344.25 273.96,347.74 273.96,345.22 274.24,345.54 273.87,345.37 273.86,348.22 274.27,344.78 274.63,345.57 274.36,346.24 275.04,347.59 274.62,345.02 275.09,344.76 275.42,346.88 275.69,345.30 275.43,347.98 275.25,344.87 275.27,347.30 276.04,346.94 275.60,344.54 276.02,345.45 276.50,347.91 275.84,346.08 276.15,346.71 277.01,345.72 276.60,345.73 277.26,347.29 277.04,344.86 276.71,347.27 277.04,345.04 277.53,345.99 277.62,348.52 278.08,346.36 277.64,348.38 277.85,346.52 278.10,345.05 278.06,347.47 278.61,346.95 278.52,347.09 278.69,348.12 279.04,346.40 278.29,348.33 278.50,348.52 279.10,348.02 278.93,347.60 278.88,345.60 278.95,344.91 279.78,345.08 279.94,346.52 279.65,348.29 280.23,345.02 279.97,344.74 279.71,347.64 280.36,345.31 280.70,344.60 280.51,347.18 280.22,347.28 280.75,347.54 281.15,345.67 280.50,345.95 280.62,346.90 280.93,346.35 281.25,345.73 281.60,346.88 281.31,345.49 281.27,347.19 282.06,346.42 281.49,346.61 282.23,344.43 282.34,347.26 282.54,348.07 282.92,345.85 282.20,345.11 282.24,345.74 282.87,346.47 283.07,344.98 283.29,346.13 283.51,347.44 282.94,347.03 283.63,346.62 283.46,345.14 283.48,346.46 283.62,344.74 284.24,346.09 284.43,348.40 284.70,348.05 284.46,346.55 284.68,344.64 284.43,347.89 284.31,347.00 284.77,348.33 284.68,346.43 285.54,348.09 285.24,346.27 285.54,345.77 285.81,347.11 285.59,344.70 285.24,348.51 285.72,347.13 285.76,345.09 285.80,348.47 286.58,346.51 285.86,345.04 286.59,347.01 286.93,344.73 286.81,347.64 287.26,345.53 287.46,345.42 287.50,346.73 287.32,346.69 287.28,348.26 287.93,345.73 287.22,348.44 287.98,347.89 287.57,345.28 288.30,344.66 288.43,344.74 288.70,347.59 288.65,344.85 288.08,344.73 288.23,347.78 289.20,347.34 288.76,346.32 289.10,347.98 289.28,348.34 288.76,346.20 289.60,347.99 289.66,344.99 289.53,345.53 289.30,345.10 290.06,346.35 290.32,347.35 290.34,348.17 290.49,345.55 289.96,347.51 290.88,344.66 290.97,345.31 290.64,348.44 290.42,346.79 291.32,345.01 290.85,347.22 290.80,345.52 291.12,347.84 291.79,345.02 291.26,346.08 291.59,347.11 291.80,346.96 291.74,347.04 292.55,346.90 292.14,345.75 292.30,346.76 292.60,346.29 292.25,348.66 293.20,346.71 293.04,344.93 292.98,346.39 292.85,347.82 293.36,345.16 293.30,348.84 293.49,348.61 293.76,347.57 293.87,347.90 294.06,347.55 294.36,345.79 294.10,347.19 294.07,347.25 294.76,345.66 294.33,345.51 294.60,347.00 294.50,344.97 294.49,347.63 294.58,346.46 295.58,344.80 295.19,346.22 295.01,344.72 295.91,346.46 295.50,348.12 295.45,346.39 295.49,347.65 295.67,345.51 296.47,347.22 296.06,346.00 295.95,347.89 296.29,347.26 296.36,347.82 297.08,347.66 296.56,345.42 296.55,346.69 296.91,346.46 296.83,346.82 297.12,346.91 297.70,346.45 297.43,344.82 297.92,347.02 297.38,347.73 297.83,345.73 298.10,347.72 297.89,345.51 298.19,345.98 298.61,344.31 298.51,347.79 299.11,346.05 299.31,348.08 298.66,347.26 298.94,345.73 299.52,347.50 299.01,347.58 299.97,345.22 299.70,345.68 299.95,346.04 300.16,344.35 300.18,347.97 300.30,345.74 300.50,345.18 300.45,347.52 300.67,347.33 301.01,347.39 301.14,347.34 300.44,347.14 301.39,345.08 301.47,344.62 300.87,347.12 301.57,347.78 301.33,345.08 301.73,346.91 302.09,346.50 302.21,345.42 302.33,347.99 301.85,345.85 302.13,346.09 301.95,346.73 302.07,345.21 302.42,344.51 303.02,346.17 303.25,345.48 303.44,345.96 302.93,345.29 303.52,344.59 303.81,346.30 303.75,345.92 304.04,344.58 303.42,344.22 303.43,347.88 304.48,347.76 304.03,344.19 304.71,347.12 304.77,346.12 304.73,345.67 304.77,344.27 304.96,344.86 304.39,345.17 304.72,345.86 304.62,346.12 304.96,345.85 305.47,345.60 305.47,347.15 305.40,345.94 305.98,346.70 305.49,345.26 305.75,347.16 306.17,347.41 306.08,344.79 306.70,348.19 306.98,347.11 306.90,348.51 306.74,348.07 306.65,348.19 307.47,348.42 307.57,347.96 307.42,347.44 307.59,345.19 307.89,345.12 307.99,348.01 307.52,347.77 307.85,347.24 308.09,348.36 308.33,346.51 308.38,347.99 308.53,346.37 308.10,347.18 308.26,345.98 308.35,346.95 308.96,347.95 309.19,345.44 308.65,348.03 309.22,347.82 309.78,348.47 309.79,347.34 309.85,345.60 309.99,347.64 309.60,346.64 309.66,346.34 310.30,347.45 310.53,347.28 310.47,345.93 310.62,347.96 310.40,345.46 310.56,345.99 310.75,347.47 311.44,345.56 311.53,347.04 310.86,346.44 311.78,345.00 311.07,344.82 311.53,347.10 311.58,344.87 311.53,347.07 311.74,346.22 312.51,346.75 312.50,347.09 311.88,348.02 312.81,345.16 312.54,346.74 312.50,348.24 313.17,346.72 312.56,347.66 313.48,345.88 313.14,347.31 313.40,348.47 313.27,348.42 313.50,347.37 313.90,344.94 313.70,347.00 313.91,346.23 314.59,347.51 314.69,347.90 313.90,346.22 314.84,345.63 314.88,345.42 315.03,348.98 314.58,346.98 314.69,348.38 315.10,345.04 315.74,348.70 314.91,347.06 315.44,346.85 315.50,347.59 316.10,346.59 315.62,348.13 315.54,347.10 315.64,346.90 316.14,347.39 316.38,348.56 316.76,345.47 316.68,346.33 316.65,347.64 316.42,346.81 317.00,346.50" fill="none" stroke="#008000" stroke-width="2.1" stroke-linejoin="round" /><line x1="83.8" y1="354" x2="83.8" y2="366.5" stroke="#008000" stroke-width="1.2"/><line x1="146.8" y1="374" x2="146.8" y2="386.4" stroke="#008000" stroke-width="1.2"/><polyline points="62.33,358.91 62.99,357.95 62.86,356.22 62.41,359.28 63.37,359.26 62.80,359.46 63.85,355.70 63.27,359.25 62.89,355.69 63.21,358.38 63.93,359.96 64.19,356.19 64.87,356.98 64.15,359.71 64.65,358.37 65.33,359.17 64.22,355.27 64.23,358.12 63.93,358.04 64.93,359.48 65.33,355.65 64.52,356.61 64.53,357.45 66.11,356.07 64.53,358.49 64.66,358.88 66.56,356.63 65.49,358.06 65.78,356.83 67.12,355.56 66.10,355.18 66.17,358.63 65.99,359.79 67.41,359.77 67.53,358.22 67.54,357.09 67.03,358.83 67.54,357.20 66.42,356.88 66.91,358.56 68.07,357.26 66.67,355.68 67.93,355.44 67.39,356.63 68.86,357.08 67.95,356.10 68.47,359.22 68.32,356.17 67.78,357.23 68.24,356.73 68.40,358.88 69.82,358.16 68.75,359.49 68.77,357.91 69.23,356.90 70.25,358.89 68.51,356.39 68.74,357.20 70.30,355.12 70.31,355.55 70.88,356.82 69.25,359.30 71.14,356.02 70.22,358.14 71.13,359.01 70.56,357.58 70.47,355.64 71.13,355.89 70.29,358.22 70.32,358.35 71.54,355.76 72.17,357.57 71.90,358.43 72.29,355.94 71.99,355.75 72.69,359.91 71.90,359.84 72.71,358.86 73.14,356.09 72.26,359.97 72.39,359.34 73.05,356.84 73.35,355.79 72.45,360.38 72.17,360.20 72.68,359.80 73.11,360.35 72.44,360.14 74.13,355.96 73.70,358.73 73.10,355.70 72.98,357.39 74.53,360.50 74.53,360.28 73.41,357.25 73.60,359.18 74.43,358.25 73.78,357.98 74.79,355.86 74.93,355.63 74.56,356.22 75.26,356.20 74.70,357.37 75.50,356.52 75.34,359.94 75.26,356.18 75.89,356.54 76.01,359.25 75.65,356.23 76.01,357.17 77.25,357.22 76.70,357.96 76.79,358.75 76.37,359.17 77.70,358.44 77.13,355.90 76.12,356.97 77.64,355.21 77.67,355.55 77.11,355.44 77.59,355.07 77.08,358.81 78.59,357.67 77.82,356.28 78.73,358.41 78.45,355.60 77.47,355.33 77.48,359.62 79.00,359.27 79.08,358.03 78.32,357.88 78.28,356.82 79.56,358.88 78.55,358.50 78.76,357.51 79.86,358.48 79.92,359.49 80.18,357.93 79.94,354.96 79.61,354.65 80.90,355.07 80.97,354.62 80.12,359.22 79.48,358.64 79.52,355.18 79.63,354.83 79.93,358.64 80.42,357.47 80.84,355.19 82.08,355.45 81.44,356.48 81.63,357.39 81.04,357.00 82.40,355.30 81.65,355.61 82.03,358.71 82.62,359.44 81.36,357.30 82.20,357.73 82.44,359.10 83.12,358.30 83.31,357.22 82.06,359.40 83.61,359.54 82.68,359.25 82.39,356.28 83.96,356.91 82.39,356.91 82.67,356.66 84.16,358.29 82.93,359.85 83.13,357.16 84.67,359.85 85.03,357.94 84.80,357.98 84.10,357.86 85.18,360.43 85.36,358.45 85.35,358.77 84.14,355.89 85.21,356.14 84.44,359.22 84.48,358.18 85.93,359.12 86.46,356.14 84.87,359.05 85.07,357.50 86.71,359.41 85.37,356.66 86.84,358.95 86.17,359.51 86.60,356.38 87.11,358.11 87.10,357.13 87.02,357.56 86.45,355.70 87.80,349.58 88.15,348.15 86.42,348.71 87.88,346.22 87.81,345.19 88.37,342.20 88.49,343.53 88.28,342.39 87.88,343.97 88.26,341.70 87.53,345.77 87.47,343.78 89.51,346.49 88.66,344.88 88.07,341.81 89.54,344.95 89.80,346.33 88.71,343.54 89.02,344.02 90.22,344.00 90.54,343.50 88.79,344.79 90.15,344.89 88.96,344.22 90.07,345.46 89.54,343.71 89.35,341.16 90.06,341.99 89.69,341.67 91.10,344.50 90.26,345.23 91.14,344.43 91.83,341.20 90.57,342.50 92.17,341.59 91.22,341.74 91.29,343.34 90.88,343.85 91.99,342.69 92.17,343.61 92.35,341.83 92.16,345.32 93.00,343.84 91.99,342.07 92.19,345.80 92.45,343.28 92.93,346.24 92.29,345.94 93.40,343.09 93.55,343.48 92.51,344.58 93.36,342.86 92.96,345.09 92.74,343.98 93.48,344.19 94.18,344.98 94.55,347.39 93.81,347.05 94.83,346.09 93.98,348.17 93.73,344.25 95.50,346.81 95.46,345.33 95.74,347.82 94.36,349.23 94.54,348.95 95.20,346.05 94.67,347.91 95.01,347.07 94.98,346.55 95.35,346.17 95.88,347.76 96.39,349.69 95.94,348.85 95.81,349.63 95.78,347.63 95.96,350.24 96.51,348.15 97.23,350.04 97.26,350.35 98.02,348.45 97.13,351.43 97.60,349.81 97.86,348.50 97.43,352.81 97.34,350.82 97.71,353.19 98.51,350.38 99.03,350.59 98.52,350.95 98.65,350.51 97.81,351.59 98.05,354.04 99.21,352.43 98.64,351.98 100.11,352.04 100.00,349.83 99.32,353.11 99.77,353.39 100.57,354.49 99.44,353.00 100.69,352.36 99.13,353.07 99.35,353.72 100.55,352.67 100.45,354.07 100.72,355.19 101.25,355.94 101.32,352.79 101.77,353.36 100.84,354.63 101.83,352.78 100.29,353.68 100.40,355.72 100.57,352.61 101.76,355.24 102.64,354.67 101.30,354.73 101.24,356.93 101.59,353.29 102.11,357.00 102.14,354.72 103.04,354.69 102.21,355.62 103.42,353.88 102.92,355.17 103.99,353.78 104.00,354.89 103.57,355.33 104.25,352.94 102.70,355.80 104.03,353.02 103.19,354.97 103.13,356.00 104.03,354.48 104.53,353.60 104.85,353.90 103.47,354.91 104.66,353.38 104.90,353.22 104.04,352.30 104.39,353.77 104.91,352.75 105.52,353.89 105.34,353.83 106.21,353.26 106.40,354.48 106.07,354.70 106.26,352.35 105.58,352.54 105.17,352.86 105.62,352.93 106.22,352.18 106.78,353.92 107.05,352.34 106.45,352.60 106.43,352.56 107.92,351.56 107.42,353.16 107.24,353.17 106.38,353.21 107.56,350.94 106.64,352.47 107.35,351.39 108.54,354.47 107.77,350.53 107.39,351.79 109.22,351.47 107.91,354.18 107.75,353.55 107.79,352.85 108.94,352.85 109.03,354.46 108.48,354.05 108.54,352.65 110.21,349.90 109.08,349.61 108.90,350.98 110.14,353.74 109.88,351.44 109.00,353.73 110.72,352.92 110.19,352.74 109.60,351.01 110.11,350.71 111.08,351.31 109.90,350.74 110.68,353.99 111.53,350.62 110.78,350.30 111.19,352.18 112.14,351.40 111.07,353.16 111.30,353.50 111.86,353.16 112.54,351.64 112.79,350.93 112.07,352.63 112.20,351.09 112.53,352.26 111.63,354.08 113.35,351.06 113.04,351.77 113.38,354.44 113.22,350.87 112.14,355.10 113.97,350.97 113.74,354.45 113.67,354.87 112.90,352.08 114.03,351.20 114.82,354.50 113.25,352.45 114.97,353.17 114.98,352.51 114.88,354.57 115.08,352.01 115.08,353.49 114.32,351.85 114.40,354.51 114.20,354.47 115.38,353.21 116.20,353.67 114.98,353.95 115.77,354.23 116.58,353.94 115.92,353.53 115.42,356.69 116.03,353.92 116.83,356.77 116.69,356.90 117.23,353.63 115.55,354.11 115.68,355.72 116.16,353.90 116.45,357.93 117.92,357.49 116.37,355.06 117.57,355.17 117.06,357.18 116.69,357.65 117.40,354.86 118.49,357.42 118.75,359.03 118.29,359.63 117.30,358.11 119.15,359.13 118.39,360.48 119.13,360.44 119.15,362.30 119.76,361.28 117.98,363.23 118.69,363.73 118.83,360.59 118.38,361.59 119.25,364.67 120.07,361.98 119.45,362.26 119.52,362.99 119.39,364.21 120.05,364.47 119.92,362.91 119.87,364.79 120.03,362.73 119.68,361.48 121.39,363.68 120.77,362.13 120.12,364.11 121.61,361.81 120.76,361.62 120.94,362.73 120.62,361.08 122.27,364.51 121.00,361.27 121.97,362.39 121.79,364.10 122.84,360.53 121.76,360.51 123.14,360.73 122.29,363.93 123.06,362.37 123.40,361.49 123.37,360.77 122.31,359.98 122.51,359.84 122.77,363.43 122.44,361.91 124.03,362.81 124.64,361.77 124.31,358.69 124.80,358.99 123.67,358.34 124.11,360.80 123.43,361.88 123.45,362.21 125.12,362.42 123.78,357.75 123.98,358.12 124.35,358.23 125.03,359.87 126.15,358.40 125.32,359.99 125.66,361.29 126.21,361.63 126.43,359.17 124.85,360.60 126.30,359.27 126.46,361.22 126.64,361.71 125.83,362.50 127.22,362.61 126.02,362.26 127.41,361.34 126.25,362.69 127.04,358.78 127.12,359.11 126.45,359.43 127.57,363.35 127.53,359.41 127.48,360.69 128.50,363.14 126.86,359.63 127.24,364.24 128.35,363.94 128.48,362.84 129.03,362.11 128.03,365.02 128.44,361.58 128.82,362.39 128.49,365.38 128.52,365.50 129.60,362.86 130.04,364.62 128.95,364.53 128.98,365.73 129.27,361.94 128.76,367.03 130.26,366.71 130.22,365.93 130.08,363.74 130.92,368.17 130.27,365.37 130.23,365.61 130.05,365.56 129.81,368.76 131.10,364.82 131.38,368.87 131.13,365.24 132.01,370.12 132.36,366.21 130.83,370.70 131.05,370.16 131.59,365.85 132.35,371.37 132.73,367.09 132.74,368.01 132.60,369.63 132.70,369.60 133.39,370.44 133.36,370.07 131.98,370.41 133.67,371.23 132.90,370.36 132.70,371.78 133.31,369.60 133.36,369.11 133.50,371.38 133.81,371.64 134.58,373.86 134.30,371.97 133.48,371.27 133.77,372.70 134.64,371.73 133.79,373.30 135.56,373.61 135.14,371.63 135.25,372.24 135.91,375.86 134.64,375.48 134.44,375.54 135.67,375.40 135.23,376.39 135.54,375.97 136.56,371.32 136.12,371.83 136.30,374.94 136.98,374.80 135.32,375.02 137.23,374.41 136.34,375.81 137.09,374.36 135.80,375.81 136.62,373.04 137.26,371.63 136.64,374.97 138.16,374.91 136.72,374.25 137.82,374.26 137.89,372.78 136.73,375.23 136.89,374.63 137.43,375.02 137.93,372.73 137.30,375.54 138.13,376.28 138.58,375.19 137.80,374.87 138.28,372.73 139.09,377.52 139.16,373.00 138.56,375.20 140.06,376.10 139.42,377.57 140.28,377.14 139.59,374.37 140.27,373.92 140.27,377.42 140.52,374.78 139.46,375.09 139.72,375.33 139.39,377.83 140.32,377.36 141.28,373.67 139.99,375.26 140.80,376.58 140.65,375.61 141.88,374.34 140.37,374.05 141.74,375.69 142.36,375.19 141.74,377.46 142.62,377.54 141.36,374.47 141.66,377.82 142.63,377.83 142.56,376.55 143.04,376.78 141.71,376.45 141.88,374.02 142.04,377.08 142.46,373.86 143.63,374.99 142.11,377.18 143.46,375.52 144.27,375.23 142.63,377.49 144.48,375.28 143.02,378.18 144.32,374.99 143.40,375.84 144.46,376.98 144.14,374.30 143.98,376.49 145.28,375.33 143.74,374.59 143.86,376.19 144.64,375.03 145.78,376.49 144.54,375.37 145.11,376.77 144.54,374.92 145.85,377.25 144.98,375.43 145.50,375.06 146.32,378.14 146.50,377.92 145.15,376.46 145.35,375.18 146.20,378.38 146.12,377.92 146.86,375.36 147.49,375.46 146.62,376.78 147.36,376.15 146.71,375.68 147.45,377.32 147.94,374.05 146.96,374.95 148.19,373.81 148.04,373.26 147.65,372.75 147.43,373.92 147.97,371.40 147.37,373.28 148.02,372.17 147.64,372.73 147.70,370.08 149.04,372.30 149.17,371.75 148.59,372.10 149.43,368.17 148.59,368.64 149.73,367.98 148.83,370.69 150.48,368.42 150.75,369.78 150.17,367.54 149.81,366.29 149.59,367.87 149.31,367.16 149.62,369.05 149.90,367.02 150.34,367.05 151.13,368.20 151.02,368.20 151.62,364.20 151.74,364.87 150.72,366.53 151.77,367.51 151.03,365.18 150.77,363.60 151.26,362.56 152.67,363.20 152.95,363.34 151.44,363.92 153.24,361.66 152.51,361.75 152.17,363.95 152.71,361.32 152.66,362.59 152.16,360.82 152.49,361.79 153.24,362.99 153.27,361.21 154.04,362.49 153.51,363.45 153.28,360.72 153.35,360.83 154.14,363.03 154.45,360.30 153.72,361.44 154.78,360.91 154.53,358.84 153.62,360.38 154.39,360.43 155.35,358.26 153.92,357.26 154.53,358.75 154.71,360.63 155.07,359.90 156.00,359.68 156.01,359.32 156.50,359.78 156.61,358.04 155.12,355.61 156.14,358.64 155.21,357.42 156.87,354.75 157.15,354.37 157.08,358.45 157.06,353.71 155.91,358.35 156.11,355.60 156.39,358.70 157.76,358.49 158.24,358.37 156.63,358.81 157.24,358.62 157.37,360.01 157.85,355.67 158.23,356.71 157.93,357.06 159.17,358.04 158.93,357.34 158.11,359.32 158.68,355.68 158.31,357.95 158.65,358.30 158.94,357.97 159.42,361.70 159.67,361.73 158.83,359.42 159.78,361.97 158.79,358.09 159.26,365.66 160.56,359.70 160.30,367.50 159.69,367.14 160.32,365.05 159.94,364.15 160.21,368.66 161.50,369.71 161.64,372.89 160.94,369.57 160.27,370.64 160.81,369.32 160.85,374.89 160.58,373.57 162.24,373.02 162.51,376.96 161.13,375.87 161.31,376.80 161.62,375.84 162.56,378.74 162.91,376.93 161.67,380.62 162.53,377.19 163.61,378.44 163.05,379.11 163.10,379.26 162.49,380.98 162.63,382.38 163.99,383.98 163.13,382.76 164.28,384.35 163.08,383.31 164.57,384.29 164.50,385.51 164.79,388.33 163.85,387.32 164.21,387.45 163.96,390.09 165.22,390.82 164.16,388.51 164.17,390.68 164.65,389.07 164.69,390.81 165.58,391.76 165.65,393.18 164.58,393.19 165.56,393.27 164.77,392.52 165.16,394.92 165.53,393.19 166.31,393.84 165.73,395.14 167.01,395.65 167.41,396.21 166.14,397.39 166.19,397.28 166.09,396.82 166.43,398.95 166.29,399.91 166.84,399.79 167.58,398.87 167.17,400.84 166.93,400.36 167.59,401.71 168.40,403.00 168.67,402.70 168.10,404.03 167.49,403.46 168.03,403.84 169.45,403.11 168.00,403.62 169.49,404.74 169.79,405.24 168.81,406.68 169.13,406.50 169.67,407.94 169.31,406.86 168.67,407.14 169.01,409.18 170.64,408.69 169.53,408.66 170.15,409.78 169.75,411.34 170.94,410.59 170.57,411.87 169.97,413.31 170.79,412.40 169.79,412.52 170.56,412.94 171.86,414.40 170.89,414.12 172.00,414.92 170.56,415.95 171.47,416.45 171.09,415.23 171.33,415.49 172.20,416.65 172.22,416.76 172.99,417.45 171.94,417.15 172.62,416.65 172.34,414.98 171.67,416.26 171.96,414.57 172.01,415.99 173.89,414.26 173.31,415.55 172.71,414.14 172.49,414.09 173.85,414.49 174.58,413.42 174.27,413.04 174.15,411.86 174.70,412.51 173.66,413.01 174.66,410.33 173.43,411.79 174.92,410.31 174.14,411.60 174.32,409.49 175.15,409.20 174.91,410.33 174.95,408.69 174.55,408.55 175.06,407.70 175.10,408.92 174.88,409.15 175.21,406.33 175.19,407.97 176.79,406.21 176.59,405.90 177.09,405.82 177.12,405.77 175.87,405.84 176.64,404.64 177.83,404.40 176.14,402.30 176.56,402.91 177.06,401.45 178.00,400.47 178.44,401.49 178.11,400.74 178.07,398.24 177.69,398.16 177.77,398.50 177.61,397.49 177.45,395.17 178.11,394.97 178.69,394.15 179.00,394.26 178.47,393.00 179.76,392.70 178.35,392.00 179.34,392.25 179.98,389.93 179.67,389.45 179.45,388.39 179.31,388.02 178.81,387.51 180.55,387.63 179.79,387.96 180.49,384.87 181.11,386.04 180.59,385.57 179.96,383.16 179.83,383.74 180.02,381.75 180.95,383.06 181.38,380.74 180.97,380.36 181.47,380.45 182.28,379.36 181.06,377.72 181.23,377.43 182.11,376.59 182.73,375.97 181.32,374.96 182.26,376.16 182.51,375.13 181.71,374.65 182.64,371.62 182.69,371.85 183.10,372.29 182.22,369.56 182.87,370.15 182.60,369.22 183.17,369.58 183.24,367.38 184.44,365.67 184.22,365.80 183.79,365.28 183.66,365.07 183.33,362.68 184.81,361.98 184.65,361.32 184.21,359.31 185.57,359.22 184.28,356.76 184.76,355.18 185.16,355.31 184.35,354.04 186.13,353.49 185.97,354.01 186.37,352.94 185.51,352.12 186.59,350.64 184.92,351.07 185.77,349.06 185.22,349.62 186.92,347.14 186.76,346.70 186.00,346.67 185.94,345.64 187.63,344.18 187.37,345.34 187.74,344.17 188.12,342.89 187.77,342.55 187.95,342.38 186.62,339.42 188.06,338.91 186.99,339.64 188.80,337.59 187.47,338.29 187.35,338.09 188.36,336.91 187.86,335.07 188.96,334.18 187.65,334.26 189.18,332.84 188.75,331.45 188.69,332.61 189.98,331.68 189.41,330.87 189.30,331.47 188.56,329.13 189.52,329.46 190.45,329.10 188.96,327.95 189.09,327.55 189.36,328.09 189.69,326.07 190.96,327.52 190.27,327.87 191.41,326.51 191.42,326.36 191.35,326.32 191.75,325.51 191.27,323.93 190.34,324.51 191.73,322.40 190.72,322.36 191.98,322.94 192.71,321.49 191.27,322.50 192.92,322.24 192.59,320.50 191.47,320.34 193.11,320.84 191.95,321.86 191.82,322.13 193.21,320.37 192.86,322.12 193.09,319.42 194.11,321.91 192.61,320.66 192.58,320.01 193.29,319.32 193.79,318.67 194.02,320.36 194.63,320.96 193.69,319.75 194.58,320.99 194.54,319.13 194.11,318.15 194.72,317.46 194.05,319.83 193.82,319.25 195.25,320.23 195.51,320.16 195.32,319.74 194.54,319.65 195.45,319.45 195.65,317.78 195.44,317.82 195.54,316.67 195.63,316.17 196.14,318.44 196.26,315.99 195.77,315.91 196.57,317.02 196.61,317.24 196.52,316.50 196.73,316.96 197.03,315.13 197.09,317.03 198.06,313.94 196.78,313.74 197.45,315.09 198.43,316.41 198.66,314.22 198.39,314.09 198.62,312.57 197.92,315.20 198.43,314.28 199.12,314.99 197.85,312.02 198.83,314.37 198.75,311.52 198.66,311.46 199.66,313.00 199.98,314.05 198.77,311.42 200.17,310.10 200.09,312.47 199.83,310.49 199.86,311.67 199.79,310.18 200.35,310.13 200.64,311.12 200.55,312.05 201.28,310.11 201.38,311.05 201.25,312.06 201.54,313.16 201.34,313.56 201.59,311.60 200.07,313.07 200.47,312.18 201.37,313.13 202.08,314.20 201.30,313.41 201.60,312.89 201.59,311.94 202.16,312.34 202.95,314.72 202.10,315.00 202.53,312.69 202.31,315.74 202.69,313.55 203.34,314.03 203.41,314.52 203.32,313.73 203.87,313.30 203.01,313.61 203.89,316.24 203.72,313.97 202.64,316.07 203.49,315.49 203.76,316.55 204.08,314.76 204.68,314.55 205.06,313.63 203.69,314.43 203.74,316.13 204.98,313.11 205.06,315.36 204.77,314.45 205.76,314.41 205.90,314.81 205.34,315.79 204.60,314.11 204.71,314.58 206.27,312.90 206.64,315.29 206.33,313.12 206.06,315.10 206.31,314.04 206.35,313.10 207.15,315.42 206.96,315.16 205.72,315.13 206.68,315.25 207.54,313.53 207.31,316.44 206.45,315.66 206.34,316.16 206.41,315.31 207.61,316.61 207.51,317.36 207.18,315.99 208.51,316.64 208.37,316.87 208.88,318.68 207.50,319.60 209.24,318.17 208.11,321.26 207.83,322.19 209.35,320.33 208.53,322.80 209.55,323.42 208.37,323.93 208.31,322.96 208.83,322.13 209.05,324.76 209.95,322.64 209.22,322.62 209.93,324.55 210.94,324.96 209.19,326.13 210.00,324.94 211.09,325.65 211.35,326.81 210.58,327.77 210.58,327.44 211.69,326.68 211.58,326.10 211.75,328.01 210.42,327.18 210.47,327.07 211.12,328.66 211.17,327.63 212.26,330.09 211.82,329.10 211.09,326.97 212.85,328.81 212.86,330.64 212.07,330.72 211.82,328.84 212.99,327.61 213.17,329.31 212.93,328.90 212.97,329.78 213.79,329.63 213.52,331.02 212.84,331.15 213.74,330.05 214.34,330.41 212.94,329.28 213.00,330.37 213.96,329.65 214.84,330.39 215.17,331.09 214.31,332.49 214.06,330.41 213.70,329.81 214.61,332.92 214.93,331.95 215.18,332.53 214.44,330.59 214.86,332.13 215.08,333.59 216.07,334.29 215.90,334.29 215.15,334.47 215.20,335.00 215.11,332.47 215.54,334.55 215.85,333.16 216.43,333.39 217.02,332.86 216.91,333.06 215.74,334.34 217.62,333.19 217.27,335.69 217.36,336.30 216.98,336.71 217.53,336.51 216.65,334.51 217.81,336.06 218.27,336.83 217.28,337.35 218.39,335.93 217.40,335.83 217.84,337.29 218.72,337.57 218.66,336.66 218.70,336.43 217.77,335.54 218.17,338.83 219.87,339.33 218.68,337.27 219.90,336.63 219.27,339.75 219.16,338.72 219.93,338.03 219.44,337.92 219.25,338.67 220.61,339.45 220.44,340.48 221.19,341.11 220.52,338.28 220.25,338.59 220.21,340.40 220.74,340.57 220.97,342.35 221.05,339.86 220.87,342.50 220.82,342.88 221.75,342.85 221.17,343.06 221.11,341.91 222.62,343.91 222.39,341.68 222.62,344.33 222.64,344.43 222.56,341.87 223.20,343.18 222.23,343.16 222.79,344.29 223.31,344.29 223.18,342.93 222.60,343.50 222.22,344.84 224.00,343.83 224.23,346.81 223.31,345.69 223.05,346.82 223.72,347.43 224.38,344.42 223.93,344.87 224.14,346.76 224.70,346.31 224.91,344.93 224.45,344.98 224.37,346.80 223.78,346.60 224.62,346.90 224.27,347.20 226.11,346.27 225.07,347.55 224.41,347.58 225.14,347.84 225.14,346.63 226.33,346.51 225.58,345.11 225.62,348.00 227.13,344.67 226.50,346.94 225.94,347.97 225.90,346.20 227.33,344.87 227.60,345.04 227.21,345.98 226.48,344.97 226.94,347.16 226.65,345.73 227.15,345.66 227.22,348.58 228.15,348.50 227.49,346.15 228.73,347.51 228.84,348.55 228.06,348.44 228.22,347.41 228.41,348.16 228.38,346.80 228.52,345.63 228.37,345.56 228.94,345.84 229.92,346.78 228.70,349.28 228.83,346.37 229.54,348.34 229.94,347.60 229.89,347.51 230.53,347.78 229.29,349.52 229.60,349.65 229.80,347.73 230.20,348.86 230.83,349.29 229.97,346.00 230.72,347.39 231.05,348.87 231.44,347.30 231.62,348.84 230.26,348.27 230.40,349.79 231.39,347.22 230.59,345.93 232.42,345.99 232.49,349.26 231.28,347.55 232.93,346.31 232.87,349.88 231.37,348.75 232.28,348.85 231.63,349.65 232.75,348.54 232.49,346.46 232.23,345.66 232.18,350.03 232.82,349.75 233.77,349.67 233.39,346.37 234.05,345.83 233.15,346.89 233.03,349.05 233.55,346.43 234.32,345.76 233.43,347.52 234.91,347.18 234.04,348.59 234.44,347.55 233.74,349.40 234.20,348.35 235.18,347.81 234.29,346.01 234.81,348.25 236.01,345.49 235.52,347.94 236.29,345.25 235.76,348.60 236.48,345.82 236.06,346.69 237.01,345.83 235.42,349.16 235.73,345.59 236.80,346.52 236.34,345.73 237.53,348.21 236.80,347.53 237.32,347.37 236.92,347.17 236.20,349.07 236.92,346.74 237.84,348.74 237.61,348.15 237.17,346.59 238.35,348.13 237.75,348.21 237.83,344.78 238.57,345.11 239.24,346.82 237.86,346.33 239.40,346.80 238.88,348.02 238.08,348.73 239.22,348.29 239.82,348.37 238.83,345.27 239.93,348.80 239.25,345.55 239.19,348.83 239.76,346.98 239.27,345.69 239.20,349.08 240.84,347.22 241.00,348.88 239.82,347.06 241.25,347.94 239.76,349.31 241.51,347.89 240.79,346.17 240.86,349.40 241.61,349.47 241.68,346.51 240.58,349.09 241.65,346.85 240.61,346.36 241.18,349.16 241.39,348.15 241.96,349.24 242.67,345.97 242.72,346.29 241.61,345.12 243.28,346.32 242.64,348.95 241.74,346.10 242.94,345.64 243.25,348.82 242.34,348.58 243.29,348.23 242.55,349.08 244.36,345.17 243.33,347.13 243.02,345.12 244.07,347.87 243.68,346.10 243.45,345.04 245.16,349.21 244.46,349.41 243.51,348.49 245.50,347.13 244.71,349.24 245.59,346.50 244.49,348.90 244.40,348.05 245.08,345.87 244.72,345.48 245.51,347.54 246.28,349.27 246.60,345.51 246.18,345.21 246.46,349.09 246.01,349.35 247.08,347.27 246.69,348.76 246.54,345.75 245.75,347.64 246.14,347.84 246.90,346.85 247.72,347.33 247.24,347.82 246.44,348.87 246.76,345.92 247.38,346.41 246.85,348.96 248.51,345.53 247.39,344.98 247.50,345.84 248.10,346.83 248.10,348.29 249.29,345.49 248.79,348.67 247.59,346.15 249.27,345.74 249.69,345.50 248.64,344.95 248.62,348.53 249.96,345.99 250.11,345.52 249.18,348.53 250.47,347.85 250.08,344.72 250.02,348.43 249.06,348.41 250.61,346.33 251.13,347.83 249.53,348.47 249.91,346.84 250.70,347.43 250.55,345.38 249.85,347.36 250.48,348.88 251.32,347.28 251.86,345.88 250.60,347.36 250.71,346.00 252.17,345.63 251.60,347.21 252.05,347.85 252.92,347.09 252.72,347.67 252.50,348.19 251.90,347.10 252.50,346.01 253.18,347.80 253.04,345.79 252.47,349.76 252.52,348.45 252.93,347.83 253.33,349.13 253.46,347.94 253.42,348.23 253.87,348.82 253.60,345.75 254.68,345.99 253.04,346.39 254.94,346.08 255.14,348.83 254.63,345.50 254.06,347.83 254.30,349.81 255.35,346.17 255.49,348.51 255.73,347.73 255.35,350.01 255.87,346.25 255.87,345.72 255.52,345.48 256.21,347.82 256.11,345.90 255.06,345.43 255.71,348.35 255.66,347.69 256.75,348.58 256.86,348.04 256.98,349.90 255.67,347.56 257.52,348.38 257.47,346.61 256.65,348.28 257.02,345.82 256.69,348.27 257.36,345.49 257.61,347.71 256.60,346.66 257.37,345.96 257.11,347.07 256.95,348.18 257.22,345.90 257.99,348.94 257.93,349.03 257.95,347.26 257.62,346.27 259.68,348.79 259.40,348.91 259.18,346.96 259.98,348.47 259.64,347.65 260.31,345.67 259.93,348.02 259.63,345.02 258.88,346.83 259.87,346.12 259.27,346.58 260.56,345.28 260.26,349.07 261.01,346.60 260.21,347.76 259.75,345.20 260.10,345.32 261.53,345.94 261.30,345.25 261.84,347.41 261.59,347.44 260.50,347.91 260.74,345.43 261.38,345.86 261.49,348.10 262.33,348.24 261.86,349.36 262.24,346.37 261.53,346.47 261.93,346.05 263.12,346.18 261.73,347.23 261.71,345.78 262.20,348.42 262.08,347.42 262.16,346.10 262.45,349.33 264.03,349.69 262.50,348.40 263.99,349.44 264.28,348.94 263.26,348.54 263.45,347.73 263.31,346.88 265.02,347.66 264.42,347.95 265.42,348.58 265.35,348.57 265.64,349.73 265.18,346.22 265.09,345.44 265.13,347.50 265.91,346.35 264.96,346.48 265.03,347.61 264.63,347.96 265.69,348.35 266.47,346.60 266.22,348.50 265.83,349.01 265.95,347.04 265.79,346.64 266.60,345.38 267.53,348.75 267.45,348.24 267.30,348.07 266.67,345.59 266.93,348.18 268.04,347.33 266.64,347.34 268.27,346.22 267.42,345.38 266.79,345.75 266.90,347.97 268.46,349.02 268.90,345.86 268.95,346.37 268.68,347.11 268.39,347.98 269.57,349.08 268.62,348.54 269.67,348.86 269.57,344.62 269.60,345.71 268.91,346.03 268.36,346.97 269.44,347.14 268.91,347.81 270.18,347.74 269.15,348.73 270.89,345.58 269.64,345.99 269.58,346.84 270.34,348.76 270.69,345.12 271.21,348.34 270.20,347.69 270.43,348.07 271.67,347.52 270.93,347.81 271.66,348.80 271.06,348.51 270.64,348.33 270.59,346.54 271.15,348.83 271.82,348.06 272.64,345.99 272.94,346.37 272.59,346.97 273.17,346.45 273.45,345.68 272.43,345.93 271.96,348.10 272.39,346.04 273.47,344.55 273.56,344.86 273.47,348.78 272.96,348.01 274.14,346.10 274.50,348.81 274.16,348.63 274.82,347.99 273.59,348.11 274.72,347.87 274.88,346.86 275.17,345.83 275.43,348.70 275.02,348.66 274.69,349.09 274.42,349.33 275.92,346.17 274.32,349.34 274.57,347.12 275.46,347.09 275.39,348.55 276.38,347.22 276.12,347.60 275.83,348.27 275.14,346.30 276.48,349.36 276.34,345.88 275.94,348.45 276.82,347.27 276.13,348.34 275.95,346.35 276.90,350.40 276.34,348.90 276.81,347.98 276.41,347.17 278.28,348.93 278.11,346.08 278.20,349.57 278.66,349.85 277.06,350.16 278.65,350.28 279.01,349.09 278.27,347.12 277.53,347.07 279.44,348.81 277.95,349.56 278.14,349.53 279.04,350.64 278.23,349.50 279.99,349.95 278.82,348.34 279.73,347.66 279.65,349.64 279.50,348.30 278.91,346.78 280.72,346.33 279.73,349.29 280.81,349.83 280.51,349.90 281.31,350.38 279.68,349.27 280.38,345.83 280.00,347.69 280.98,349.55 280.01,347.37 281.65,347.57 280.24,346.16 282.23,349.48 281.58,347.12 281.55,348.25 282.22,346.22 281.75,349.69 280.97,347.20 281.18,346.42 281.84,347.22 281.71,349.21 281.82,349.32 282.59,344.96 283.47,348.05 283.35,346.00 283.75,347.79 283.39,344.95 283.35,348.23 282.36,345.96 284.41,344.75 283.09,344.53 283.40,346.95 284.05,347.54 284.37,346.27 283.93,348.66 283.86,346.34 283.83,347.38 285.14,344.58 285.12,348.23 283.99,344.34 284.43,346.67 285.71,346.64 285.33,348.08 284.51,347.39 285.12,346.85 285.59,346.89 285.33,347.75 285.16,346.66 286.17,347.38 285.66,347.03 285.84,348.35 286.74,346.40 285.74,345.65 287.17,348.16 286.60,346.51 285.98,345.84 287.84,346.77 286.22,346.39 286.24,345.77 288.08,346.16 287.86,345.52 287.87,348.40 287.02,347.11 288.05,348.79 287.91,345.05 287.54,348.98 288.05,347.85 288.47,347.59 287.98,349.01 287.81,347.19 288.78,345.00 287.77,346.77 289.17,348.19 288.95,347.07 289.44,347.58 288.86,348.25 290.18,346.98 290.12,347.78 289.94,345.69 289.93,348.12 290.60,346.18 289.74,346.62 290.84,345.83 289.27,345.74 289.40,345.98 290.19,347.04 291.11,346.33 291.52,345.01 291.73,345.74 290.39,347.48 291.15,346.60 290.62,345.43 291.76,348.45 291.17,347.56 292.40,345.35 292.12,349.17 292.05,348.03 291.01,348.60 292.95,345.55 292.66,349.21 293.34,347.75 293.29,346.69 291.89,349.45 292.40,346.49 293.74,346.50 293.61,346.23 293.02,346.94 293.63,347.42 294.23,348.73 293.57,348.66 294.12,349.36 294.14,348.39 294.18,348.16 293.29,347.80 294.01,348.34 293.99,345.17 294.90,347.54 294.56,349.47 294.05,346.00 295.35,346.63 295.15,346.89 293.98,345.40 296.01,349.03 294.87,349.34 295.84,348.84 294.84,345.94 296.16,346.18 296.45,345.51 296.19,348.64 296.27,348.68 295.24,345.49 295.84,346.38 295.60,346.38 296.54,348.67 296.78,347.33 296.31,345.84 296.94,346.59 296.19,347.39 297.72,346.22 298.15,347.75 296.66,347.69 298.16,348.39 296.87,345.45 298.50,349.53 298.74,349.04 297.46,349.49 298.31,347.20 297.50,347.94 298.48,348.69 298.62,348.88 298.97,348.58 298.01,346.89 298.48,347.37 299.61,345.95 300.01,346.15 298.62,346.19 299.18,348.04 299.04,349.30 299.55,346.82 298.95,345.95 298.95,347.23 300.93,348.96 299.46,348.01 299.41,348.90 299.84,349.14 299.67,349.60 299.68,349.28 300.42,348.11 300.87,345.90 299.99,349.88 301.16,348.87 301.09,346.19 302.28,345.86 300.53,346.08 300.96,345.84 301.51,347.86 302.69,346.09 302.59,349.04 301.64,346.26 302.21,348.40 301.93,348.12 302.13,348.52 303.02,349.34 303.69,345.86 302.01,347.13 302.01,348.34 302.28,347.97 303.96,349.88 303.38,346.31 302.85,345.33 302.64,347.01 304.66,346.63 304.08,348.30 303.11,345.58 303.17,348.38 304.05,348.18 304.82,348.67 304.00,345.22 304.50,348.01 304.40,345.26 305.20,348.27 304.70,345.09 305.68,345.16 304.67,346.68 305.38,347.03 306.37,346.35 306.07,348.47 305.63,348.00 306.42,348.63 305.20,345.08 306.66,347.38 305.73,345.03 306.45,346.69 307.42,345.03 306.36,347.59 307.71,346.09 307.37,347.71 307.78,344.89 307.84,347.56 307.06,345.13 307.10,345.15 306.79,346.60 307.21,347.09 306.82,346.83 307.62,345.60 308.73,346.56 307.28,347.73 307.37,348.95 307.85,347.25 308.99,345.84 309.35,348.36 308.34,347.38 307.88,348.61 309.01,348.58 308.86,347.17 309.53,346.42 308.55,345.33 308.63,348.50 309.88,348.62 309.49,345.82 309.49,346.59 309.29,344.69 310.94,345.02 309.24,348.53 309.48,348.43 310.79,348.33 311.44,344.86 311.17,345.42 310.57,346.86 310.84,347.96 311.81,347.30 311.15,346.23 311.29,345.75 310.61,345.65 311.40,346.68 311.24,347.05 312.43,345.76 311.00,346.35 311.27,346.82 311.83,348.71 312.82,345.20 312.78,347.69 313.48,348.25 312.96,345.86 313.36,348.37 312.07,346.08 312.70,347.84 313.11,347.35 313.76,346.74 313.75,349.01 313.10,348.52 313.15,349.12 313.24,345.87 314.88,347.36 313.22,347.03 314.87,345.36 314.02,348.68 314.33,345.98 315.33,347.53 315.46,346.58 315.79,347.41 314.32,347.86 314.77,348.89 314.86,347.47 314.41,348.55 315.86,348.56 315.32,348.99 315.53,347.88 314.96,345.49 315.95,347.17 315.64,347.84 316.16,349.20 316.82,349.41 316.63,349.54 317.06,345.17 317.24,347.36 317.13,347.48 317.00,347.30" fill="none" stroke="#de7e00" stroke-width="2.1" stroke-linejoin="round" /><line x1="92.8" y1="344" x2="92.8" y2="354.4" stroke="#de7e00" stroke-width="1.5"/><line x1="119.1" y1="360" x2="119.1" y2="386.4" stroke="#de7e00" stroke-width="1.5"/><line x1="139.4" y1="376" x2="139.4" y2="386.4" stroke="#de7e00" stroke-width="1.5"/><line x1="234.3" y1="323.2" x2="234.3" y2="368" stroke="#de7e00" stroke-width="1.5"/><line x1="308" y1="347" x2="308" y2="356.4" stroke="#de7e00" stroke-width="1.5"/><polyline points="403.83,440.03 403.35,439.83 404.20,440.13 403.77,440.09 403.55,440.32 403.91,440.24 403.87,439.81 404.69,439.91 404.58,439.83 404.50,440.11 404.31,440.06 404.58,439.77 404.93,440.15 405.21,439.94 405.05,440.03 405.57,440.25 405.57,439.93 406.00,440.12 405.54,440.26 405.49,440.43 406.26,440.11 406.11,439.98 406.42,439.93 406.45,440.39 406.31,440.48 406.72,440.40 406.71,440.36 407.32,440.54 407.16,440.35 407.33,440.13 407.74,440.51 407.16,440.64 407.67,440.40 407.59,440.21 407.37,440.33 408.14,440.28 407.75,440.35 408.50,440.53 408.20,440.37 408.76,440.67 408.86,440.85 408.54,440.54 409.13,440.60 408.53,440.98 408.73,440.52 409.11,440.56 409.01,440.78 409.29,440.44 409.57,440.66 409.82,441.01 409.87,440.75 409.43,440.84 410.28,440.97 410.42,440.95 410.15,440.65 410.51,440.47 410.07,440.43 410.29,440.50 410.30,440.57 410.53,440.35 410.86,440.39 411.50,440.33 410.90,440.66 411.22,440.42 411.12,440.47 412.12,440.74 411.73,440.49 411.48,440.24 411.76,440.37 411.79,440.64 412.70,440.13 412.02,440.42 412.03,440.41 413.10,440.38 412.95,440.56 412.74,440.18 413.27,440.11 413.40,440.31 412.97,440.18 413.86,440.46 413.81,440.47 413.86,440.44 413.77,440.08 413.40,440.15 413.78,439.95 414.32,440.09 414.20,440.51 414.86,440.49 414.36,440.51 414.35,440.07 414.45,440.06 415.28,440.32 414.98,440.46 415.42,440.36 415.41,440.03 415.66,440.53 415.48,440.45 415.91,440.12 416.05,440.22 415.77,440.62 416.45,440.29 415.80,440.49 415.90,440.15 416.68,440.62 416.83,440.18 416.78,440.69 416.80,440.33 416.39,440.20 417.15,440.72 417.56,440.46 417.62,440.41 417.09,440.65 417.29,440.31 417.71,440.31 417.67,440.32 418.29,440.25 417.96,440.38 418.53,440.52 418.67,440.42 418.41,440.46 418.02,440.47 418.31,440.42 419.05,440.15 418.85,440.24 419.06,440.56 419.14,440.32 419.53,440.44 419.44,440.16 419.28,440.24 419.63,440.54 420.01,440.41 419.82,440.61 420.01,440.41 420.32,440.34 420.28,440.30 420.82,440.30 420.88,440.43 420.38,440.57 421.19,440.33 420.51,440.49 420.94,440.06 420.87,440.02 421.42,440.02 421.77,440.45 421.72,440.07 421.27,440.37 422.22,440.51 422.33,440.12 421.99,440.23 422.46,440.59 422.18,440.10 422.21,440.32 422.32,440.14 422.14,440.47 422.69,440.38 422.71,440.07 423.01,440.45 423.61,440.13 423.72,440.58 423.14,440.18 423.78,440.16 423.25,440.32 424.16,440.42 423.63,440.68 424.42,440.29 424.33,440.56 423.81,440.28 424.30,440.65 424.94,440.30 424.93,440.64 425.11,440.32 425.24,440.32 424.84,440.56 425.55,440.62 424.88,440.46 425.11,440.61 425.16,440.36 425.33,440.27 425.56,440.36 425.66,440.57 425.68,440.35 425.64,440.19 425.77,440.06 426.43,440.28 426.47,439.88 426.23,440.25 426.68,440.11 427.21,439.84 427.01,439.70 427.61,439.80 427.58,439.51 427.51,439.65 427.35,439.38 427.25,439.09 427.99,439.02 427.54,439.05 428.34,438.87 428.30,439.26 427.99,438.83 428.33,438.76 428.45,438.60 429.09,435.90 428.80,433.56 429.35,430.37 428.87,427.65 429.02,424.70 429.27,422.23 429.40,419.32 429.28,416.45 429.54,413.76 429.30,410.98 429.63,408.40 430.05,408.57 430.31,408.68 430.65,408.67 430.23,408.48 430.18,409.04 430.80,409.09 431.11,408.88 431.03,409.60 431.34,409.71 431.18,409.56 431.62,409.99 431.74,410.38 431.93,410.46 431.86,410.74 431.32,410.68 431.78,410.84 432.38,411.03 432.30,411.52 432.48,411.78 431.92,411.91 432.80,412.31 432.71,412.34 432.37,412.65 432.68,412.81 432.82,412.53 432.88,413.04 433.78,413.16 433.31,413.13 433.73,413.23 433.79,413.51 433.38,413.54 433.68,413.34 433.85,413.80 433.69,413.79 434.07,413.58 434.62,414.03 434.34,414.12 434.64,414.11 434.42,414.16 434.62,414.50 435.49,414.63 435.13,414.13 435.77,414.68 435.19,414.33 436.00,414.05 435.76,413.92 435.83,413.75 435.56,414.10 436.07,413.88 436.39,413.78 436.71,413.25 435.96,413.27 436.55,412.84 436.49,412.97 436.66,412.64 437.28,412.61 437.32,412.29 436.81,412.66 437.53,412.58 437.23,412.43 437.46,411.98 437.78,412.23 437.75,411.72 437.50,411.55 438.41,411.32 438.64,411.31 438.09,411.38 438.14,411.62 439.03,411.63 439.01,412.02 439.24,411.97 439.00,412.25 438.62,412.21 439.15,412.32 439.47,412.44 439.00,412.27 439.20,412.76 439.54,412.60 440.06,412.61 439.71,413.13 439.88,413.05 440.09,413.11 439.99,412.99 440.86,413.13 440.30,413.43 441.20,413.79 440.46,413.40 440.54,413.13 440.67,413.10 440.96,412.92 441.71,413.00 441.36,412.99 441.60,412.67 441.54,412.53 441.60,412.22 441.58,412.64 442.20,412.23 441.92,412.32 442.07,411.84 442.40,411.78 442.92,411.98 442.22,411.80 443.03,411.16 442.92,411.54 442.58,411.21 443.63,410.96 443.68,411.07 443.20,411.02 443.23,410.35 443.88,410.45 444.05,410.85 444.22,410.81 444.13,410.84 444.49,410.74 444.75,410.99 444.26,411.38 444.34,411.21 444.91,411.66 444.41,411.48 445.05,411.87 444.81,411.93 444.73,412.20 445.30,412.17 445.61,412.71 445.57,412.81 445.47,412.57 446.05,413.15 445.50,412.91 446.27,413.17 445.98,413.33 446.78,413.68 446.01,413.62 446.52,413.89 446.42,414.31 447.09,414.59 446.68,414.62 446.91,415.11 446.96,415.24 447.61,415.09 447.93,415.35 447.29,415.69 447.64,415.75 448.30,416.23 447.87,416.14 448.57,416.40 447.78,416.58 448.24,416.75 448.86,417.47 449.10,417.59 448.55,417.52 449.29,416.89 448.51,417.04 448.98,416.80 449.06,416.43 448.85,416.11 449.33,415.99 449.22,416.19 449.43,416.00 450.17,415.43 449.91,415.50 450.07,414.83 450.64,414.82 450.21,414.49 450.01,414.70 450.91,414.19 450.27,414.18 450.41,413.52 450.73,413.82 451.50,413.48 451.00,413.01 451.47,413.14 451.69,412.49 451.38,412.28 451.98,412.12 451.99,412.69 451.50,412.72 452.08,412.32 452.68,412.77 452.11,412.45 452.48,412.49 452.29,412.81 452.97,412.75 453.13,412.78 452.81,412.67 452.97,412.52 452.82,412.83 453.62,412.50 453.06,412.56 453.67,412.46 454.22,412.67 454.36,413.04 453.58,412.71 454.12,412.65 454.19,413.07 454.29,412.83 454.67,413.12 454.97,413.30 454.37,413.35 454.67,413.57 454.87,413.52 454.82,413.74 455.00,413.56 455.76,413.63 455.33,414.02 456.12,414.04 455.48,414.24 456.03,414.56 455.60,414.81 456.44,414.65 456.66,415.01 456.17,414.68 456.19,414.88 456.71,415.54 456.62,415.67 456.82,415.78 457.28,415.57 456.73,416.14 457.37,416.08 457.24,416.01 457.20,416.12 457.73,416.06 457.46,416.16 457.71,415.64 457.69,415.91 457.83,415.55 458.31,415.70 457.99,415.11 458.56,415.17 458.23,415.16 458.96,414.72 458.67,414.71 459.47,414.49 459.21,414.33 459.18,414.19 459.89,414.32 459.22,413.85 459.35,413.89 460.18,413.27 460.22,413.33 460.41,413.41 459.81,413.52 460.33,413.33 460.81,413.78 460.65,413.53 460.65,413.77 460.56,413.70 461.33,413.99 461.02,413.81 461.62,414.29 460.90,413.99 461.88,414.50 461.08,414.29 461.54,414.62 461.90,414.66 461.56,414.68 461.75,414.72 462.50,414.55 461.96,414.87 462.30,414.57 462.41,415.79 462.40,416.60 463.17,418.00 462.96,418.64 462.56,420.11 462.77,421.21 463.33,422.12 463.21,423.19 463.61,424.12 463.81,425.18 463.71,426.25 464.02,427.06 463.76,427.40 464.43,427.63 463.95,427.51 464.01,427.58 464.46,427.44 464.59,427.49 464.32,427.81 464.48,427.95 465.30,428.01 464.70,427.88 465.15,427.87 465.04,428.14 466.02,428.09 465.96,428.01 466.26,427.69 466.36,427.87 465.69,428.12 466.58,428.04 466.13,427.60 466.06,428.01 466.30,428.09 466.29,428.03 467.19,427.83 466.66,427.64 466.84,427.81 466.83,427.51 467.71,427.57 467.80,427.86 467.81,427.53 467.68,427.48 467.63,427.76 467.96,427.88 468.41,427.68 468.64,427.36 468.17,427.65 468.16,427.72 468.60,427.81 468.91,427.40 468.45,427.41 468.45,427.56 468.78,427.58 469.63,427.44 469.44,427.38 468.90,427.19 469.17,426.99 469.58,427.32 470.17,427.23 469.63,426.98 469.55,427.28 470.00,426.87 470.13,426.92 470.48,426.98 470.23,427.19 470.62,427.21 471.21,426.91 470.55,426.98 471.16,426.90 471.43,427.37 471.04,427.10 471.54,426.88 471.38,427.23 471.59,427.30 472.01,427.50 472.30,427.12 472.06,427.02 471.89,427.27 472.55,427.10 472.45,427.11 472.17,427.70 472.76,427.30 472.92,427.52 472.57,427.75 472.83,427.49 473.54,427.37 473.49,427.85 473.74,427.43 473.49,427.91 473.60,427.94 473.38,427.67 473.44,427.71 474.27,427.80 474.50,428.05 474.04,428.08 474.34,428.01 474.55,428.17 474.79,427.87 474.49,428.30 474.42,428.26 474.76,427.89 475.59,428.18 475.10,428.18 475.23,428.25 475.93,427.85 475.84,428.06 476.25,428.06 476.24,427.91 476.38,428.02 476.37,427.83 476.08,427.87 476.52,427.61 476.94,427.48 476.18,427.47 477.20,427.39 476.54,427.48 476.57,427.23 477.28,427.57 477.51,427.51 477.49,427.07 477.84,427.18 478.04,427.39 478.14,426.87 478.34,427.32 477.73,426.77 477.68,426.71 478.59,427.09 478.73,426.90 478.31,426.84 478.25,426.46 478.48,426.80 478.82,426.49 478.81,425.77 479.42,425.38 479.17,424.90 479.50,424.73 479.75,421.97 479.68,418.79 480.17,416.36 480.24,413.63 479.88,411.07 479.89,408.60 480.10,408.57 480.25,408.08 481.16,408.55 480.80,408.10 481.23,408.40 481.05,408.23 481.52,408.35 481.75,408.32 481.15,408.35 481.56,408.63 481.83,408.30 482.10,408.31 482.23,408.71 481.92,408.69 482.09,408.59 481.91,408.91 481.97,408.94 482.34,408.55 482.70,409.00 483.21,408.71 482.91,408.65 483.33,408.85 483.35,409.00 483.16,408.78 483.80,408.68 483.82,409.00 483.65,408.72 483.91,409.09 483.92,408.71 483.82,409.17 484.01,408.75 484.68,409.06 484.12,408.72 484.42,408.77 484.38,408.93 484.53,408.80 485.20,409.18 485.56,408.64 485.11,408.63 485.64,409.14 485.41,408.97 485.74,408.63 485.43,408.56 485.39,408.71 486.27,408.69 486.11,408.85 486.20,408.79 486.46,408.48 486.73,408.62 486.54,408.90 486.99,408.69 486.59,408.58 487.37,408.75 487.32,408.77 487.42,408.81 487.32,408.67 487.62,408.47 487.54,408.34 487.96,408.75 487.62,408.66 487.96,408.54 488.03,408.67 488.68,408.72 488.53,408.44 488.39,408.81 489.10,408.66 488.79,408.41 489.16,408.51 489.02,409.00 489.20,408.52 489.47,408.81 489.51,408.82 489.52,409.04 490.07,408.81 489.93,408.72 490.14,408.85 490.48,408.71 489.68,408.88 490.15,408.85 490.29,408.71 490.70,408.98 490.39,408.95 490.99,408.89 490.90,409.33 491.30,408.90 490.84,409.01 491.53,408.86 491.51,409.26 491.56,409.05 492.09,408.90 491.89,408.96 492.19,409.23 491.79,409.00 491.75,409.02 492.10,409.17 492.14,409.15 492.25,408.83 492.31,408.83 492.97,408.54 492.62,408.67 492.98,408.64 493.26,408.67 493.11,408.76 493.73,408.88 493.83,408.30 493.91,408.77 494.08,408.26 493.39,408.50 494.45,408.08 493.88,408.76 493.90,408.73 494.66,409.10 494.17,409.47 494.93,410.10 495.16,409.97 495.18,410.54 495.42,412.05 495.50,413.63 495.48,414.62 495.66,416.39 495.93,417.78 495.44,419.39 495.44,420.50 495.49,422.31 495.70,423.77 496.18,425.31 496.68,426.89 496.78,427.54 496.63,429.81 497.04,431.69 496.75,430.01 496.53,429.92 497.22,428.19 497.32,425.96 497.77,426.00 497.95,424.23 497.58,423.42 497.26,422.99 497.98,421.53 498.35,419.72 498.09,418.65 498.51,417.81 498.31,416.12 498.55,415.37 498.43,414.68 498.68,413.26 498.68,411.25 499.52,409.83 499.48,408.67 499.14,406.66 499.55,405.17 499.88,404.33 499.95,399.95 499.90,398.16 499.78,393.34 499.79,389.95 500.33,388.27 500.64,384.47 500.59,381.60 500.73,377.73 500.82,376.49 500.57,375.08 500.94,373.66 500.71,372.43 500.77,369.99 501.77,369.65 501.35,368.03 501.90,366.92 501.49,365.04 501.78,363.16 501.92,361.78 502.55,360.94 502.31,358.46 501.99,357.02 502.57,356.98 502.57,355.76 502.63,352.71 503.31,352.33 502.98,351.61 502.73,351.15 502.97,352.12 502.90,351.80 503.69,352.10 504.10,352.87 504.13,353.38 503.40,354.03 503.76,355.66 503.83,356.26 504.54,355.61 504.75,357.39 504.10,358.00 504.86,358.41 505.21,358.70 505.36,358.92 504.54,360.37 505.30,359.72 504.85,361.79 505.63,361.50 505.89,361.87 505.21,363.07 505.85,363.49 506.08,364.25 506.32,364.35 506.29,365.38 506.19,366.50 506.69,366.69 506.81,368.34 506.44,368.29 507.25,368.02 507.23,369.81 507.13,369.91 507.48,371.84 507.08,371.92 507.79,372.37 507.71,373.04 508.05,374.21 507.56,375.33 507.66,374.64 508.11,376.15 508.54,377.60 508.61,376.96 508.77,379.09 508.30,379.40 508.96,380.64 509.19,381.08 508.49,381.20 509.32,380.77 509.40,379.32 509.01,379.83 509.58,378.43 509.24,377.36 509.91,376.16 509.75,376.31 510.22,374.22 509.77,374.64 510.56,373.47 510.32,373.20 510.51,371.64 510.24,370.30 510.87,369.46 510.86,368.97 510.95,367.17 510.61,364.85 511.07,364.51 511.47,361.04 511.12,360.41 511.44,358.21 511.25,356.22 512.36,353.49 511.99,353.14 511.89,350.76 512.19,349.30 512.67,347.76 513.00,345.69 512.20,342.85 512.48,340.92 512.48,339.66 513.42,339.45 513.63,338.22 512.87,337.99 513.33,336.38 514.02,334.47 513.75,333.68 514.27,333.33 513.83,332.34 513.73,330.90 514.69,330.80 513.86,328.42 514.30,327.45 514.98,327.58 514.25,326.43 515.04,325.30 515.44,324.01 514.72,321.91 515.65,322.13 515.13,320.94 515.72,319.74 515.41,317.82 515.34,317.05 515.51,316.40 515.61,314.91 515.61,314.64 515.92,313.65 516.77,311.35 516.91,310.62 516.99,310.71 516.67,309.08 517.28,308.68 517.10,309.70 516.94,308.67 517.20,309.00 516.99,308.32 517.03,307.25 517.65,307.79 518.10,306.42 517.76,306.30 517.75,305.75 517.93,306.63 518.22,305.07 518.75,304.99 518.95,304.26 519.00,303.81 518.44,304.55 518.64,303.85 518.68,303.10 519.59,302.94 519.65,303.73 519.14,301.76 519.03,302.84 519.39,302.19 519.24,302.30 519.69,301.65 519.48,300.11 520.13,301.01 520.16,300.27 520.08,302.01 520.12,301.82 520.88,301.55 520.44,302.95 520.46,302.25 521.00,303.65 520.83,303.49 521.46,304.56 521.47,305.37 521.08,304.74 521.55,306.16 521.33,306.60 521.74,307.23 522.39,307.76 521.67,307.61 522.26,308.84 522.18,309.25 522.87,308.50 522.33,309.31 522.89,309.80 522.95,309.62 523.07,310.90 523.40,310.80 523.68,312.54 523.65,312.13 523.82,312.72 524.07,312.62 523.82,315.57 523.98,316.12 523.60,317.50 523.93,319.61 523.93,319.52 524.77,320.97 524.18,321.90 524.40,324.43 524.93,324.52 524.98,326.84 524.69,328.38 525.43,329.99 524.96,329.81 525.46,331.91 525.21,332.82 525.35,334.34 526.20,335.97 526.04,336.46 525.75,338.82 526.65,340.24 526.26,340.74 526.49,342.82 527.03,343.30 526.56,345.26 526.68,345.57 527.45,347.19 527.51,349.12 527.57,350.41 527.37,350.31 527.91,353.21 527.52,353.20 527.59,355.01 527.42,355.94 527.98,356.88 527.74,357.26 528.50,360.09 528.48,361.16 528.86,362.05 528.13,363.32 528.49,364.01 528.62,365.21 529.40,366.10 528.85,367.38 529.16,368.34 529.14,370.26 529.62,370.25 529.69,371.07 529.74,373.73 529.82,373.64 529.62,375.28 529.73,375.71 530.13,377.18 530.09,378.33 530.52,379.14 530.71,381.67 530.88,382.40 531.06,382.96 531.03,384.65 531.07,386.15 530.97,386.84 531.37,387.90 531.57,389.42 531.46,389.98 531.47,392.73 531.85,393.41 532.47,394.14 532.39,395.38 531.81,396.36 532.31,398.86 532.38,398.62 532.85,400.52 532.47,401.14 533.11,403.88 532.83,403.64 533.30,405.20 533.60,406.88 533.39,408.45 533.74,409.50 533.61,410.19 533.98,410.89 533.53,411.77 533.54,412.34 534.25,412.79 534.76,412.95 534.35,413.73 534.94,414.75 534.58,415.07 534.79,415.43 534.76,416.55 535.16,416.59 535.05,415.73 535.70,415.60 535.42,414.23 535.41,412.81 535.81,411.89 535.45,411.83 535.81,411.59 536.45,410.60 535.94,409.97 536.77,408.17 536.04,406.58 536.61,406.74 537.02,406.54 537.37,405.02 537.01,404.16 537.01,403.63 537.34,402.22 537.82,401.38 537.53,401.15 537.50,398.75 537.81,397.94 538.26,396.90 537.99,396.25 538.26,393.96 538.10,393.61 538.70,391.42 538.33,389.43 538.96,389.54 538.37,387.36 539.08,386.71 539.50,385.23 539.06,384.01 539.06,381.36 539.40,380.65 539.20,378.73 539.75,378.18 540.26,376.34 539.44,375.50 540.31,373.75 540.34,372.21 540.08,370.31 540.49,370.46 540.22,367.97 540.70,365.47 540.92,362.87 541.40,361.16 540.94,359.04 540.81,356.03 540.88,354.97 541.07,351.58 541.85,350.13 541.96,348.09 541.29,344.88 541.72,343.94 541.88,341.61 541.92,338.41 542.68,336.05 542.25,334.69 542.41,332.22 543.04,329.27 543.23,327.99 543.02,325.49 542.57,322.91 543.50,321.89 543.67,318.54 543.20,317.20 543.99,315.23 544.10,313.43 543.67,311.28 543.63,310.74 544.41,308.18 544.45,307.01 543.96,304.77 544.10,303.47 544.33,303.64 544.28,300.88 544.67,299.21 544.48,297.21 545.36,294.68 544.91,293.86 545.07,291.69 544.95,290.26 545.38,290.32 545.88,286.76 545.57,284.90 545.55,286.45 546.38,283.23 545.83,283.31 546.52,279.73 546.89,280.12 547.01,279.54 546.42,281.42 546.45,281.45 546.71,283.34 547.17,284.99 546.96,281.87 547.06,283.87 547.10,286.20 547.65,283.91 548.01,282.32 548.03,283.55 547.81,285.45 547.71,283.89 548.60,282.01 548.54,283.23 548.56,281.32 548.63,283.53 548.32,282.92 548.60,283.01 549.22,281.29 549.03,282.67 549.52,288.40 549.74,288.15 549.28,281.12 549.80,280.09 549.60,286.03 550.03,283.60 549.75,286.30 549.98,287.38 549.93,284.99 550.79,279.93 550.71,285.30 550.16,278.74 550.45,279.56 550.76,280.52 550.81,277.95 550.80,282.77 551.32,284.11 551.13,282.73 551.68,280.09 551.13,279.09 552.03,282.59 551.42,277.98 552.11,281.99 551.87,275.44 552.54,275.47 552.79,275.70 552.09,278.71 552.52,277.75 553.08,277.45 552.46,274.23 552.92,277.26 553.32,276.50 553.58,274.93 553.33,273.83 553.70,270.88 553.64,271.90 553.38,273.15 553.42,271.95 554.31,271.16 554.17,269.38 554.39,270.60 554.12,269.05 554.36,267.63 554.33,269.41 554.39,270.39 555.06,272.25 554.76,272.56 555.09,274.22 555.12,276.14 555.78,276.15 555.59,277.02 555.97,278.53 556.05,280.07 556.08,280.55 556.00,282.48 556.50,283.94 556.09,283.92 556.14,285.52 556.34,286.14 556.89,287.54 556.43,289.14 556.91,290.07 556.74,291.29 556.71,291.91 557.58,294.18 557.67,293.15 557.64,295.37 557.69,294.40 557.51,295.59 557.46,296.38 558.22,297.66 558.64,297.73 558.08,298.37 558.09,298.23 558.85,298.43 558.50,300.48 558.96,299.89 559.38,301.67 559.36,301.03 559.44,302.81 559.01,302.49 559.27,303.98 559.63,303.74 560.03,304.33 559.37,304.68 560.08,305.86 560.28,306.90 560.64,307.65 560.32,307.50 560.25,307.49 560.16,308.85 560.36,309.64 561.30,309.82 560.49,309.81 560.77,311.07 560.71,312.21 561.68,313.05 561.38,313.60 561.74,313.33 561.63,314.39 561.77,314.72 562.29,315.96 561.75,317.04 562.15,316.61 562.19,317.75 562.05,317.75 562.55,318.65 563.12,320.48 563.32,320.96 563.09,321.81 562.65,322.22 563.33,322.65 563.42,322.65 563.45,324.51 563.40,324.64 564.11,324.78 563.54,324.90 563.92,326.75 564.26,326.37 564.31,328.17 564.38,329.53 564.37,331.08 564.28,331.55 564.77,334.23 565.21,334.10 564.57,335.63 564.85,337.41 565.28,338.60 565.42,339.40 565.49,340.46 565.18,342.58 565.30,343.51 566.21,344.82 566.19,346.27 565.71,347.89 566.45,349.56 566.68,349.20 566.15,350.96 566.66,353.22 566.36,354.11 566.41,355.34 566.85,355.60 567.19,356.42 567.02,357.99 567.28,360.09 567.60,361.63 567.66,362.81 568.10,363.37 568.10,362.49 568.24,363.28 568.43,364.36 568.10,363.83 568.80,365.40 568.02,365.84 568.21,366.09 569.04,366.46 569.28,366.14 568.74,367.62 569.06,367.22 569.32,368.85 568.88,368.01 569.79,368.47 569.67,369.08 569.93,369.74 569.51,370.37 570.03,371.74 570.43,371.88 569.76,372.83 570.02,372.22 570.87,372.99 570.16,374.01 571.07,373.39 570.77,374.77 570.66,374.90 571.02,375.68 571.36,375.84 571.20,374.52 571.89,374.90 571.17,375.69 571.61,375.06 571.95,375.72 571.85,375.71 572.20,375.15 571.77,375.87 572.86,376.23 572.15,375.62 572.40,376.88 572.75,376.30 572.94,376.42 573.46,377.04 572.66,378.01 573.52,377.37 573.65,378.07 573.63,377.78 573.41,377.43 574.12,378.35 574.06,378.74 574.26,377.74 574.13,378.66 574.10,378.61 574.28,378.59 574.34,377.84 575.12,378.06 574.63,378.08 574.63,377.39 574.66,377.32 575.52,376.44 575.23,376.98 575.22,376.92 575.11,375.93 575.49,375.91 575.86,376.40 575.78,376.52 576.15,376.22 575.88,374.44 576.81,376.06 576.73,376.39 576.95,377.25 576.69,377.33 576.61,379.55 576.48,379.12 576.85,379.69 576.93,381.39 577.04,381.57 577.83,382.67 577.29,383.48 578.18,384.37 577.42,384.87 578.34,385.98 577.73,385.87 578.26,386.34 578.49,388.32 578.19,389.14 578.85,388.81 578.63,390.98 578.69,392.62 578.90,393.09 579.24,394.65 579.23,396.76 579.12,398.83 579.00,400.18 579.68,402.60 579.30,404.30 580.10,405.22 579.59,406.30 579.77,407.58 579.84,410.27 580.31,411.95 580.60,413.04 580.79,414.66 580.59,416.33 580.65,418.17 581.28,419.70 580.95,421.40 581.75,422.97 581.18,423.97 581.97,423.98 581.17,423.22 581.95,423.65 581.79,423.95 581.78,424.08 581.77,423.61 581.95,422.61 582.45,422.55 582.26,422.92 582.57,423.11 582.52,422.30 583.39,422.59 582.63,422.07 582.97,422.29 583.35,422.27 583.33,421.92 583.57,421.87 584.14,421.43 584.10,421.15 584.14,420.97 584.48,421.02 584.31,420.66 584.79,420.71 584.63,420.88 584.38,420.41 584.68,420.39 584.58,420.33 585.14,420.61 585.62,420.30 585.32,420.22 585.74,420.14 585.27,420.54 585.95,420.44 585.58,420.12 586.27,420.22 586.18,420.00 586.08,420.23 586.63,420.20 586.76,419.96 586.78,420.03 586.31,420.32 587.24,420.31 586.40,419.96 587.47,419.84 587.54,419.78 587.49,419.86 587.04,419.83 587.09,420.19 588.04,419.99 588.13,420.23 587.41,420.40 588.29,419.97 587.66,420.26 587.98,420.16 587.98,420.14 588.99,419.92 589.00,420.12 588.74,420.03 588.80,420.06 589.19,420.12 589.36,420.13 588.86,420.37 589.37,420.31 589.35,420.68 590.09,420.29 589.98,420.72 589.55,420.38 589.57,420.41 590.13,420.30 590.31,420.55 589.89,420.55 590.65,420.77 590.67,420.71 591.23,420.82 591.09,420.96 590.82,420.69 591.60,420.72 591.14,420.72 591.02,420.75 591.01,421.12 592.05,420.90 591.86,420.70 591.62,420.78 591.62,420.68 592.41,421.08 591.80,421.12 592.20,420.99 592.55,420.97 593.10,420.77 593.00,420.58 592.89,421.09 593.49,420.93 593.25,420.71 593.13,421.01 593.27,420.98 593.61,420.86 593.45,420.94 593.79,420.91 593.99,420.65 594.41,420.67 594.35,420.78 594.23,420.80 594.02,420.61 594.53,421.03 594.65,420.78 594.49,420.94 595.20,420.55 595.14,420.71 595.52,420.92 594.79,420.94 595.71,420.64 595.12,420.90 595.38,420.49 595.61,420.45 595.90,420.87 595.59,420.65 596.62,420.62 596.20,420.79 596.67,420.66 596.15,420.82 596.49,420.77 596.49,420.67 596.72,420.58 596.52,420.59 597.20,420.48 596.93,420.39 597.15,420.78 597.24,420.55 597.22,420.85 598.11,420.73 597.80,420.46 598.12,420.82 597.67,420.56 598.12,420.60 598.17,420.76 598.65,420.57 598.48,420.81 598.83,420.55 598.57,420.86 599.21,420.88 599.29,420.52 598.82,420.48 599.25,420.73 599.50,420.58 599.88,420.80 599.84,420.26 599.84,420.52 599.91,420.73 600.52,420.50 600.24,420.47 600.70,420.50 600.74,420.59 600.17,420.41 600.80,420.57 601.14,420.61 600.72,420.21 601.44,420.17 600.84,420.18 601.44,420.56 601.68,420.13 601.61,420.52 601.94,420.12 601.96,420.33 602.32,420.67 601.77,420.59 602.27,420.26 602.86,420.06 602.26,420.22 602.38,420.25 602.81,420.58 602.80,420.37 602.80,420.10 603.43,420.59 603.01,420.59 602.93,420.21 603.37,420.41 603.61,420.38 603.62,420.46 603.58,420.61 604.06,420.69 603.94,420.18 604.16,420.49 604.20,420.52 604.80,420.36 604.84,420.39 604.84,420.72 605.31,420.52 605.38,420.54 605.06,420.32 604.80,420.69 604.95,420.84 605.18,420.70 605.69,420.92 605.75,420.86 606.05,420.80 605.71,420.59 605.77,420.93 605.96,421.00 605.97,420.52 606.95,420.95 606.78,420.74 607.16,420.65 606.53,420.92 607.20,420.55 607.46,420.55 606.98,420.71 607.19,420.89 607.15,420.88 607.45,421.09 607.40,421.05 608.36,421.02 607.53,420.78 608.27,420.77 608.30,420.67 608.34,420.58 608.43,420.96 608.24,420.92 608.37,421.00 609.37,421.05 609.03,421.04 608.97,420.64 609.25,420.90 608.97,421.00 609.86,420.72 609.67,420.77 609.39,420.45 610.27,420.54 609.73,420.87 609.66,420.90 610.72,420.69 610.82,420.52 610.05,420.69 610.57,420.48 610.99,420.42 611.16,420.36 610.57,420.42 610.72,420.56 611.54,420.55 611.34,420.56 611.51,420.21 611.77,420.24 611.83,420.25 611.75,420.38 611.66,420.55 612.57,420.25 612.59,420.34 612.36,420.67 612.09,420.23 612.24,420.66 612.79,420.43 612.84,420.21 613.04,420.24 612.99,420.44 613.15,420.26 613.00,420.27 613.87,420.30 614.02,420.46 614.19,420.18 614.17,420.47 614.19,420.52 614.38,420.33 614.01,420.29 614.27,420.23 614.29,420.53 614.21,420.76 614.48,420.59 615.16,420.61 614.56,420.69 615.22,420.42 614.79,420.87 615.57,420.66 615.34,420.79 615.59,420.80 615.26,420.88 615.79,420.90 615.59,420.59 616.36,420.50 615.90,420.77 616.02,420.57 616.22,420.49 617.10,420.58 617.04,420.99 616.87,420.68 617.41,420.87 617.26,420.85 617.38,420.53 617.66,420.92 617.72,420.47 617.29,420.62 617.92,420.99 617.51,420.86 618.44,420.91 618.37,420.96 618.55,420.91 618.31,420.76 618.78,420.90 618.42,420.93 618.78,420.98 618.49,420.96 619.29,420.97 619.46,420.54 618.95,420.52 619.11,420.65 619.91,420.66 619.84,420.77 620.03,420.59 620.06,420.82 620.33,420.91 619.71,420.58 620.59,420.72 620.47,420.52 620.79,420.82 620.61,420.31 620.36,420.31 620.79,420.78 620.96,420.65 620.84,420.48 621.59,420.48 621.17,420.64 621.27,420.31 621.57,420.67 622.06,420.64 622.06,420.31 622.32,420.26 621.90,420.34 622.11,420.80 622.76,420.36 622.89,420.58 622.62,420.45 622.76,420.78 622.56,420.80 622.66,420.70 622.63,420.52 623.70,420.30 623.68,420.47 623.35,420.35 623.68,420.25 623.76,420.71 624.30,420.42 624.17,420.73 624.25,420.24 624.71,420.46 624.54,420.41 624.38,420.57 624.80,420.51 624.75,420.74 625.35,420.42 625.33,420.24 625.18,420.61 625.50,420.48 625.60,420.75 625.04,420.66 625.26,420.41 626.14,420.79 625.96,420.31 625.55,420.58 626.37,420.47 626.03,420.62 626.17,420.70 626.42,420.58 626.77,420.84 626.93,420.74 627.34,420.49 627.19,420.70 626.79,420.44 627.58,420.63 627.22,420.76 627.52,420.38 627.29,420.83 627.42,420.75 627.43,420.50 627.88,420.50 628.59,420.90 628.06,420.44 628.07,420.90 628.44,420.54 628.39,420.42 628.64,420.59 628.64,420.94 629.41,420.49 629.46,420.65 629.53,420.76 629.03,420.58 629.47,420.85 629.80,420.73 629.53,420.86 630.29,420.63 629.79,420.73 629.88,420.80 629.79,420.89 630.44,420.93 630.94,420.65 630.37,420.60 630.80,420.49 631.05,420.90 631.31,420.70 630.93,420.52 631.72,420.85 631.57,420.84 631.39,420.93 631.87,421.03 631.64,420.67 631.72,420.95 632.37,420.58 632.15,420.79 632.65,420.87 632.21,420.55 632.41,420.51 632.98,420.77 632.83,420.86 632.95,420.70 633.34,420.62 633.46,420.93 633.42,420.54 633.38,420.89 633.90,420.98 633.95,420.88 634.13,420.81 634.08,420.49 634.11,420.83 633.69,420.56 634.57,420.75 634.09,420.54 634.09,420.50 635.10,420.76 634.61,420.82 634.45,420.74 634.83,420.81 635.25,420.30 635.03,420.37 635.32,420.30 635.81,420.58 635.95,420.26 635.47,420.29 635.72,420.58 636.07,420.39 636.42,420.30 636.59,420.28 636.41,420.62 636.78,420.14 636.63,420.12 636.31,420.35 637.10,420.46 636.90,420.41 637.21,420.36 637.62,420.17 637.68,420.62 637.33,420.59 637.20,420.59 637.38,420.28 638.06,420.26 637.95,420.40 637.81,420.18 638.03,420.21 638.61,420.08 638.44,420.27 638.83,420.08 638.52,420.08 639.08,420.30 639.25,420.55 639.54,420.54 639.47,420.41 639.08,420.03 639.86,420.01 639.76,420.44 639.61,420.18 640.01,420.13 639.81,420.65 639.80,420.09 640.65,420.30 640.33,420.59 640.11,420.19 640.90,420.24 641.24,420.45 641.17,420.74 641.32,420.50 640.73,420.32 641.26,420.61 641.13,420.42 641.91,420.33 642.07,420.77 641.69,420.96 641.76,420.84 642.34,420.91 641.64,420.53 642.34,420.61 641.88,420.73 642.79,421.02 642.17,420.83 642.78,421.10 642.70,420.63 643.39,420.99 643.26,420.92 642.99,420.77 643.26,421.21 643.59,420.74 643.32,420.76 643.84,420.97 644.08,421.09 643.57,420.98 643.68,421.15 644.15,421.00 644.59,421.13 644.65,420.87 644.60,421.13 645.16,420.80 644.44,421.07 645.49,420.84 645.02,420.83 645.57,421.15 645.62,421.05 645.09,420.68 645.93,421.22 645.30,420.64 646.31,420.75 646.17,420.72 646.26,421.12 646.01,421.09 645.89,420.61 646.10,420.95 646.83,421.06 647.06,420.56 646.89,420.53 647.29,420.47 647.54,420.91 647.60,420.36 647.70,420.67 647.62,420.61 647.92,420.64 647.30,420.31 647.67,420.57 647.51,420.46 647.65,420.65 648.56,420.68 648.00,420.44 648.21,420.54 648.24,420.39 648.80,420.70 648.47,420.31 649.35,420.53 648.73,420.59 649.05,420.29 649.02,420.51 649.98,420.41 649.13,420.50 649.36,420.08 649.97,420.44 649.96,420.34 650.24,420.26 650.67,420.41 650.67,420.46 650.84,420.56 650.16,420.44 651.10,420.42 651.25,420.27 651.44,420.13 651.33,420.29 651.05,420.17 651.20,420.23 651.44,420.09 651.78,420.62 652.01,420.60 652.37,420.54 651.77,420.50 652.04,420.20 651.98,420.06 652.80,420.59 652.77,420.26 653.01,420.53 652.78,420.55 653.20,420.14 653.13,420.27 653.16,420.30 652.91,420.67 653.52,420.41 653.94,420.42 654.04,420.35 654.22,420.52 653.59,420.17 654.41,420.29 653.89,420.14 654.74,420.57 654.31,420.25 654.69,420.56 654.88,420.61 654.51,420.32 655.07,420.20 654.76,420.32 655.27,420.78 655.41,420.57 655.57,420.59 655.06,420.42 655.14,420.30 655.39,420.49 655.87,420.36 656.19,420.89 656.39,420.49 655.85,420.45 656.28,420.55 656.44,420.80 656.22,420.84 656.59,420.99 656.41,420.95 656.73,420.97 657.43,421.01 657.03,420.92 657.06,420.55 657.16,421.11 657.71,420.98 657.43,421.01 657.47,420.72 657.88,421.24 658.19,421.07 657.81,420.83 658.73,420.72 658.96,420.81 658.85,420.96 659.04,420.84 658.74,420.92 658.61,421.10 659.42,420.94 659.13,420.97 659.10,421.26 659.22,420.93 659.49,421.04 659.72,421.19 659.43,421.33 660.34,421.20 659.65,420.93 659.87,421.04 660.59,421.04 660.12,420.80 660.30,421.02 660.69,420.85 660.44,420.76 660.97,420.88 661.18,421.19 660.97,420.65 661.44,421.02 661.96,421.06 661.24,421.02 661.77,421.03 661.55,420.57 661.71,420.91 661.89,420.40 662.21,420.87 661.95,420.71 662.32,420.51 662.79,420.32 662.37,420.37 662.86,420.71 662.51,420.18 663.14,420.43 663.22,420.02 663.41,420.41 663.50,420.07 663.78,420.26 664.05,419.96 664.12,420.41 663.87,420.33 663.81,420.34 664.35,419.91 663.96,420.30 664.04,419.87 664.27,419.99 665.00,419.84 665.31,420.06 665.18,419.95 665.57,419.72 665.23,419.85 665.82,420.02 665.99,420.02 665.34,420.11 665.45,420.25 665.83,420.36 666.46,419.92 666.03,420.00 666.42,420.03 666.25,419.87 666.83,419.98 666.73,419.91 666.70,420.09 667.09,420.30 666.74,420.08 667.59,420.10 666.89,420.15 667.46,420.41 667.06,420.66 667.29,420.31 667.70,420.55 668.26,420.48 668.36,420.66 667.89,420.87 668.16,420.89 668.79,420.39 668.02,420.45 668.41,420.59 669.12,421.02 668.90,420.72 669.31,420.99 669.14,420.90 668.99,420.59 669.46,420.94 669.90,421.04 669.32,421.15 670.15,420.63 669.56,420.93 669.76,421.01 669.99,420.75 670.43,420.92 670.62,420.65 670.47,420.98 670.92,421.01 670.73,420.61 671.08,421.01 670.68,420.99 671.41,421.17 671.18,420.73 671.08,421.16 671.96,420.82 671.36,421.11 671.61,421.00 672.14,420.95 671.72,420.62 671.89,420.66 671.89,420.55 672.30,420.76 672.58,420.56 672.70,421.07 672.95,420.71 672.55,420.75 672.52,420.78 672.79,420.89 673.71,420.70 673.71,420.94 673.63,420.86 674.09,420.89 674.02,420.59 673.63,420.65 674.10,420.96 674.50,420.98 673.95,420.82 674.41,420.48 674.27,420.91 674.13,420.51 674.95,420.58 674.60,420.48 675.21,420.63 674.64,421.07 675.68,420.54 675.02,421.06 675.52,420.67 675.54,420.66 675.51,420.75 675.46,420.50 675.59,420.55 676.32,420.82 676.54,420.60 676.22,420.87 676.50,420.60" fill="none" stroke="#7e2f8e" stroke-width="2.4" stroke-linejoin="round" /><line x1="426.4" y1="440" x2="426.4" y2="424.6" stroke="#7e2f8e" stroke-width="1.2"/><line x1="427.9" y1="438" x2="427.9" y2="426.6" stroke="#7e2f8e" stroke-width="1.2"/><line x1="494.3" y1="409" x2="494.3" y2="398" stroke="#7e2f8e" stroke-width="1.2"/><polyline points="404.16,435.54 403.09,434.97 403.28,434.60 404.68,436.78 403.23,436.63 405.11,435.97 404.49,434.90 404.70,436.67 404.88,436.48 404.93,437.39 404.91,439.67 404.01,435.44 404.98,439.97 406.02,435.78 405.71,437.96 404.95,439.68 406.26,436.77 406.16,435.56 406.13,435.38 406.78,438.79 406.01,439.61 405.43,436.02 406.27,437.91 407.18,435.38 406.91,437.85 406.12,436.27 406.44,435.14 406.73,436.60 407.67,437.24 406.48,440.16 406.59,437.41 408.33,438.94 408.04,436.38 406.66,436.96 407.44,439.59 407.75,436.29 407.82,436.66 407.97,437.88 407.83,438.71 407.55,435.97 408.55,436.05 409.25,437.49 409.17,438.32 408.01,441.00 408.29,435.62 409.28,437.70 408.96,439.72 408.39,440.97 408.93,440.25 408.70,440.48 410.27,440.99 410.04,441.14 410.95,436.59 409.30,438.07 410.25,438.98 409.69,438.24 410.67,436.27 409.88,438.12 411.21,438.04 410.82,439.57 410.73,437.76 410.53,436.81 410.47,438.03 411.80,439.58 410.55,438.93 411.50,437.53 412.69,436.00 411.89,439.69 411.41,439.39 412.18,436.71 412.55,439.57 412.61,435.42 413.00,440.45 413.60,440.53 412.35,436.57 413.84,438.36 413.89,437.35 413.17,440.02 414.17,438.74 412.98,439.61 412.90,439.94 414.55,437.25 413.38,439.91 414.11,436.77 414.38,439.85 414.59,440.36 414.47,439.70 414.24,437.12 414.57,437.82 414.17,439.76 415.23,435.44 414.73,436.57 415.67,435.70 414.72,436.57 415.27,439.54 416.16,436.59 415.23,437.34 416.22,440.44 415.26,439.22 416.08,439.60 415.75,439.69 416.72,439.43 416.57,437.24 417.37,439.44 417.09,440.24 416.86,435.87 415.94,438.95 417.63,437.72 417.86,440.22 417.35,435.68 417.57,440.03 416.47,436.99 418.23,440.37 417.37,438.91 418.39,439.91 418.09,439.35 417.61,437.10 417.79,437.34 417.49,438.27 418.09,439.42 418.02,436.30 418.50,437.61 417.96,439.83 418.48,436.72 419.51,436.48 418.24,436.12 419.74,438.65 419.51,440.17 420.28,437.40 419.60,439.71 420.64,438.75 420.75,441.20 419.67,436.37 419.48,437.92 419.39,439.92 420.56,440.63 420.35,439.10 420.80,440.91 421.61,440.69 421.86,439.54 420.75,438.41 421.20,440.39 421.63,437.38 420.65,438.31 421.52,440.33 421.71,441.07 421.35,440.86 421.95,436.81 422.67,439.87 421.39,439.18 421.34,437.74 423.28,437.59 422.92,437.43 421.93,438.94 421.93,439.28 423.05,436.43 423.95,436.08 423.40,437.71 422.49,440.70 422.47,440.85 423.83,438.59 423.36,440.70 424.07,440.44 423.23,437.77 423.75,436.38 423.89,436.96 424.02,439.51 423.47,438.46 424.94,435.69 424.27,439.84 424.24,435.00 424.63,436.79 424.62,437.88 425.72,438.32 425.75,439.04 424.92,437.89 425.10,439.30 425.54,439.37 425.77,438.04 425.58,438.14 426.50,437.69 426.35,436.45 426.21,436.95 426.49,436.52 425.87,438.32 427.29,435.14 427.36,434.80 426.33,438.54 426.53,437.84 426.54,439.20 426.35,434.90 426.82,438.27 428.48,436.00 428.12,438.36 428.06,437.46 428.52,434.30 428.73,436.08 428.97,436.57 429.24,434.26 428.42,434.80 429.50,436.97 429.61,438.31 428.63,439.38 428.19,435.16 429.93,435.36 428.84,432.16 429.59,428.82 429.79,423.77 428.58,420.44 429.63,416.59 429.23,417.67 430.29,412.76 430.07,411.99 429.97,414.44 430.67,411.84 429.78,415.47 430.84,416.42 431.22,417.04 431.22,414.44 431.22,413.21 430.73,411.53 431.94,414.98 432.11,416.57 432.36,418.26 431.78,416.36 431.12,415.27 432.02,418.23 431.41,412.84 432.50,413.41 431.58,416.71 432.43,417.55 432.32,413.99 431.83,420.30 432.87,413.85 433.65,419.10 433.47,415.37 432.83,413.01 433.51,419.41 433.50,415.93 433.53,416.33 434.51,419.79 434.19,413.96 434.02,420.41 433.68,416.63 434.22,416.53 433.41,417.66 433.86,421.03 433.83,417.19 433.71,417.95 434.45,415.43 434.78,415.27 434.92,413.97 435.32,419.48 436.09,421.01 435.25,416.80 436.20,419.28 435.90,417.40 435.72,418.71 435.61,417.16 435.89,416.67 435.38,419.73 437.04,413.86 436.71,417.26 436.91,420.76 437.47,417.78 436.58,418.29 436.13,414.51 437.73,419.77 437.12,416.04 437.41,418.82 438.14,415.37 437.87,417.77 437.44,418.96 437.07,419.09 438.12,417.79 437.53,418.50 437.27,414.67 437.56,414.19 438.46,417.32 438.32,419.24 437.63,419.79 437.94,416.21 438.97,417.67 438.83,418.27 438.73,416.45 438.59,414.22 439.46,417.51 440.14,414.22 438.83,413.62 439.37,417.26 440.20,417.84 440.52,418.44 440.43,417.33 439.45,416.85 439.69,413.90 440.00,417.00 440.91,417.95 440.00,420.92 439.83,421.20 441.92,420.58 441.67,416.17 441.32,417.30 442.21,420.18 440.89,415.54 441.76,420.58 441.14,420.42 441.14,419.95 441.53,414.18 441.85,420.50 441.78,416.51 442.21,413.53 442.12,416.90 442.19,418.75 443.52,420.70 442.03,417.46 443.19,417.27 442.93,417.95 444.19,418.50 442.41,418.28 443.70,417.66 444.45,416.98 442.73,413.09 443.03,418.28 444.58,413.70 444.84,415.40 444.53,418.75 443.49,415.31 445.19,420.00 444.59,419.50 444.96,414.61 444.21,415.74 444.77,413.48 444.61,413.82 446.07,420.20 445.35,419.57 444.78,418.71 446.53,417.70 446.68,419.07 445.44,417.90 445.50,413.36 446.14,419.57 446.81,418.08 445.61,415.66 446.66,420.23 446.98,413.76 447.23,419.11 446.38,414.70 447.30,419.27 448.02,416.47 448.00,416.21 447.25,415.02 447.85,421.60 448.36,419.89 447.81,418.98 447.90,420.56 448.49,421.64 447.67,414.45 447.45,421.24 448.51,414.71 449.43,419.95 448.85,422.07 448.78,420.16 449.23,421.38 449.22,415.98 448.77,415.47 450.06,417.71 449.10,416.93 448.88,419.63 449.19,418.88 450.31,420.91 450.59,419.84 450.47,419.12 449.88,416.01 451.00,417.77 450.11,419.14 451.39,420.47 451.21,421.78 451.34,420.46 450.63,419.62 450.51,417.61 451.11,417.76 450.71,422.08 450.88,418.18 450.61,418.92 452.33,420.09 451.45,422.54 452.32,416.22 451.37,421.22 452.45,415.23 452.28,417.96 453.13,419.56 452.01,415.69 452.99,414.85 453.45,415.21 452.89,419.91 453.73,416.82 453.28,415.41 453.56,421.87 452.59,414.73 453.96,416.86 454.53,415.45 453.89,422.36 454.14,422.27 453.81,415.52 454.00,414.19 454.06,423.29 454.09,420.18 454.17,420.25 454.45,422.55 454.61,416.38 454.54,414.52 454.81,420.90 454.60,418.10 456.02,421.72 454.38,417.74 456.25,417.91 455.09,420.06 456.53,414.81 456.11,414.55 455.37,419.50 456.86,418.01 455.41,423.34 455.90,414.05 457.37,414.22 456.37,414.49 456.69,421.93 456.01,415.93 456.63,415.85 457.01,421.79 456.79,418.94 458.25,417.53 457.92,414.70 457.48,416.59 457.46,420.47 457.87,418.24 457.17,418.18 457.90,417.28 457.84,417.52 458.88,417.79 457.67,414.17 458.80,418.59 457.84,421.11 459.11,413.52 459.01,415.49 458.32,416.24 458.90,418.80 460.14,418.09 460.21,417.61 459.01,416.02 459.37,416.93 459.14,419.78 459.46,419.60 459.58,416.66 459.55,414.26 459.60,421.43 460.45,420.74 460.01,420.22 461.14,417.62 461.13,415.26 460.86,419.95 461.37,412.94 461.18,418.72 461.11,419.04 461.39,416.01 460.79,413.31 462.55,417.21 462.71,413.89 461.86,414.85 461.16,412.85 463.04,416.43 461.66,416.75 461.78,417.30 463.15,416.39 462.41,416.20 462.48,416.10 463.48,414.32 462.52,417.33 462.36,417.12 463.57,418.65 463.41,420.14 462.95,423.27 463.90,417.73 463.51,419.74 464.05,422.52 464.53,421.69 464.30,420.95 463.72,425.82 464.75,422.06 463.83,424.86 464.31,419.97 464.32,424.88 464.86,420.01 465.52,421.36 465.78,428.48 465.21,425.63 465.40,421.01 465.25,425.30 466.66,424.37 465.42,424.10 466.89,424.72 466.08,421.34 466.33,429.46 466.06,423.76 465.79,426.97 467.04,429.19 466.10,428.87 466.54,421.30 467.08,425.14 466.22,426.46 466.58,429.13 466.65,422.79 466.85,424.44 467.36,427.26 467.51,422.30 468.00,428.16 468.20,421.81 468.19,425.37 467.56,427.52 468.94,427.07 468.30,428.88 469.07,423.06 469.72,429.51 468.54,426.12 468.33,428.83 469.86,426.48 469.76,425.76 469.81,424.63 469.89,422.82 469.00,422.16 469.42,421.98 470.30,421.00 470.70,428.46 470.14,421.22 470.42,421.94 471.31,420.91 469.87,424.50 470.27,424.13 470.60,424.66 470.53,428.57 471.13,421.14 470.86,424.45 471.96,428.38 470.68,423.82 472.13,427.61 471.45,427.93 471.82,422.25 472.37,424.59 472.95,421.41 471.73,424.58 471.41,425.06 472.48,426.84 471.63,421.75 473.25,424.37 473.69,421.96 472.93,424.89 472.73,427.74 472.90,425.56 473.33,422.69 472.59,427.47 472.63,423.02 472.78,423.10 474.13,426.17 474.37,427.40 474.26,422.47 474.02,420.96 475.21,420.50 473.91,424.92 474.31,423.87 475.00,426.62 475.02,425.14 475.04,420.74 474.77,426.21 474.77,419.54 475.41,419.63 474.62,423.21 475.03,426.23 474.95,422.90 475.92,423.52 474.93,424.92 475.33,420.59 476.77,421.75 476.75,425.97 475.45,423.69 476.55,421.55 476.41,425.01 476.40,422.79 476.77,423.34 477.87,422.08 477.48,423.94 477.76,425.83 477.90,421.20 477.57,423.94 478.32,424.57 477.36,421.40 477.09,423.24 477.43,425.15 478.71,421.48 477.79,425.88 478.74,420.01 478.33,423.72 479.59,420.37 479.50,419.77 478.40,420.78 478.30,420.77 478.55,421.95 478.98,416.97 478.51,419.46 479.13,417.56 480.64,415.56 478.89,410.86 480.39,410.29 479.75,408.46 480.96,412.17 479.79,410.60 480.12,407.42 481.27,407.47 480.75,407.17 481.25,407.11 481.43,403.87 481.83,403.62 480.43,405.04 481.59,402.89 481.31,403.22 482.01,403.04 480.80,408.45 482.18,406.79 482.94,406.41 482.92,404.79 481.70,406.29 481.59,404.56 481.95,407.77 483.18,406.62 483.06,404.43 482.74,407.23 482.87,407.92 482.32,403.71 483.71,403.72 482.67,406.10 482.53,409.02 483.59,406.70 483.96,408.67 483.33,408.39 484.57,406.34 484.60,405.31 483.95,405.61 484.75,404.69 483.59,409.42 483.77,404.34 484.78,404.08 485.28,406.68 485.71,403.84 485.70,404.32 485.30,405.66 486.22,408.61 484.64,406.67 486.07,405.18 486.55,408.56 485.10,406.85 485.87,405.06 485.84,404.13 486.72,405.32 486.55,406.36 486.97,405.28 485.81,406.99 485.99,409.48 486.07,405.05 487.74,408.71 487.68,406.50 487.99,408.77 487.70,409.76 486.59,407.51 488.64,405.02 488.66,407.09 488.54,405.08 488.49,408.88 489.14,405.71 489.27,405.88 487.58,409.90 488.34,404.21 488.45,405.47 489.28,404.93 489.10,404.38 488.70,405.93 488.19,407.77 489.21,408.74 490.05,408.68 488.55,409.86 489.35,405.54 489.38,407.40 489.91,406.68 489.20,408.88 489.63,406.28 490.00,406.62 491.28,405.40 489.61,403.82 490.09,408.62 491.06,409.86 491.82,409.27 491.97,408.74 490.57,404.94 490.29,403.93 491.83,409.04 490.83,405.73 491.69,404.40 490.79,410.26 492.31,407.43 491.36,405.36 492.73,409.77 493.20,405.89 493.10,406.66 492.47,408.31 491.86,406.09 493.25,406.11 492.54,405.80 492.21,405.80 493.47,409.37 493.98,407.72 493.25,407.60 493.00,409.25 494.63,408.54 493.27,404.43 494.38,406.02 493.85,407.04 494.01,409.56 493.36,405.08 495.42,410.50 494.75,410.99 495.60,408.92 494.53,409.53 494.45,410.75 494.48,410.52 494.99,409.71 496.00,412.61 495.50,410.27 494.82,414.58 496.03,412.39 496.68,413.37 496.36,412.71 495.67,416.19 495.84,417.63 496.40,414.90 496.67,415.48 496.62,416.94 497.13,421.88 497.47,420.31 497.16,420.20 498.10,423.98 497.53,419.07 498.09,424.33 496.75,423.58 497.18,423.65 497.02,424.90 498.79,423.04 498.61,424.82 497.95,425.18 499.09,424.59 498.78,421.22 499.50,425.63 497.77,422.69 498.76,422.86 498.41,423.90 498.24,418.52 499.46,420.43 500.05,419.44 498.71,421.54 499.45,418.55 499.08,415.75 499.68,417.53 499.07,415.66 500.86,417.10 500.94,413.97 501.19,414.64 501.38,416.72 501.07,411.92 499.80,411.51 500.39,413.58 501.00,414.94 501.12,411.17 500.25,411.70 501.55,413.14 502.15,411.87 500.63,411.70 501.99,410.77 502.02,410.12 501.15,410.75 502.70,407.73 503.10,407.27 502.49,409.57 501.62,408.02 502.69,405.23 503.05,403.23 502.16,405.47 502.90,405.76 502.57,402.05 503.31,402.18 503.21,403.46 502.59,405.00 503.54,404.20 503.31,400.08 504.89,399.93 503.61,401.32 504.96,399.15 504.97,398.51 503.43,398.35 505.34,395.97 505.37,400.86 503.81,398.04 504.40,397.53 505.77,396.54 505.56,394.45 504.36,393.57 505.15,393.04 506.01,392.49 505.63,393.90 505.93,392.13 505.14,390.46 505.63,390.79 505.72,394.46 506.23,390.10 506.12,388.34 506.68,391.67 506.56,392.82 506.04,390.28 507.68,389.83 506.14,389.77 507.66,388.07 508.10,385.16 507.66,389.52 507.51,388.99 507.62,387.84 507.15,387.73 507.49,384.71 508.78,385.75 508.21,384.57 507.57,386.65 508.72,381.95 508.59,384.77 509.27,380.64 507.83,381.65 509.54,378.66 508.27,379.09 509.72,378.39 509.06,376.75 509.22,380.57 508.77,377.52 509.19,375.22 509.29,375.23 509.43,373.72 510.93,376.11 510.19,374.02 510.08,372.35 510.14,371.97 511.37,370.98 510.00,374.25 510.68,369.05 511.71,370.32 511.82,368.84 511.21,372.19 511.92,371.48 512.19,366.72 511.42,370.65 510.80,369.23 512.78,369.15 512.74,369.18 512.34,367.17 512.10,365.16 511.67,364.61 512.16,362.12 511.75,366.70 512.85,362.96 513.64,364.81 512.97,363.36 512.65,364.48 513.09,362.26 513.06,361.01 514.26,360.98 512.76,362.67 513.19,359.71 513.99,361.88 513.84,359.58 513.99,357.00 514.93,357.32 514.03,358.93 514.00,356.56 514.96,358.90 514.14,356.78 515.66,358.04 514.50,353.63 514.27,356.58 515.01,354.27 515.38,354.92 515.04,352.99 514.68,352.27 516.08,350.42 515.23,352.05 516.18,352.23 515.90,350.41 515.77,350.90 516.58,350.23 517.27,349.19 516.05,350.08 516.08,351.45 515.97,351.05 516.40,351.76 517.23,348.32 517.17,350.36 517.39,348.69 517.65,350.53 518.36,347.55 517.92,347.04 517.52,347.22 518.19,346.09 519.16,346.19 519.13,349.02 519.17,347.55 518.53,345.68 518.77,348.22 518.33,345.36 518.02,347.83 519.54,344.23 519.32,345.28 518.80,344.73 520.35,347.96 519.51,347.41 520.16,344.40 520.39,345.36 520.20,345.66 520.31,345.98 520.18,345.98 520.37,344.93 519.68,349.12 519.84,345.50 521.20,346.00 520.50,349.43 520.22,347.07 521.62,347.94 521.06,350.42 520.70,350.28 521.81,350.97 521.55,348.10 522.36,350.55 522.28,349.00 521.30,351.94 521.55,348.50 523.13,351.61 523.12,351.82 522.57,350.97 522.41,351.36 521.76,352.42 522.37,350.31 522.28,351.09 522.51,350.27 522.93,350.71 523.85,354.08 523.01,351.61 522.69,352.44 524.17,355.48 523.30,353.95 522.95,354.33 523.99,353.52 523.96,354.56 524.93,357.78 523.82,358.40 525.43,360.15 524.82,357.37 524.71,356.90 525.60,359.62 524.30,358.15 524.79,360.42 525.77,358.95 526.13,359.71 524.85,363.64 525.80,364.56 525.53,363.57 525.61,363.89 525.66,364.14 525.37,366.46 525.92,367.48 525.55,368.39 525.96,368.91 527.12,367.72 526.59,367.78 526.79,368.05 526.93,368.59 526.24,368.83 527.18,372.61 527.53,369.90 528.57,372.06 526.84,371.14 528.68,373.10 527.40,372.33 528.79,374.09 528.10,375.77 529.22,377.95 528.92,379.35 527.97,378.60 528.82,382.80 528.61,382.01 529.15,381.85 528.44,384.23 528.85,381.74 528.77,387.88 528.58,385.57 530.33,386.24 529.37,389.76 529.72,391.73 529.58,392.26 531.08,389.80 530.09,393.10 530.31,394.43 530.95,395.86 530.77,393.17 530.65,398.27 531.55,395.92 530.13,397.65 530.51,398.81 530.68,398.17 531.49,400.72 530.78,399.22 531.89,402.66 530.81,400.61 532.04,401.66 531.50,402.12 531.31,404.52 533.13,407.22 532.40,407.78 532.23,410.36 531.94,410.99 533.07,407.74 533.72,408.51 532.30,410.39 533.59,414.06 533.39,413.05 532.81,413.89 533.95,413.43 533.71,416.61 533.88,416.09 533.32,414.99 534.68,415.33 534.65,418.60 534.49,420.46 533.57,418.46 533.66,420.36 535.29,422.71 534.43,420.00 535.40,422.56 535.84,422.99 535.23,422.43 534.63,421.52 534.91,421.24 535.89,421.92 536.42,419.73 536.06,419.96 534.92,419.31 535.90,420.24 535.41,421.99 536.10,421.16 535.54,421.08 537.26,418.31 536.32,417.14 536.24,415.99 536.20,415.87 537.85,417.22 536.79,414.50 537.31,415.20 538.18,415.26 536.62,415.77 538.15,413.11 537.44,414.65 537.01,414.56 537.96,411.51 538.44,410.42 539.14,409.10 537.77,411.97 538.62,411.93 539.60,411.11 539.57,407.42 538.14,406.37 538.77,405.99 539.46,406.52 539.56,404.54 539.25,405.56 539.36,406.56 538.68,401.89 539.51,402.54 540.29,403.01 539.36,399.81 539.75,398.83 540.78,398.79 539.57,398.99 540.03,400.31 541.12,400.19 540.21,397.36 540.80,394.51 541.09,397.27 541.58,395.69 541.82,395.06 541.79,395.86 541.17,392.95 541.05,394.46 541.47,390.06 540.90,389.67 541.83,391.19 541.95,387.24 543.25,389.96 542.51,388.18 543.16,384.48 543.40,388.38 542.53,385.79 543.50,383.40 542.07,381.77 543.66,379.98 542.53,384.31 544.17,380.31 542.97,380.01 544.63,380.77 543.85,375.90 543.89,377.09 543.78,377.24 544.35,375.64 544.00,377.18 545.29,376.19 544.99,374.04 544.43,374.23 544.76,372.00 545.54,368.90 544.88,367.75 545.56,368.95 545.50,366.22 545.61,365.04 546.40,367.64 546.22,363.35 545.30,367.08 546.54,365.98 545.93,362.06 546.98,363.03 545.81,361.78 545.92,358.62 546.09,359.33 546.41,358.65 545.79,355.76 546.71,357.72 547.92,359.05 546.33,357.05 548.03,359.65 548.07,359.49 547.28,356.25 548.34,359.66 547.40,358.99 548.45,359.59 547.67,358.27 547.50,358.88 547.33,359.00 547.91,360.19 549.22,362.48 548.82,360.00 549.09,361.40 549.81,361.73 549.96,362.96 549.31,364.06 549.96,361.35 549.40,364.88 549.31,364.78 549.77,364.94 548.88,363.00 549.69,363.99 550.67,365.23 550.59,364.16 549.52,363.75 551.25,366.58 550.07,363.29 550.25,364.85 550.13,363.91 551.80,363.86 550.26,360.66 551.59,360.65 551.21,359.72 551.61,362.52 550.87,359.80 551.71,359.95 551.74,358.15 552.54,357.60 552.21,358.23 552.08,355.77 553.15,358.33 552.48,355.20 553.34,355.51 552.86,355.83 552.88,354.27 552.26,355.78 554.04,351.62 552.74,355.16 553.61,354.94 552.95,354.44 553.07,353.84 553.18,352.17 553.05,350.22 553.94,352.33 553.49,349.85 554.24,348.59 554.20,350.58 553.62,347.51 554.58,348.41 555.37,347.92 554.47,344.57 554.72,346.85 554.56,346.62 555.20,344.74 555.94,343.92 556.40,344.26 556.39,344.54 555.12,346.42 556.65,346.47 555.70,344.36 556.12,345.87 555.60,348.11 556.51,348.86 555.86,350.40 557.45,349.22 556.32,350.99 557.58,352.47 556.47,352.59 557.44,352.05 556.87,353.02 557.15,352.11 558.03,355.47 556.65,354.82 558.02,354.93 557.77,354.61 557.34,356.69 557.65,355.59 559.14,359.87 558.71,356.27 558.32,360.69 558.41,360.10 559.04,362.23 558.79,360.13 559.54,363.51 559.82,360.24 559.99,361.91 559.79,364.74 559.11,363.26 560.38,363.38 559.64,363.76 560.68,367.02 560.77,363.28 560.78,366.42 561.27,364.71 559.84,369.14 560.47,367.57 560.92,369.12 559.90,369.87 560.62,369.47 561.95,368.06 561.31,368.68 561.33,372.18 561.54,369.62 560.87,370.03 561.47,370.29 562.75,374.31 561.68,375.15 562.63,371.15 563.01,375.00 563.13,372.25 563.24,376.67 563.38,373.25 562.77,374.25 562.99,375.62 563.79,376.91 563.62,375.28 562.86,378.40 562.90,380.24 563.38,380.42 564.40,379.51 563.17,381.41 563.70,378.83 564.97,379.79 564.90,381.52 564.96,384.55 563.71,382.19 563.97,383.01 565.14,384.84 564.46,386.42 565.33,386.09 564.37,386.26 564.83,387.49 565.75,386.32 566.10,389.21 566.46,389.72 565.27,389.64 566.50,387.67 566.01,387.53 565.74,387.75 565.66,390.66 565.89,391.58 565.91,393.47 567.29,393.62 565.91,390.93 567.54,393.27 566.60,393.83 566.09,391.60 566.94,394.01 566.29,392.84 568.01,396.01 568.19,396.13 568.00,396.85 568.70,397.13 567.90,399.55 568.35,399.60 569.02,396.94 568.27,397.99 568.33,399.66 569.01,401.49 569.62,401.19 569.09,402.33 568.06,402.87 569.70,403.15 568.51,404.16 570.22,401.06 569.90,403.28 568.81,405.35 569.15,402.51 569.89,403.65 569.72,406.06 569.13,405.92 570.86,403.48 570.56,403.56 569.90,406.65 571.00,407.49 570.30,404.38 570.02,404.42 570.84,404.89 570.76,405.40 570.34,404.71 570.74,408.68 572.08,406.13 571.61,406.74 572.08,408.62 572.15,408.16 572.17,408.38 572.47,411.03 572.96,407.66 572.49,408.67 571.99,409.77 572.92,407.84 572.23,410.18 571.97,410.36 573.60,409.12 572.67,412.59 573.21,409.06 572.72,410.21 573.00,409.42 573.26,410.87 574.04,414.37 574.72,413.68 574.88,413.42 574.67,415.03 574.31,413.74 574.91,414.62 574.34,412.17 575.23,413.99 575.27,412.80 574.53,416.16 574.90,412.73 576.03,416.62 574.89,415.80 575.74,413.29 575.07,413.08 576.38,417.62 576.12,414.58 575.21,415.64 575.89,418.06 576.28,418.03 575.30,416.40 576.23,417.83 577.26,417.64 575.83,415.46 576.43,416.49 577.72,417.89 577.39,415.33 577.00,415.92 577.33,418.70 578.08,417.41 577.22,416.69 578.38,420.57 578.31,418.15 577.81,418.79 579.00,418.76 577.74,418.81 579.03,419.93 577.89,417.18 577.90,417.93 578.48,418.86 579.01,421.06 578.90,421.69 579.08,421.22 578.31,420.21 578.61,418.67 580.43,418.22 580.07,419.25 579.54,422.27 580.27,419.71 580.41,424.06 579.77,424.05 579.85,422.22 579.64,425.61 581.44,426.54 581.48,427.68 579.95,425.14 581.01,428.06 581.24,428.51 580.74,429.23 581.06,428.23 580.87,431.53 581.14,430.85 582.54,431.93 580.75,432.59 582.82,433.78 581.26,434.06 582.44,433.68 581.56,434.62 581.44,432.24 583.19,433.11 583.05,431.20 582.69,431.73 583.06,430.77 583.98,430.62 582.25,429.50 583.54,427.74 582.71,428.09 582.67,425.91 584.16,426.79 582.82,427.61 584.80,427.12 583.43,422.97 583.77,426.59 583.29,424.98 585.12,424.82 583.58,424.38 585.56,420.29 585.59,423.55 584.42,420.20 584.20,421.61 584.34,423.28 584.58,422.43 585.40,422.87 585.54,423.91 585.38,423.47 585.89,422.82 585.22,420.07 585.44,419.14 585.55,421.84 587.23,419.96 587.39,421.29 585.61,419.08 586.37,421.38 586.68,419.78 586.85,419.59 586.26,422.61 587.39,423.15 587.16,420.70 587.67,421.69 587.14,419.19 588.37,419.82 587.29,421.12 588.77,420.31 587.33,420.33 589.07,419.59 587.89,420.28 588.14,424.35 587.91,424.03 588.09,422.11 589.79,421.21 589.06,422.52 588.06,423.47 589.23,423.83 588.75,420.52 589.03,420.51 588.68,423.28 589.28,420.65 589.60,420.50 589.38,422.79 590.01,422.95 589.93,423.01 590.98,422.90 590.31,421.13 590.66,425.38 591.10,424.90 590.56,421.94 591.04,421.22 591.83,423.71 591.27,425.10 590.35,425.49 591.75,424.67 590.59,424.41 591.80,423.82 591.65,421.89 592.68,421.87 591.33,423.43 592.58,423.62 592.92,422.85 593.05,424.18 592.51,423.34 593.14,425.20 592.24,425.89 593.24,423.99 593.85,422.19 592.20,425.43 594.08,425.35 593.48,422.64 593.47,426.15 594.06,425.18 594.80,422.90 593.11,425.37 593.21,422.13 595.17,422.80 594.30,425.68 595.10,425.69 594.84,423.73 595.35,421.56 595.78,424.36 595.30,421.71 594.42,422.67 594.64,421.32 595.05,425.20 594.95,426.13 595.28,422.07 595.63,425.89 596.12,425.26 595.24,422.86 596.31,425.22 596.50,422.36 595.89,421.47 596.75,423.63 595.66,421.94 596.24,422.43 597.77,424.23 597.58,424.53 596.08,422.46 596.29,422.66 598.11,423.64 597.09,421.51 596.80,423.41 598.20,423.81 597.41,422.73 598.80,423.87 599.04,424.59 597.89,423.45 599.22,420.73 599.17,421.20 599.07,421.07 597.99,423.39 598.25,425.23 598.05,424.16 598.07,421.32 598.67,422.36 599.94,424.35 598.74,424.90 600.00,423.55 599.56,423.51 599.23,424.64 600.66,421.09 600.24,424.72 600.63,423.19 599.73,422.50 600.61,421.26 600.63,423.49 600.88,423.66 600.97,423.19 601.00,424.41 601.31,423.23 601.45,420.94 601.66,424.52 602.35,422.80 601.60,423.05 601.98,422.07 602.03,421.72 602.71,420.80 602.54,420.59 602.89,424.86 601.92,422.32 602.77,422.84 603.33,424.22 602.77,421.82 602.96,420.15 602.72,424.74 603.55,425.00 603.78,423.93 603.79,420.34 604.09,423.40 602.99,420.76 604.69,422.06 603.88,420.23 603.52,421.29 604.39,424.84 603.93,424.69 603.68,423.76 604.72,424.09 604.70,424.49 604.13,422.63 605.23,424.21 604.41,422.10 605.87,419.88 605.66,422.00 606.06,423.57 605.04,422.21 605.59,421.87 606.67,423.90 606.53,420.62 606.07,424.41 605.62,424.17 607.05,422.55 607.06,421.36 606.51,420.76 606.96,424.28 605.85,423.84 606.96,423.80 607.71,421.86 606.50,422.65 606.27,421.24 606.64,422.83 607.52,421.07 606.69,421.24 607.79,422.98 608.56,423.95 608.66,424.29 607.96,422.80 607.84,420.99 609.16,423.43 608.72,423.46 607.61,420.35 609.16,421.01 607.89,421.37 607.96,422.54 609.03,423.77 610.17,423.09 608.71,422.49 609.98,421.58 609.06,420.33 608.92,422.68 610.37,422.74 609.11,424.71 610.37,423.65 609.21,422.25 610.26,423.76 610.02,423.48 610.27,424.98 611.34,423.04 611.17,420.75 611.36,423.72 611.71,421.97 611.42,420.90 610.48,423.73 611.34,424.44 611.47,424.89 611.61,424.04 611.37,423.85 612.35,421.00 612.09,421.88 611.87,423.55 612.06,422.49 612.95,423.87 611.61,420.69 612.85,420.90 612.81,422.41 612.27,420.63 613.61,422.63 613.45,421.14 613.52,423.97 614.04,422.43 613.46,422.04 612.93,423.85 613.94,421.62 613.98,424.05 614.18,423.58 614.52,425.10 614.64,425.55 613.49,423.20 614.01,422.76 613.78,421.57 614.62,421.57 615.78,421.04 614.87,420.37 614.37,422.17 614.59,420.79 616.31,422.92 616.23,424.80 616.54,422.49 616.04,422.38 616.70,423.73 616.45,422.40 616.99,424.03 616.51,422.96 615.70,420.67 617.38,422.64 616.93,422.43 617.35,422.81 616.14,421.73 617.82,425.05 617.62,424.23 618.18,424.73 616.58,424.54 617.27,420.28 618.01,421.73 617.48,422.07 618.54,424.21 618.34,424.29 618.63,424.64 619.23,420.75 619.39,423.41 618.53,424.50 617.95,420.72 619.54,421.46 618.80,419.88 618.85,420.29 619.25,424.67 619.65,422.67 619.81,421.09 619.70,423.30 620.23,424.02 619.90,421.73 619.22,419.90 620.16,420.21 619.34,422.79 620.79,420.77 621.31,421.24 620.00,425.03 621.56,422.18 620.07,422.42 620.85,424.68 621.10,421.50 621.65,422.54 620.63,423.18 620.58,420.20 621.19,424.58 622.35,423.11 622.56,420.73 622.19,422.29 621.24,421.15 622.48,423.16 622.06,421.31 622.18,424.40 622.53,421.37 622.35,422.11 623.19,420.91 622.73,425.06 623.48,423.26 622.36,421.46 623.60,423.06 624.09,421.87 622.90,422.21 624.55,421.99 623.60,423.76 624.68,421.25 623.54,423.50 624.58,422.15 623.75,422.33 623.87,425.52 625.43,425.81 624.26,425.42 625.13,422.64 624.43,422.43 625.21,421.40 625.55,424.80 626.18,421.97 624.53,422.74 624.94,422.33 625.06,426.07 625.97,422.81 626.22,424.64 625.17,425.68 626.42,421.86 626.60,423.40 625.61,422.58 626.04,421.37 626.52,424.64 627.29,421.61 626.05,421.08 626.40,421.08 626.32,422.54 628.09,424.23 626.46,425.55 627.25,424.17 626.98,423.21 627.76,421.05 627.76,425.35 627.62,424.33 627.91,422.82 629.27,423.83 629.45,420.40 628.46,423.45 628.97,421.40 628.02,420.98 629.43,423.03 628.29,422.33 629.27,424.41 629.34,423.40 630.15,421.48 629.80,420.86 628.78,424.51 629.77,424.70 629.61,421.76 629.49,421.71 631.14,423.58 630.65,423.97 629.98,420.50 631.17,420.63 630.00,421.54 631.15,422.89 631.83,421.49 630.30,420.53 630.59,422.33 630.49,422.13 631.14,420.13 631.98,424.90 631.49,423.50 632.65,420.64 631.58,420.22 631.38,423.75 632.91,420.75 631.73,421.95 631.61,421.71 632.47,422.41 633.22,421.01 632.68,424.47 633.79,424.67 633.05,421.38 633.75,420.16 633.40,421.50 632.81,421.54 634.14,422.91 633.43,423.34 633.25,421.93 632.98,423.39 634.53,421.59 633.25,422.71 634.68,421.45 634.71,420.35 634.63,424.22 634.96,420.26 635.16,424.15 634.42,425.14 635.57,420.46 635.03,420.33 634.48,423.25 635.28,420.90 636.03,420.87 635.82,423.83 636.77,422.00 635.48,423.69 635.32,420.76 635.93,422.80 635.67,423.26 636.62,423.28 636.48,424.62 637.07,420.84 636.48,425.34 637.32,421.91 636.55,423.42 637.25,424.63 637.70,421.95 637.11,421.05 638.48,424.73 638.38,421.45 637.65,422.42 637.93,420.58 638.98,422.70 638.64,422.71 638.94,424.26 638.39,422.22 639.27,420.84 637.80,420.88 639.45,421.93 638.72,424.45 638.35,422.29 639.47,423.09 640.22,420.25 640.00,423.89 640.55,421.63 639.96,423.63 639.83,425.20 639.62,420.93 640.96,424.73 640.09,425.21 639.84,424.52 639.60,423.94 639.89,425.19 641.22,425.03 640.50,424.77 641.73,421.09 640.38,422.82 640.27,423.71 642.24,424.66 640.87,423.82 641.20,423.10 640.89,424.99 641.11,424.37 641.82,422.31 641.17,424.75 641.62,423.49 642.86,421.94 642.58,424.52 641.65,422.09 643.37,419.92 642.35,423.33 642.41,423.27 643.74,420.08 643.76,422.56 644.17,423.98 642.83,421.00 643.91,423.71 643.55,424.56 644.79,424.37 644.89,422.31 645.00,424.09 644.14,423.05 643.44,423.35 644.02,422.02 645.51,423.50 643.93,424.56 645.13,420.56 645.23,421.97 645.16,423.97 645.37,420.99 645.79,424.82 645.36,424.72 646.55,423.56 645.46,423.79 645.42,423.91 646.48,421.88 646.85,423.20 645.89,423.20 645.69,423.97 646.10,424.11 647.40,424.76 647.47,422.69 646.59,422.92 647.27,422.10 647.90,425.38 646.81,423.22 647.34,424.00 647.64,423.41 647.55,425.19 647.92,422.44 647.30,421.92 647.60,420.95 648.73,421.65 647.58,423.39 648.45,425.34 648.52,422.67 647.64,424.60 648.51,425.08 648.96,421.07 649.24,422.45 648.82,420.84 649.06,421.30 648.56,421.35 649.94,424.87 650.18,424.94 650.51,424.84 650.27,424.96 649.55,424.58 649.23,420.50 649.71,422.82 650.65,423.61 650.23,421.66 650.75,423.93 649.96,423.67 651.76,422.23 651.53,420.47 651.67,422.62 651.31,424.80 650.73,421.25 650.99,421.12 650.80,423.73 650.90,420.47 651.33,423.25 652.16,424.59 653.09,422.77 652.80,424.11 652.25,423.36 652.89,423.54 652.42,423.60 651.92,423.59 653.62,422.30 653.35,422.26 653.39,420.51 653.18,425.35 653.76,420.72 653.93,420.51 653.95,423.86 653.64,423.44 653.94,421.12 653.85,421.03 654.22,421.62 653.37,422.26 654.54,420.77 653.69,420.91 653.76,420.87 654.42,421.37 654.96,422.55 655.03,425.14 654.81,422.21 655.55,422.68 656.34,423.56 655.26,425.88 655.14,424.92 655.04,424.89 655.30,424.52 655.47,425.46 655.29,424.92 656.84,425.85 656.48,422.55 655.56,426.16 656.47,424.85 656.51,422.60 657.38,423.89 656.38,422.62 657.36,421.76 657.22,424.73 656.72,425.16 656.78,424.05 658.29,422.05 657.37,421.27 658.70,422.76 658.17,425.11 657.42,422.27 658.69,421.83 658.69,423.19 658.78,424.11 657.95,422.20 658.11,424.54 658.82,421.49 659.26,423.55 659.23,422.80 659.22,421.71 659.78,425.82 658.95,422.35 658.76,423.35 659.01,424.59 660.67,425.24 659.37,420.79 660.49,423.04 659.77,420.98 660.54,421.14 659.89,423.30 661.11,422.98 660.88,422.07 659.89,422.52 661.73,424.21 662.11,424.32 662.03,421.75 660.49,422.29 660.54,422.98 660.69,424.18 662.55,424.00 661.63,424.58 661.91,423.42 661.48,422.77 663.23,423.28 661.76,421.56 662.48,423.05 661.70,419.98 662.91,422.06 662.81,421.42 663.18,422.56 662.44,419.70 662.86,422.06 663.14,422.09 664.16,422.17 663.31,424.14 663.88,422.06 663.47,420.02 663.51,422.91 664.36,420.44 664.16,423.53 664.29,420.75 665.05,419.31 664.90,423.12 665.70,419.60 664.00,419.53 665.10,419.69 664.65,419.36 664.89,421.93 665.26,421.33 666.09,421.73 664.93,421.85 666.64,419.85 665.68,419.90 666.53,421.10 666.06,422.43 666.62,419.16 666.85,419.75 666.21,420.88 666.13,424.07 667.18,421.53 667.23,421.06 667.87,421.83 667.98,421.05 667.87,419.84 666.94,422.90 666.78,420.94 668.13,424.22 667.71,422.09 667.07,423.71 668.22,422.88 667.92,422.07 667.25,421.79 667.61,421.04 668.97,420.68 668.86,420.72 668.87,423.25 668.70,421.71 668.85,420.13 670.07,424.77 668.34,421.98 669.66,424.85 670.11,421.35 670.36,424.67 669.69,425.36 669.80,424.49 670.05,424.72 670.99,422.93 669.49,423.13 669.62,423.40 670.24,420.76 670.55,421.10 671.42,421.36 670.03,425.43 671.25,421.22 672.02,421.36 670.96,421.28 670.95,423.51 672.29,425.01 671.87,425.43 671.94,422.76 671.23,421.55 672.39,422.86 671.32,421.33 671.73,423.23 672.37,424.53 672.19,421.29 672.74,421.66 672.85,421.80 673.44,424.14 673.84,424.45 672.41,423.73 673.72,424.82 672.48,422.80 672.82,421.74 673.30,423.38 674.49,424.25 673.23,425.89 674.14,421.27 674.65,422.81 673.33,424.03 675.31,426.08 674.72,423.30 674.17,425.58 674.69,421.84 675.78,423.55 674.52,424.98 675.43,425.16 675.29,425.85 676.36,424.33 674.87,422.16 675.16,422.31 675.72,421.23 676.61,422.97 676.16,422.24 676.39,424.24 675.55,424.26 676.26,424.12 676.50,422.80" fill="none" stroke="#f895c9" stroke-width="2.1" stroke-linejoin="round" /><line x1="435.8" y1="416" x2="435.8" y2="427.5" stroke="#f895c9" stroke-width="1.5"/><line x1="463.9" y1="405.8" x2="463.9" y2="421" stroke="#f895c9" stroke-width="1.5"/><line x1="464.1" y1="405.4" x2="464.1" y2="423" stroke="#f895c9" stroke-width="1.5"/><line x1="485.4" y1="397.8" x2="485.4" y2="406" stroke="#f895c9" stroke-width="1.5"/><line x1="588.3" y1="396" x2="588.3" y2="423.6" stroke="#f895c9" stroke-width="1.5"/><text transform="translate(49.50,11.40) scale(0.94,1)" font-size="16.5" text-anchor="end">0.06</text><text transform="translate(49.50,47.40) scale(0.94,1)" font-size="16.5" text-anchor="end">0.04</text><text transform="translate(49.50,83.40) scale(0.94,1)" font-size="16.5" text-anchor="end">0.02</text><text transform="translate(49.50,119.40) scale(0.94,1)" font-size="16.5" text-anchor="end">0</text><text transform="translate(49.50,155.40) scale(0.94,1)" font-size="16.5" text-anchor="end">-0.02</text><text transform="translate(49.50,191.40) scale(0.94,1)" font-size="16.5" text-anchor="end">-0.04</text><text transform="translate(408.00,11.40) scale(0.94,1)" font-size="16.5" text-anchor="end">0.05</text><text transform="translate(408.00,56.40) scale(0.94,1)" font-size="16.5" text-anchor="end">0.025</text><text transform="translate(408.00,101.40) scale(0.94,1)" font-size="16.5" text-anchor="end">0</text><text transform="translate(408.00,146.40) scale(0.94,1)" font-size="16.5" text-anchor="end">-0.025</text><text transform="translate(408.00,191.40) scale(0.94,1)" font-size="16.5" text-anchor="end">-0.05</text><text transform="translate(57.50,271.40) scale(0.94,1)" font-size="16.5" text-anchor="end">0.05</text><text transform="translate(57.50,316.40) scale(0.94,1)" font-size="16.5" text-anchor="end">0.025</text><text transform="translate(57.50,361.40) scale(0.94,1)" font-size="16.5" text-anchor="end">0</text><text transform="translate(57.50,406.40) scale(0.94,1)" font-size="16.5" text-anchor="end">-0.025</text><text transform="translate(57.50,451.40) scale(0.94,1)" font-size="16.5" text-anchor="end">-0.05</text><text transform="translate(398.50,271.40) scale(0.94,1)" font-size="16.5" text-anchor="end">0.08</text><text transform="translate(398.50,316.40) scale(0.94,1)" font-size="16.5" text-anchor="end">0.06</text><text transform="translate(398.50,361.40) scale(0.94,1)" font-size="16.5" text-anchor="end">0.04</text><text transform="translate(398.50,406.40) scale(0.94,1)" font-size="16.5" text-anchor="end">0.02</text><text transform="translate(54.50,204.80) scale(0.94,1)" font-size="16.5" text-anchor="middle">0</text><text transform="translate(119.75,204.80) scale(0.94,1)" font-size="16.5" text-anchor="middle">10</text><text transform="translate(185.00,204.80) scale(0.94,1)" font-size="16.5" text-anchor="middle">20</text><text transform="translate(250.25,204.80) scale(0.94,1)" font-size="16.5" text-anchor="middle">30</text><text transform="translate(315.50,204.80) scale(0.94,1)" font-size="16.5" text-anchor="middle">40</text><text x="185.0" y="223.7" font-size="17" text-anchor="middle" ><tspan font-style="italic">t</tspan> (s)</text><text transform="translate(413.00,204.80) scale(0.94,1)" font-size="16.5" text-anchor="middle">0</text><text transform="translate(476.62,204.80) scale(0.94,1)" font-size="16.5" text-anchor="middle">10</text><text transform="translate(540.25,204.80) scale(0.94,1)" font-size="16.5" text-anchor="middle">20</text><text transform="translate(603.88,204.80) scale(0.94,1)" font-size="16.5" text-anchor="middle">30</text><text transform="translate(667.50,204.80) scale(0.94,1)" font-size="16.5" text-anchor="middle">40</text><text x="540.25" y="223.7" font-size="17" text-anchor="middle" ><tspan font-style="italic">t</tspan> (s)</text><text transform="translate(62.50,464.80) scale(0.94,1)" font-size="16.5" text-anchor="middle">0</text><text transform="translate(126.12,464.80) scale(0.94,1)" font-size="16.5" text-anchor="middle">10</text><text transform="translate(189.75,464.80) scale(0.94,1)" font-size="16.5" text-anchor="middle">20</text><text transform="translate(253.38,464.80) scale(0.94,1)" font-size="16.5" text-anchor="middle">30</text><text transform="translate(317.00,464.80) scale(0.94,1)" font-size="16.5" text-anchor="middle">40</text><text x="189.75" y="483.7" font-size="17" text-anchor="middle" ><tspan font-style="italic">t</tspan> (s)</text><text transform="translate(403.50,464.80) scale(0.94,1)" font-size="16.5" text-anchor="middle">0</text><text transform="translate(471.75,464.80) scale(0.94,1)" font-size="16.5" text-anchor="middle">10</text><text transform="translate(540.00,464.80) scale(0.94,1)" font-size="16.5" text-anchor="middle">20</text><text transform="translate(608.25,464.80) scale(0.94,1)" font-size="16.5" text-anchor="middle">30</text><text transform="translate(676.50,464.80) scale(0.94,1)" font-size="16.5" text-anchor="middle">40</text><text x="540.0" y="483.7" font-size="17" text-anchor="middle" ><tspan font-style="italic">t</tspan> (s)</text><text x="0" y="0" font-size="17" text-anchor="middle" transform="translate(11.6,95.5) rotate(-90)">Deviation (mm)</text><text x="0" y="0" font-size="17" text-anchor="middle" transform="translate(362.6,95.5) rotate(-90)">Deviation (mm)</text><text x="0" y="0" font-size="17" text-anchor="middle" transform="translate(12.7,355.5) rotate(-90)">Deviation (mm)</text><text x="0" y="0" font-size="18" text-anchor="middle" transform="translate(362.2,344.6) rotate(-90)">Deviation/(mm)</text><text x="91" y="244" font-size="17" text-anchor="start" fill="#000">(a) <tspan font-style="italic">x</tspan>-direction error</text><text x="457.7" y="244" font-size="17" text-anchor="start" fill="#000">(b) <tspan font-style="italic">y</tspan>-direction error</text><text x="91.6" y="504" font-size="17" text-anchor="start" fill="#000">(c) <tspan font-style="italic">z</tspan>-direction error</text><text x="468.2" y="504" font-size="17" text-anchor="start" fill="#000">(d) contour error</text><rect x="245.5" y="13.5" width="62.0" height="47.0" fill="#fff" stroke="#555555" stroke-width="1.2"/><line x1="248" y1="25.4" x2="271" y2="25.4" stroke="#16258c" stroke-width="1.3"/><text x="274" y="26.7" font-size="13.5" fill="#000">X</text><text x="283.6" y="34.4" font-size="11.5" fill="#000">Ori</text><line x1="248" y1="47.6" x2="271" y2="47.6" stroke="#d7b2fa" stroke-width="1.8"/><text x="274" y="48.9" font-size="13.5" fill="#000">X</text><text x="283.6" y="56.6" font-size="11.5" fill="#000">Com</text><rect x="597.5" y="13.5" width="62.5" height="47.0" fill="#fff" stroke="#555555" stroke-width="1.2"/><line x1="599.7" y1="25.4" x2="623" y2="25.4" stroke="#d95319" stroke-width="1.3"/><text x="625.5" y="26.7" font-size="13.5" fill="#000">Y</text><text x="635.5" y="34.4" font-size="11.5" fill="#000">Ori</text><line x1="599.7" y1="47.6" x2="623" y2="47.6" stroke="#edb120" stroke-width="1.8"/><text x="625.5" y="48.9" font-size="13.5" fill="#000">Y</text><text x="635.5" y="56.6" font-size="11.5" fill="#000">Com</text><rect x="248.5" y="273.5" width="61.0" height="47.0" fill="#fff" stroke="#555555" stroke-width="1.2"/><line x1="250.8" y1="285.4" x2="274.2" y2="285.4" stroke="#008000" stroke-width="1.3"/><text x="275.5" y="286.7" font-size="13.5" fill="#000">Z</text><text x="284.7" y="294.4" font-size="11.5" fill="#000">Ori</text><line x1="250.8" y1="307.6" x2="274.2" y2="307.6" stroke="#de7e00" stroke-width="1.8"/><text x="275.5" y="308.90000000000003" font-size="13.5" fill="#000">Z</text><text x="284.7" y="316.6" font-size="11.5" fill="#000">Com</text><rect x="600.5" y="273.5" width="68.0" height="34.0" fill="#fff" stroke="#555555" stroke-width="1.2"/><line x1="603.2" y1="282.3" x2="626.3" y2="282.3" stroke="#7e2f8e" stroke-width="1.5"/><text x="628.6" y="288.1" font-size="14" fill="#000">Before</text><line x1="603.2" y1="298.2" x2="626.3" y2="298.2" stroke="#f895c9" stroke-width="1.8"/><text x="628.6" y="304.0" font-size="14" fill="#000">After</text></svg>
</body></html>
